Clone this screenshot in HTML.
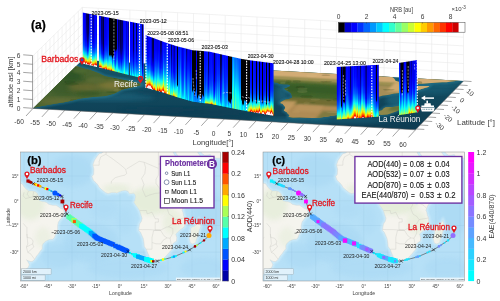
<!DOCTYPE html><html><head><meta charset="utf-8"><title>Figure</title><style>html,body{margin:0;padding:0;background:#fff}svg{display:block}</style></head><body><svg width="500" height="301" viewBox="0 0 500 301" font-family="'Liberation Sans', sans-serif"><defs><clipPath id="cpA"><polygon points="33,108.4 415.5,129.8 463.5,81 82.3,60"/></clipPath><filter id="bl1" x="-20%" y="-20%" width="140%" height="140%"><feGaussianBlur stdDeviation="1.2"/></filter><filter id="bl2" x="-20%" y="-20%" width="140%" height="140%"><feGaussianBlur stdDeviation="2.5"/></filter><filter id="bl05" x="-20%" y="-20%" width="140%" height="140%"><feGaussianBlur stdDeviation="0.5"/></filter><linearGradient id="ocA" x1="0" y1="0" x2="0" y2="1"><stop offset="0" stop-color="#15566a"/><stop offset="1" stop-color="#0d3a50"/></linearGradient><clipPath id="landA"><polygon points="76.3,65.9 80,67.3 84,68.4 90,70 98,73 105,76.3 115,78.2 125,80.2 135,82.3 140.3,84.1 141,85 135,86.7 125,88.7 120,90.6 115,93.2 110,94.8 105,96 98,96.6 90,97.2 80,98.4 75,99.8 70,101 63,102.4 56,103.6 49,104.8 42,106 36,107.2 31,108.6 28,108 72,64"/><polygon points="250.6,60 248.3,61.6 242.8,62.1 237.8,62.1 231.6,63.2 225.3,64.5 220.1,66.3 220.3,68.4 217.3,70.8 213.1,71.7 213.8,73.5 218,75 221,76.5 222.2,77.5 225.8,79 232.3,80.9 236.6,81.6 245.1,81.5 251.5,81.8 254.4,82.3 261.5,81.9 265.6,81.8 272.9,81.9 277.5,82.7 279.5,84.1 284.4,84.2 287.6,84.3 290.2,85.1 290.1,86.2 288,87.3 286.5,88.1 284.4,88.5 285.6,89.7 288.7,91.6 290.7,92.9 291.2,93.5 291.9,95.8 292.3,97.4 289.6,98.8 284.9,99.8 281.4,101.7 280.2,102.9 282.5,103.8 285.2,106.9 284.8,109 283.8,110.6 286.7,112.2 287.7,113.8 289.4,115.2 288.5,116.7 290.1,117.2 292.9,117.7 299.9,117.5 304.7,117.7 311.7,118.1 316.3,117.9 320,117.5 327.8,116.5 331.9,115.8 336.9,115 340.6,113.4 340.1,112.9 343.7,112.3 350.2,111.8 352.4,110.3 351.8,108.5 358.4,107.6 364.2,106.9 371.5,106.3 374.9,105.2 375.9,103.6 377.1,101.9 376.1,100.6 376.4,98.9 375.6,98.1 377.9,97.1 382.8,95.5 387.7,94.9 394.1,93.6 399.7,93.1 405.2,92.5 413.2,91.3 419.9,89.6 424.6,88.1 428.1,87.1 429.4,86 425.1,86 418.4,85.9 411.7,86 406.7,86 403.7,84.9 403.7,83.9 401.6,82.6 397.6,81.6 395.2,80.6 394.6,78.9 391.8,76.6 392,75.4 389.5,73.6 387.6,71.3 385.7,70 384,68.3 384.9,67.4 392.5,67.8 391.3,69"/><polygon points="392.5,67.8 391.3,69 390.4,70.2 394.8,72.6 398,74.4 398.6,76.2 401.2,78 403.9,80.2 404.9,82 404.9,83.7 405.3,83.9 410.2,84.1 417.1,83.9 424.2,83.5 434.9,82.8 442.1,82.3 446.6,82.2 451.2,81.6 455.8,81 460.5,80 464.8,79 461.6,77.8 457.5,76.9 457,75.3 455.5,75.5 451.8,75.9 444.6,76.4 440.2,76.1 441.1,74.9 438.6,75 437.5,74.1 434.7,72.8 432.9,71.3 435.3,70.6 439.6,71.3 441.2,73 446.6,74.3 453.1,74.5 458.1,74.6 460,76 467.7,76.8 476.5,77.3 486.8,77.7 491.2,73.2"/><polygon points="404.3,104.7 404.8,107.3 405.3,107.7 401.9,108.8 399.9,109.5 396,111.4 391.8,112.9 387.4,114.6 381.4,114.9 377.1,114.2 376.9,112 378.3,111.3 382,110.2 383.7,108.2 385.7,107.2 392.6,107 397.5,106.4 401.9,105.4"/></clipPath><linearGradient id="c0" x1="0" y1="0" x2="0" y2="1"><stop offset="0" stop-color="#0008ff"/><stop offset="0.2" stop-color="#000eff"/><stop offset="0.38" stop-color="#0015ff"/><stop offset="0.52" stop-color="#0022ff"/><stop offset="0.63" stop-color="#0047ff"/><stop offset="0.72" stop-color="#0092ff"/><stop offset="0.79" stop-color="#00fbff"/><stop offset="0.845" stop-color="#78ff87"/><stop offset="0.89" stop-color="#fffa00"/><stop offset="0.925" stop-color="#ff6b00"/><stop offset="0.955" stop-color="#e50000"/><stop offset="0.98" stop-color="#fff0ec"/><stop offset="1" stop-color="#fff0ec"/></linearGradient><linearGradient id="c1" x1="0" y1="0" x2="0" y2="1"><stop offset="0" stop-color="#0001ff"/><stop offset="0.2" stop-color="#0008ff"/><stop offset="0.38" stop-color="#0011ff"/><stop offset="0.52" stop-color="#0027ff"/><stop offset="0.63" stop-color="#0052ff"/><stop offset="0.72" stop-color="#009bff"/><stop offset="0.79" stop-color="#00feff"/><stop offset="0.845" stop-color="#7dff82"/><stop offset="0.89" stop-color="#ffe400"/><stop offset="0.925" stop-color="#ff3500"/><stop offset="0.955" stop-color="#fff0ec"/><stop offset="0.98" stop-color="#fff0ec"/><stop offset="1" stop-color="#fff0ec"/></linearGradient><linearGradient id="c2" x1="0" y1="0" x2="0" y2="1"><stop offset="0" stop-color="#0000f8"/><stop offset="0.2" stop-color="#0000fe"/><stop offset="0.38" stop-color="#0006ff"/><stop offset="0.52" stop-color="#0018ff"/><stop offset="0.63" stop-color="#003fff"/><stop offset="0.72" stop-color="#0081ff"/><stop offset="0.79" stop-color="#00d6ff"/><stop offset="0.845" stop-color="#3cffc3"/><stop offset="0.89" stop-color="#b2ff4d"/><stop offset="0.925" stop-color="#ffd100"/><stop offset="0.955" stop-color="#ff4700"/><stop offset="0.98" stop-color="#fff0ec"/><stop offset="1" stop-color="#fff0ec"/></linearGradient><linearGradient id="c3" x1="0" y1="0" x2="0" y2="1"><stop offset="0" stop-color="#0000e6"/><stop offset="0.2" stop-color="#0000ea"/><stop offset="0.38" stop-color="#0000ef"/><stop offset="0.52" stop-color="#0000fb"/><stop offset="0.63" stop-color="#001fff"/><stop offset="0.72" stop-color="#0069ff"/><stop offset="0.79" stop-color="#00cfff"/><stop offset="0.845" stop-color="#43ffbc"/><stop offset="0.89" stop-color="#baff45"/><stop offset="0.925" stop-color="#ffd100"/><stop offset="0.955" stop-color="#ff5a00"/><stop offset="0.98" stop-color="#e50000"/><stop offset="1" stop-color="#fff0ec"/></linearGradient><linearGradient id="c4" x1="0" y1="0" x2="0" y2="1"><stop offset="0" stop-color="#000062"/><stop offset="0.2" stop-color="#00006e"/><stop offset="0.38" stop-color="#00009b"/><stop offset="0.52" stop-color="#0000e5"/><stop offset="0.63" stop-color="#001aff"/><stop offset="0.72" stop-color="#0060ff"/><stop offset="0.79" stop-color="#00b7ff"/><stop offset="0.845" stop-color="#21ffde"/><stop offset="0.89" stop-color="#a0ff5f"/><stop offset="0.925" stop-color="#ffd000"/><stop offset="0.955" stop-color="#ff2c00"/><stop offset="0.98" stop-color="#fff0ec"/><stop offset="1" stop-color="#fff0ec"/></linearGradient><linearGradient id="c5" x1="0" y1="0" x2="0" y2="1"><stop offset="0" stop-color="#000053"/><stop offset="0.2" stop-color="#000058"/><stop offset="0.38" stop-color="#000063"/><stop offset="0.52" stop-color="#000088"/><stop offset="0.63" stop-color="#0000de"/><stop offset="0.72" stop-color="#001dff"/><stop offset="0.79" stop-color="#0075ff"/><stop offset="0.845" stop-color="#00e2ff"/><stop offset="0.89" stop-color="#63ff9c"/><stop offset="0.925" stop-color="#ebff14"/><stop offset="0.955" stop-color="#ff7a00"/><stop offset="0.98" stop-color="#e50000"/><stop offset="1" stop-color="#fff0ec"/></linearGradient><linearGradient id="c6" x1="0" y1="0" x2="0" y2="1"><stop offset="0" stop-color="#000047"/><stop offset="0.2" stop-color="#00004d"/><stop offset="0.38" stop-color="#000067"/><stop offset="0.52" stop-color="#0000bb"/><stop offset="0.63" stop-color="#0006ff"/><stop offset="0.72" stop-color="#0057ff"/><stop offset="0.79" stop-color="#00b9ff"/><stop offset="0.845" stop-color="#28ffd7"/><stop offset="0.89" stop-color="#a2ff5d"/><stop offset="0.925" stop-color="#ffde00"/><stop offset="0.955" stop-color="#ff5600"/><stop offset="0.98" stop-color="#e50000"/><stop offset="1" stop-color="#fff0ec"/></linearGradient><linearGradient id="c7" x1="0" y1="0" x2="0" y2="1"><stop offset="0" stop-color="#0000fd"/><stop offset="0.2" stop-color="#0006ff"/><stop offset="0.38" stop-color="#001cff"/><stop offset="0.52" stop-color="#0049ff"/><stop offset="0.63" stop-color="#008bff"/><stop offset="0.72" stop-color="#00daff"/><stop offset="0.79" stop-color="#2dffd2"/><stop offset="0.845" stop-color="#80ff7f"/><stop offset="0.89" stop-color="#d8ff27"/><stop offset="0.925" stop-color="#ffce00"/><stop offset="0.955" stop-color="#ff6d00"/><stop offset="0.98" stop-color="#ff0800"/><stop offset="1" stop-color="#fff0ec"/></linearGradient><linearGradient id="c8" x1="0" y1="0" x2="0" y2="1"><stop offset="0" stop-color="#0000fc"/><stop offset="0.2" stop-color="#0003ff"/><stop offset="0.38" stop-color="#000bff"/><stop offset="0.52" stop-color="#0020ff"/><stop offset="0.63" stop-color="#0052ff"/><stop offset="0.72" stop-color="#00a8ff"/><stop offset="0.79" stop-color="#17ffe8"/><stop offset="0.845" stop-color="#91ff6e"/><stop offset="0.89" stop-color="#ffe800"/><stop offset="0.925" stop-color="#ff6100"/><stop offset="0.955" stop-color="#e50000"/><stop offset="0.98" stop-color="#fff0ec"/><stop offset="1" stop-color="#fff0ec"/></linearGradient><linearGradient id="c9" x1="0" y1="0" x2="0" y2="1"><stop offset="0" stop-color="#000fff"/><stop offset="0.2" stop-color="#0016ff"/><stop offset="0.38" stop-color="#0027ff"/><stop offset="0.52" stop-color="#0049ff"/><stop offset="0.63" stop-color="#007dff"/><stop offset="0.72" stop-color="#00c1ff"/><stop offset="0.79" stop-color="#0dfff2"/><stop offset="0.845" stop-color="#61ff9e"/><stop offset="0.89" stop-color="#c3ff3c"/><stop offset="0.925" stop-color="#ffce00"/><stop offset="0.955" stop-color="#ff4d00"/><stop offset="0.98" stop-color="#e50000"/><stop offset="1" stop-color="#fff0ec"/></linearGradient><linearGradient id="c10" x1="0" y1="0" x2="0" y2="1"><stop offset="0" stop-color="#0000d3"/><stop offset="0.2" stop-color="#0000d7"/><stop offset="0.38" stop-color="#0000e0"/><stop offset="0.52" stop-color="#0000f9"/><stop offset="0.63" stop-color="#0025ff"/><stop offset="0.72" stop-color="#0060ff"/><stop offset="0.79" stop-color="#00a4ff"/><stop offset="0.845" stop-color="#00f0ff"/><stop offset="0.89" stop-color="#4effb1"/><stop offset="0.925" stop-color="#b7ff48"/><stop offset="0.955" stop-color="#ffc800"/><stop offset="0.98" stop-color="#ff3600"/><stop offset="1" stop-color="#fff0ec"/></linearGradient><linearGradient id="c11" x1="0" y1="0" x2="0" y2="1"><stop offset="0" stop-color="#0000a3"/><stop offset="0.2" stop-color="#0000ad"/><stop offset="0.38" stop-color="#0000c2"/><stop offset="0.52" stop-color="#0000e6"/><stop offset="0.63" stop-color="#0015ff"/><stop offset="0.72" stop-color="#0059ff"/><stop offset="0.79" stop-color="#00aaff"/><stop offset="0.845" stop-color="#06fff9"/><stop offset="0.89" stop-color="#70ff8f"/><stop offset="0.925" stop-color="#e6ff19"/><stop offset="0.955" stop-color="#ff8c00"/><stop offset="0.98" stop-color="#ed0000"/><stop offset="1" stop-color="#fff0ec"/></linearGradient><linearGradient id="c12" x1="0" y1="0" x2="0" y2="1"><stop offset="0" stop-color="#0000ef"/><stop offset="0.2" stop-color="#0000f4"/><stop offset="0.38" stop-color="#0000fa"/><stop offset="0.52" stop-color="#0004ff"/><stop offset="0.63" stop-color="#0020ff"/><stop offset="0.72" stop-color="#005fff"/><stop offset="0.79" stop-color="#00bcff"/><stop offset="0.845" stop-color="#2cffd3"/><stop offset="0.89" stop-color="#aaff55"/><stop offset="0.925" stop-color="#ffd400"/><stop offset="0.955" stop-color="#ff4800"/><stop offset="0.98" stop-color="#fff0ec"/><stop offset="1" stop-color="#fff0ec"/></linearGradient><linearGradient id="c13" x1="0" y1="0" x2="0" y2="1"><stop offset="0" stop-color="#0003ff"/><stop offset="0.2" stop-color="#0008ff"/><stop offset="0.38" stop-color="#000fff"/><stop offset="0.52" stop-color="#001dff"/><stop offset="0.63" stop-color="#0043ff"/><stop offset="0.72" stop-color="#008dff"/><stop offset="0.79" stop-color="#00f2ff"/><stop offset="0.845" stop-color="#68ff97"/><stop offset="0.89" stop-color="#ebff14"/><stop offset="0.925" stop-color="#ff8d00"/><stop offset="0.955" stop-color="#f80000"/><stop offset="0.98" stop-color="#fff0ec"/><stop offset="1" stop-color="#fff0ec"/></linearGradient><linearGradient id="c14" x1="0" y1="0" x2="0" y2="1"><stop offset="0" stop-color="#0000f5"/><stop offset="0.2" stop-color="#0000fb"/><stop offset="0.38" stop-color="#0005ff"/><stop offset="0.52" stop-color="#001cff"/><stop offset="0.63" stop-color="#004aff"/><stop offset="0.72" stop-color="#0090ff"/><stop offset="0.79" stop-color="#00e7ff"/><stop offset="0.845" stop-color="#51ffae"/><stop offset="0.89" stop-color="#cfff30"/><stop offset="0.925" stop-color="#ffa200"/><stop offset="0.955" stop-color="#fc0000"/><stop offset="0.98" stop-color="#fff0ec"/><stop offset="1" stop-color="#fff0ec"/></linearGradient><linearGradient id="c15" x1="0" y1="0" x2="0" y2="1"><stop offset="0" stop-color="#0000f5"/><stop offset="0.2" stop-color="#0000fa"/><stop offset="0.38" stop-color="#0001ff"/><stop offset="0.52" stop-color="#000eff"/><stop offset="0.63" stop-color="#002dff"/><stop offset="0.72" stop-color="#0066ff"/><stop offset="0.79" stop-color="#00b0ff"/><stop offset="0.845" stop-color="#08fff7"/><stop offset="0.89" stop-color="#6eff91"/><stop offset="0.925" stop-color="#ddff22"/><stop offset="0.955" stop-color="#ff9f00"/><stop offset="0.98" stop-color="#ff0e00"/><stop offset="1" stop-color="#fff0ec"/></linearGradient><linearGradient id="c16" x1="0" y1="0" x2="0" y2="1"><stop offset="0" stop-color="#0009ff"/><stop offset="0.2" stop-color="#0010ff"/><stop offset="0.38" stop-color="#0016ff"/><stop offset="0.52" stop-color="#0023ff"/><stop offset="0.63" stop-color="#0040ff"/><stop offset="0.72" stop-color="#0075ff"/><stop offset="0.79" stop-color="#00bdff"/><stop offset="0.845" stop-color="#15ffea"/><stop offset="0.89" stop-color="#7cff83"/><stop offset="0.925" stop-color="#ebff14"/><stop offset="0.955" stop-color="#ff9300"/><stop offset="0.98" stop-color="#ff0700"/><stop offset="1" stop-color="#fff0ec"/></linearGradient><linearGradient id="c17" x1="0" y1="0" x2="0" y2="1"><stop offset="0" stop-color="#000065"/><stop offset="0.2" stop-color="#00006a"/><stop offset="0.38" stop-color="#000077"/><stop offset="0.52" stop-color="#0000a6"/><stop offset="0.63" stop-color="#0000ec"/><stop offset="0.72" stop-color="#002aff"/><stop offset="0.79" stop-color="#0077ff"/><stop offset="0.845" stop-color="#00d2ff"/><stop offset="0.89" stop-color="#3cffc3"/><stop offset="0.925" stop-color="#aeff51"/><stop offset="0.955" stop-color="#ffcd00"/><stop offset="0.98" stop-color="#ff3d00"/><stop offset="1" stop-color="#fff0ec"/></linearGradient><linearGradient id="c18" x1="0" y1="0" x2="0" y2="1"><stop offset="0" stop-color="#000071"/><stop offset="0.2" stop-color="#000077"/><stop offset="0.38" stop-color="#00007e"/><stop offset="0.52" stop-color="#000092"/><stop offset="0.63" stop-color="#0000d8"/><stop offset="0.72" stop-color="#000dff"/><stop offset="0.79" stop-color="#0059ff"/><stop offset="0.845" stop-color="#00b0ff"/><stop offset="0.89" stop-color="#0dfff2"/><stop offset="0.925" stop-color="#67ff98"/><stop offset="0.955" stop-color="#c7ff38"/><stop offset="0.98" stop-color="#ffd400"/><stop offset="1" stop-color="#ff7300"/></linearGradient><linearGradient id="c19" x1="0" y1="0" x2="0" y2="1"><stop offset="0" stop-color="#00003b"/><stop offset="0.2" stop-color="#00003e"/><stop offset="0.38" stop-color="#000041"/><stop offset="0.52" stop-color="#00004d"/><stop offset="0.63" stop-color="#00007f"/><stop offset="0.72" stop-color="#0000e6"/><stop offset="0.79" stop-color="#0029ff"/><stop offset="0.845" stop-color="#007eff"/><stop offset="0.89" stop-color="#00e2ff"/><stop offset="0.925" stop-color="#4fffb0"/><stop offset="0.955" stop-color="#ccff33"/><stop offset="0.98" stop-color="#ffa700"/><stop offset="1" stop-color="#ff1800"/></linearGradient><linearGradient id="c20" x1="0" y1="0" x2="0" y2="1"><stop offset="0" stop-color="#0000e5"/><stop offset="0.2" stop-color="#0000e9"/><stop offset="0.38" stop-color="#0000ee"/><stop offset="0.52" stop-color="#0000f5"/><stop offset="0.63" stop-color="#000aff"/><stop offset="0.72" stop-color="#0038ff"/><stop offset="0.79" stop-color="#007dff"/><stop offset="0.845" stop-color="#00d1ff"/><stop offset="0.89" stop-color="#34ffcb"/><stop offset="0.925" stop-color="#99ff66"/><stop offset="0.955" stop-color="#fff300"/><stop offset="0.98" stop-color="#ff7800"/><stop offset="1" stop-color="#fc0000"/></linearGradient><linearGradient id="c21" x1="0" y1="0" x2="0" y2="1"><stop offset="0" stop-color="#0000dd"/><stop offset="0.2" stop-color="#0000e2"/><stop offset="0.38" stop-color="#0000ef"/><stop offset="0.52" stop-color="#0007ff"/><stop offset="0.63" stop-color="#002cff"/><stop offset="0.72" stop-color="#005cff"/><stop offset="0.79" stop-color="#0099ff"/><stop offset="0.845" stop-color="#00e5ff"/><stop offset="0.89" stop-color="#46ffb9"/><stop offset="0.925" stop-color="#b2ff4d"/><stop offset="0.955" stop-color="#ffcb00"/><stop offset="0.98" stop-color="#ff3c00"/><stop offset="1" stop-color="#fff0ec"/></linearGradient><linearGradient id="c22" x1="0" y1="0" x2="0" y2="1"><stop offset="0" stop-color="#0000ee"/><stop offset="0.2" stop-color="#0000f3"/><stop offset="0.38" stop-color="#0000f9"/><stop offset="0.52" stop-color="#0008ff"/><stop offset="0.63" stop-color="#0029ff"/><stop offset="0.72" stop-color="#0064ff"/><stop offset="0.79" stop-color="#00b1ff"/><stop offset="0.845" stop-color="#0afff5"/><stop offset="0.89" stop-color="#6cff93"/><stop offset="0.925" stop-color="#cfff30"/><stop offset="0.955" stop-color="#ffc100"/><stop offset="0.98" stop-color="#ff4e00"/><stop offset="1" stop-color="#e50000"/></linearGradient><linearGradient id="c23" x1="0" y1="0" x2="0" y2="1"><stop offset="0" stop-color="#0000fe"/><stop offset="0.2" stop-color="#0004ff"/><stop offset="0.38" stop-color="#000bff"/><stop offset="0.52" stop-color="#0015ff"/><stop offset="0.63" stop-color="#002eff"/><stop offset="0.72" stop-color="#005bff"/><stop offset="0.79" stop-color="#0096ff"/><stop offset="0.845" stop-color="#00daff"/><stop offset="0.89" stop-color="#28ffd7"/><stop offset="0.925" stop-color="#76ff89"/><stop offset="0.955" stop-color="#ccff33"/><stop offset="0.98" stop-color="#ffd600"/><stop offset="1" stop-color="#ff7d00"/></linearGradient><linearGradient id="c24" x1="0" y1="0" x2="0" y2="1"><stop offset="0" stop-color="#0000ff"/><stop offset="0.2" stop-color="#0008ff"/><stop offset="0.38" stop-color="#0016ff"/><stop offset="0.52" stop-color="#002fff"/><stop offset="0.63" stop-color="#0051ff"/><stop offset="0.72" stop-color="#007cff"/><stop offset="0.79" stop-color="#00aeff"/><stop offset="0.845" stop-color="#00e9ff"/><stop offset="0.89" stop-color="#33ffcc"/><stop offset="0.925" stop-color="#86ff79"/><stop offset="0.955" stop-color="#e9ff16"/><stop offset="0.98" stop-color="#ffa700"/><stop offset="1" stop-color="#ff3700"/></linearGradient><linearGradient id="c25" x1="0" y1="0" x2="0" y2="1"><stop offset="0" stop-color="#000004"/><stop offset="0.697" stop-color="#000004"/><stop offset="0.747" stop-color="#00afff"/><stop offset="0.79" stop-color="#00d4ff"/><stop offset="0.845" stop-color="#11ffee"/><stop offset="0.89" stop-color="#56ffa9"/><stop offset="0.925" stop-color="#9fff60"/><stop offset="0.955" stop-color="#f3ff0c"/><stop offset="0.98" stop-color="#ffad00"/><stop offset="1" stop-color="#ff4f00"/></linearGradient><linearGradient id="c26" x1="0" y1="0" x2="0" y2="1"><stop offset="0" stop-color="#000004"/><stop offset="0.693" stop-color="#000004"/><stop offset="0.743" stop-color="#009aff"/><stop offset="0.79" stop-color="#00caff"/><stop offset="0.845" stop-color="#11ffee"/><stop offset="0.89" stop-color="#58ffa7"/><stop offset="0.925" stop-color="#9eff61"/><stop offset="0.955" stop-color="#ebff14"/><stop offset="0.98" stop-color="#ffc300"/><stop offset="1" stop-color="#ff7400"/></linearGradient><linearGradient id="c27" x1="0" y1="0" x2="0" y2="1"><stop offset="0" stop-color="#000004"/><stop offset="0.694" stop-color="#000004"/><stop offset="0.744" stop-color="#0089ff"/><stop offset="0.79" stop-color="#00b8ff"/><stop offset="0.845" stop-color="#00ffff"/><stop offset="0.89" stop-color="#4fffb0"/><stop offset="0.925" stop-color="#a5ff5a"/><stop offset="0.955" stop-color="#ffef00"/><stop offset="0.98" stop-color="#ff7100"/><stop offset="1" stop-color="#e70000"/></linearGradient><linearGradient id="c28" x1="0" y1="0" x2="0" y2="1"><stop offset="0" stop-color="#000004"/><stop offset="0.732" stop-color="#000004"/><stop offset="0.782" stop-color="#004dff"/><stop offset="0.79" stop-color="#0053ff"/><stop offset="0.845" stop-color="#008bff"/><stop offset="0.89" stop-color="#00cfff"/><stop offset="0.925" stop-color="#1cffe3"/><stop offset="0.955" stop-color="#77ff88"/><stop offset="0.98" stop-color="#deff21"/><stop offset="1" stop-color="#ffb200"/></linearGradient><linearGradient id="c29" x1="0" y1="0" x2="0" y2="1"><stop offset="0" stop-color="#000004"/><stop offset="0.693" stop-color="#000004"/><stop offset="0.743" stop-color="#0081ff"/><stop offset="0.79" stop-color="#00abff"/><stop offset="0.845" stop-color="#00e5ff"/><stop offset="0.89" stop-color="#20ffdf"/><stop offset="0.925" stop-color="#5bffa4"/><stop offset="0.955" stop-color="#a0ff5f"/><stop offset="0.98" stop-color="#efff10"/><stop offset="1" stop-color="#ffbd00"/></linearGradient><linearGradient id="c30" x1="0" y1="0" x2="0" y2="1"><stop offset="0" stop-color="#000004"/><stop offset="0.566" stop-color="#000004"/><stop offset="0.616" stop-color="#0000f3"/><stop offset="0.63" stop-color="#0000f8"/><stop offset="0.72" stop-color="#0021ff"/><stop offset="0.79" stop-color="#004fff"/><stop offset="0.845" stop-color="#0081ff"/><stop offset="0.89" stop-color="#00b9ff"/><stop offset="0.925" stop-color="#00f7ff"/><stop offset="0.955" stop-color="#40ffbf"/><stop offset="0.98" stop-color="#92ff6d"/><stop offset="1" stop-color="#e7ff18"/></linearGradient><linearGradient id="c31" x1="0" y1="0" x2="0" y2="1"><stop offset="0" stop-color="#000004"/><stop offset="0.584" stop-color="#000004"/><stop offset="0.634" stop-color="#0000e4"/><stop offset="0.72" stop-color="#0003ff"/><stop offset="0.79" stop-color="#0028ff"/><stop offset="0.845" stop-color="#004fff"/><stop offset="0.89" stop-color="#007cff"/><stop offset="0.925" stop-color="#00aeff"/><stop offset="0.955" stop-color="#00ebff"/><stop offset="0.98" stop-color="#35ffca"/><stop offset="1" stop-color="#85ff7a"/></linearGradient><linearGradient id="c32" x1="0" y1="0" x2="0" y2="1"><stop offset="0" stop-color="#000004"/><stop offset="0.56" stop-color="#000004"/><stop offset="0.61" stop-color="#0008ff"/><stop offset="0.63" stop-color="#000eff"/><stop offset="0.72" stop-color="#003cff"/><stop offset="0.79" stop-color="#0076ff"/><stop offset="0.845" stop-color="#00aeff"/><stop offset="0.89" stop-color="#00dfff"/><stop offset="0.925" stop-color="#08fff7"/><stop offset="0.955" stop-color="#2cffd3"/><stop offset="0.98" stop-color="#4dffb2"/><stop offset="1" stop-color="#6bff94"/></linearGradient><linearGradient id="c33" x1="0" y1="0" x2="0" y2="1"><stop offset="0" stop-color="#0000f8"/><stop offset="0.2" stop-color="#0000fd"/><stop offset="0.38" stop-color="#0004ff"/><stop offset="0.52" stop-color="#000dff"/><stop offset="0.63" stop-color="#0025ff"/><stop offset="0.72" stop-color="#0051ff"/><stop offset="0.79" stop-color="#0085ff"/><stop offset="0.845" stop-color="#00b5ff"/><stop offset="0.89" stop-color="#00dbff"/><stop offset="0.925" stop-color="#00f4ff"/><stop offset="0.955" stop-color="#06fff9"/><stop offset="0.98" stop-color="#10ffef"/><stop offset="1" stop-color="#16ffe9"/></linearGradient><linearGradient id="c34" x1="0" y1="0" x2="0" y2="1"><stop offset="0" stop-color="#00004e"/><stop offset="0.2" stop-color="#000053"/><stop offset="0.38" stop-color="#000061"/><stop offset="0.52" stop-color="#00008b"/><stop offset="0.63" stop-color="#0000d9"/><stop offset="0.72" stop-color="#0000fb"/><stop offset="0.79" stop-color="#0023ff"/><stop offset="0.845" stop-color="#004eff"/><stop offset="0.89" stop-color="#0080ff"/><stop offset="0.925" stop-color="#00baff"/><stop offset="0.955" stop-color="#04fffb"/><stop offset="0.98" stop-color="#5affa5"/><stop offset="1" stop-color="#b6ff49"/></linearGradient><linearGradient id="c35" x1="0" y1="0" x2="0" y2="1"><stop offset="0" stop-color="#000075"/><stop offset="0.2" stop-color="#00007d"/><stop offset="0.38" stop-color="#00008f"/><stop offset="0.52" stop-color="#0000ba"/><stop offset="0.63" stop-color="#0000e6"/><stop offset="0.72" stop-color="#0004ff"/><stop offset="0.79" stop-color="#0024ff"/><stop offset="0.845" stop-color="#0048ff"/><stop offset="0.89" stop-color="#0073ff"/><stop offset="0.925" stop-color="#00a6ff"/><stop offset="0.955" stop-color="#00e7ff"/><stop offset="0.98" stop-color="#35ffca"/><stop offset="1" stop-color="#89ff76"/></linearGradient><linearGradient id="c36" x1="0" y1="0" x2="0" y2="1"><stop offset="0" stop-color="#000046"/><stop offset="0.2" stop-color="#00004a"/><stop offset="0.38" stop-color="#00004f"/><stop offset="0.52" stop-color="#000061"/><stop offset="0.63" stop-color="#0000a3"/><stop offset="0.72" stop-color="#0000f3"/><stop offset="0.79" stop-color="#002cff"/><stop offset="0.845" stop-color="#0062ff"/><stop offset="0.89" stop-color="#0092ff"/><stop offset="0.925" stop-color="#00b7ff"/><stop offset="0.955" stop-color="#00d8ff"/><stop offset="0.98" stop-color="#00f5ff"/><stop offset="1" stop-color="#10ffef"/></linearGradient><linearGradient id="c37" x1="0" y1="0" x2="0" y2="1"><stop offset="0" stop-color="#000062"/><stop offset="0.2" stop-color="#000067"/><stop offset="0.38" stop-color="#00006c"/><stop offset="0.52" stop-color="#000075"/><stop offset="0.63" stop-color="#000097"/><stop offset="0.72" stop-color="#0000e0"/><stop offset="0.79" stop-color="#000cff"/><stop offset="0.845" stop-color="#003cff"/><stop offset="0.89" stop-color="#006cff"/><stop offset="0.925" stop-color="#0098ff"/><stop offset="0.955" stop-color="#00c5ff"/><stop offset="0.98" stop-color="#00f2ff"/><stop offset="1" stop-color="#20ffdf"/></linearGradient><linearGradient id="c38" x1="0" y1="0" x2="0" y2="1"><stop offset="0" stop-color="#00005a"/><stop offset="0.2" stop-color="#00005f"/><stop offset="0.38" stop-color="#000067"/><stop offset="0.52" stop-color="#000087"/><stop offset="0.63" stop-color="#0000db"/><stop offset="0.72" stop-color="#000dff"/><stop offset="0.79" stop-color="#0044ff"/><stop offset="0.845" stop-color="#0075ff"/><stop offset="0.89" stop-color="#009dff"/><stop offset="0.925" stop-color="#00bbff"/><stop offset="0.955" stop-color="#00d4ff"/><stop offset="0.98" stop-color="#00e9ff"/><stop offset="1" stop-color="#00fcff"/></linearGradient><linearGradient id="c39" x1="0" y1="0" x2="0" y2="1"><stop offset="0" stop-color="#0000fa"/><stop offset="0.2" stop-color="#0000ff"/><stop offset="0.38" stop-color="#0005ff"/><stop offset="0.52" stop-color="#000bff"/><stop offset="0.63" stop-color="#0019ff"/><stop offset="0.72" stop-color="#0037ff"/><stop offset="0.79" stop-color="#0061ff"/><stop offset="0.845" stop-color="#008dff"/><stop offset="0.89" stop-color="#00b6ff"/><stop offset="0.925" stop-color="#00d8ff"/><stop offset="0.955" stop-color="#00f8ff"/><stop offset="0.98" stop-color="#17ffe8"/><stop offset="1" stop-color="#34ffcb"/></linearGradient><linearGradient id="c40" x1="0" y1="0" x2="0" y2="1"><stop offset="0" stop-color="#0009ff"/><stop offset="0.2" stop-color="#000fff"/><stop offset="0.38" stop-color="#0018ff"/><stop offset="0.52" stop-color="#002aff"/><stop offset="0.63" stop-color="#004dff"/><stop offset="0.72" stop-color="#007dff"/><stop offset="0.79" stop-color="#00afff"/><stop offset="0.845" stop-color="#00daff"/><stop offset="0.89" stop-color="#02fffd"/><stop offset="0.925" stop-color="#22ffdd"/><stop offset="0.955" stop-color="#42ffbd"/><stop offset="0.98" stop-color="#62ff9d"/><stop offset="1" stop-color="#81ff7e"/></linearGradient><linearGradient id="c41" x1="0" y1="0" x2="0" y2="1"><stop offset="0" stop-color="#0007ff"/><stop offset="0.2" stop-color="#000dff"/><stop offset="0.38" stop-color="#0013ff"/><stop offset="0.52" stop-color="#001dff"/><stop offset="0.63" stop-color="#002fff"/><stop offset="0.72" stop-color="#004bff"/><stop offset="0.79" stop-color="#006aff"/><stop offset="0.845" stop-color="#0087ff"/><stop offset="0.89" stop-color="#00a2ff"/><stop offset="0.925" stop-color="#00bcff"/><stop offset="0.955" stop-color="#00d7ff"/><stop offset="0.98" stop-color="#00f5ff"/><stop offset="1" stop-color="#15ffea"/></linearGradient><linearGradient id="c42" x1="0" y1="0" x2="0" y2="1"><stop offset="0" stop-color="#0000be"/><stop offset="0.2" stop-color="#0000d3"/><stop offset="0.38" stop-color="#0000d7"/><stop offset="0.52" stop-color="#0000e1"/><stop offset="0.63" stop-color="#0000f9"/><stop offset="0.72" stop-color="#0021ff"/><stop offset="0.79" stop-color="#004cff"/><stop offset="0.845" stop-color="#0074ff"/><stop offset="0.89" stop-color="#009bff"/><stop offset="0.925" stop-color="#00bfff"/><stop offset="0.955" stop-color="#00eaff"/><stop offset="0.98" stop-color="#1cffe3"/><stop offset="1" stop-color="#53ffac"/></linearGradient><linearGradient id="c43" x1="0" y1="0" x2="0" y2="1"><stop offset="0" stop-color="#0000fc"/><stop offset="0.2" stop-color="#0002ff"/><stop offset="0.38" stop-color="#0008ff"/><stop offset="0.52" stop-color="#0010ff"/><stop offset="0.63" stop-color="#0023ff"/><stop offset="0.72" stop-color="#0046ff"/><stop offset="0.79" stop-color="#006fff"/><stop offset="0.845" stop-color="#0095ff"/><stop offset="0.89" stop-color="#00b7ff"/><stop offset="0.925" stop-color="#00d2ff"/><stop offset="0.955" stop-color="#00eeff"/><stop offset="0.98" stop-color="#0cfff3"/><stop offset="1" stop-color="#2bffd4"/></linearGradient><linearGradient id="c44" x1="0" y1="0" x2="0" y2="1"><stop offset="0" stop-color="#0000aa"/><stop offset="0.2" stop-color="#0000b3"/><stop offset="0.38" stop-color="#0000c2"/><stop offset="0.52" stop-color="#0000de"/><stop offset="0.63" stop-color="#0000fb"/><stop offset="0.72" stop-color="#0026ff"/><stop offset="0.79" stop-color="#0051ff"/><stop offset="0.845" stop-color="#0073ff"/><stop offset="0.89" stop-color="#008dff"/><stop offset="0.925" stop-color="#009eff"/><stop offset="0.955" stop-color="#00aaff"/><stop offset="0.98" stop-color="#00b3ff"/><stop offset="1" stop-color="#00baff"/></linearGradient><linearGradient id="c45" x1="0" y1="0" x2="0" y2="1"><stop offset="0" stop-color="#0000f8"/><stop offset="0.2" stop-color="#0000fd"/><stop offset="0.38" stop-color="#0002ff"/><stop offset="0.52" stop-color="#0006ff"/><stop offset="0.63" stop-color="#000dff"/><stop offset="0.72" stop-color="#0020ff"/><stop offset="0.79" stop-color="#0047ff"/><stop offset="0.845" stop-color="#007aff"/><stop offset="0.89" stop-color="#00abff"/><stop offset="0.925" stop-color="#00cfff"/><stop offset="0.955" stop-color="#00e9ff"/><stop offset="0.98" stop-color="#00f9ff"/><stop offset="1" stop-color="#03fffc"/></linearGradient><linearGradient id="c46" x1="0" y1="0" x2="0" y2="1"><stop offset="0" stop-color="#0000f4"/><stop offset="0.2" stop-color="#0000f9"/><stop offset="0.38" stop-color="#0000fe"/><stop offset="0.52" stop-color="#0006ff"/><stop offset="0.63" stop-color="#0014ff"/><stop offset="0.72" stop-color="#002bff"/><stop offset="0.79" stop-color="#0045ff"/><stop offset="0.845" stop-color="#005dff"/><stop offset="0.89" stop-color="#0072ff"/><stop offset="0.925" stop-color="#0084ff"/><stop offset="0.955" stop-color="#0096ff"/><stop offset="0.98" stop-color="#00aaff"/><stop offset="1" stop-color="#00bfff"/></linearGradient><linearGradient id="c47" x1="0" y1="0" x2="0" y2="1"><stop offset="0" stop-color="#0000f5"/><stop offset="0.2" stop-color="#0000fa"/><stop offset="0.38" stop-color="#0000fe"/><stop offset="0.52" stop-color="#0004ff"/><stop offset="0.63" stop-color="#000fff"/><stop offset="0.72" stop-color="#002bff"/><stop offset="0.79" stop-color="#0054ff"/><stop offset="0.845" stop-color="#0081ff"/><stop offset="0.89" stop-color="#00a9ff"/><stop offset="0.925" stop-color="#00c8ff"/><stop offset="0.955" stop-color="#00e2ff"/><stop offset="0.98" stop-color="#00f8ff"/><stop offset="1" stop-color="#0cfff3"/></linearGradient><linearGradient id="c48" x1="0" y1="0" x2="0" y2="1"><stop offset="0" stop-color="#000041"/><stop offset="0.2" stop-color="#000045"/><stop offset="0.38" stop-color="#00004e"/><stop offset="0.52" stop-color="#000070"/><stop offset="0.63" stop-color="#0000ba"/><stop offset="0.72" stop-color="#0000f1"/><stop offset="0.79" stop-color="#0018ff"/><stop offset="0.845" stop-color="#003eff"/><stop offset="0.89" stop-color="#0065ff"/><stop offset="0.925" stop-color="#008dff"/><stop offset="0.955" stop-color="#00baff"/><stop offset="0.98" stop-color="#00ebff"/><stop offset="1" stop-color="#1fffe0"/></linearGradient><linearGradient id="c49" x1="0" y1="0" x2="0" y2="1"><stop offset="0" stop-color="#0000f5"/><stop offset="0.2" stop-color="#0000fa"/><stop offset="0.38" stop-color="#0000ff"/><stop offset="0.52" stop-color="#0006ff"/><stop offset="0.63" stop-color="#0015ff"/><stop offset="0.72" stop-color="#0030ff"/><stop offset="0.79" stop-color="#0052ff"/><stop offset="0.845" stop-color="#0072ff"/><stop offset="0.89" stop-color="#008fff"/><stop offset="0.925" stop-color="#00a5ff"/><stop offset="0.955" stop-color="#00b9ff"/><stop offset="0.98" stop-color="#00caff"/><stop offset="1" stop-color="#00daff"/></linearGradient><linearGradient id="c50" x1="0" y1="0" x2="0" y2="1"><stop offset="0" stop-color="#000aff"/><stop offset="0.2" stop-color="#0011ff"/><stop offset="0.38" stop-color="#0016ff"/><stop offset="0.52" stop-color="#001bff"/><stop offset="0.63" stop-color="#0024ff"/><stop offset="0.72" stop-color="#003bff"/><stop offset="0.79" stop-color="#005eff"/><stop offset="0.845" stop-color="#0086ff"/><stop offset="0.89" stop-color="#00aeff"/><stop offset="0.925" stop-color="#00cfff"/><stop offset="0.955" stop-color="#00eeff"/><stop offset="0.98" stop-color="#0dfff2"/><stop offset="1" stop-color="#29ffd6"/></linearGradient><linearGradient id="c51" x1="0" y1="0" x2="0" y2="1"><stop offset="0" stop-color="#000048"/><stop offset="0.2" stop-color="#00004c"/><stop offset="0.38" stop-color="#00005b"/><stop offset="0.52" stop-color="#00008e"/><stop offset="0.63" stop-color="#0000e2"/><stop offset="0.72" stop-color="#0011ff"/><stop offset="0.79" stop-color="#003fff"/><stop offset="0.845" stop-color="#0066ff"/><stop offset="0.89" stop-color="#0088ff"/><stop offset="0.925" stop-color="#00a5ff"/><stop offset="0.955" stop-color="#00c2ff"/><stop offset="0.98" stop-color="#00e1ff"/><stop offset="1" stop-color="#02fffd"/></linearGradient><linearGradient id="c52" x1="0" y1="0" x2="0" y2="1"><stop offset="0" stop-color="#0000fb"/><stop offset="0.2" stop-color="#0001ff"/><stop offset="0.38" stop-color="#0006ff"/><stop offset="0.52" stop-color="#000bff"/><stop offset="0.63" stop-color="#0013ff"/><stop offset="0.72" stop-color="#0027ff"/><stop offset="0.79" stop-color="#0047ff"/><stop offset="0.845" stop-color="#006dff"/><stop offset="0.89" stop-color="#0095ff"/><stop offset="0.925" stop-color="#00bdff"/><stop offset="0.955" stop-color="#00e9ff"/><stop offset="0.98" stop-color="#1bffe4"/><stop offset="1" stop-color="#4fffb0"/></linearGradient><linearGradient id="c53" x1="0" y1="0" x2="0" y2="1"><stop offset="0" stop-color="#000eff"/><stop offset="0.2" stop-color="#0015ff"/><stop offset="0.38" stop-color="#001cff"/><stop offset="0.52" stop-color="#0027ff"/><stop offset="0.63" stop-color="#003aff"/><stop offset="0.72" stop-color="#0054ff"/><stop offset="0.79" stop-color="#006eff"/><stop offset="0.845" stop-color="#0087ff"/><stop offset="0.89" stop-color="#00a1ff"/><stop offset="0.925" stop-color="#00bbff"/><stop offset="0.955" stop-color="#00ddff"/><stop offset="0.98" stop-color="#07fff8"/><stop offset="1" stop-color="#36ffc9"/></linearGradient><linearGradient id="c54" x1="0" y1="0" x2="0" y2="1"><stop offset="0" stop-color="#001aff"/><stop offset="0.2" stop-color="#0021ff"/><stop offset="0.38" stop-color="#0028ff"/><stop offset="0.52" stop-color="#002fff"/><stop offset="0.63" stop-color="#003eff"/><stop offset="0.72" stop-color="#005cff"/><stop offset="0.79" stop-color="#0084ff"/><stop offset="0.845" stop-color="#00acff"/><stop offset="0.89" stop-color="#00ceff"/><stop offset="0.925" stop-color="#00e8ff"/><stop offset="0.955" stop-color="#00feff"/><stop offset="0.98" stop-color="#13ffec"/><stop offset="1" stop-color="#26ffd9"/></linearGradient><linearGradient id="c55" x1="0" y1="0" x2="0" y2="1"><stop offset="0" stop-color="#001cff"/><stop offset="0.2" stop-color="#0023ff"/><stop offset="0.38" stop-color="#0029ff"/><stop offset="0.52" stop-color="#0031ff"/><stop offset="0.63" stop-color="#003eff"/><stop offset="0.72" stop-color="#0053ff"/><stop offset="0.79" stop-color="#006bff"/><stop offset="0.845" stop-color="#0081ff"/><stop offset="0.89" stop-color="#0093ff"/><stop offset="0.925" stop-color="#00a3ff"/><stop offset="0.955" stop-color="#00b2ff"/><stop offset="0.98" stop-color="#00c2ff"/><stop offset="1" stop-color="#00d4ff"/></linearGradient><linearGradient id="c56" x1="0" y1="0" x2="0" y2="1"><stop offset="0" stop-color="#0008ff"/><stop offset="0.2" stop-color="#000fff"/><stop offset="0.38" stop-color="#0015ff"/><stop offset="0.52" stop-color="#001fff"/><stop offset="0.63" stop-color="#0034ff"/><stop offset="0.72" stop-color="#0054ff"/><stop offset="0.79" stop-color="#0077ff"/><stop offset="0.845" stop-color="#0093ff"/><stop offset="0.89" stop-color="#00aaff"/><stop offset="0.925" stop-color="#00b9ff"/><stop offset="0.955" stop-color="#00c4ff"/><stop offset="0.98" stop-color="#00cdff"/><stop offset="1" stop-color="#00d4ff"/></linearGradient><linearGradient id="c57" x1="0" y1="0" x2="0" y2="1"><stop offset="0" stop-color="#00004b"/><stop offset="0.2" stop-color="#00004f"/><stop offset="0.38" stop-color="#000053"/><stop offset="0.52" stop-color="#000056"/><stop offset="0.63" stop-color="#00005c"/><stop offset="0.72" stop-color="#000077"/><stop offset="0.79" stop-color="#0000b3"/><stop offset="0.845" stop-color="#0000e7"/><stop offset="0.89" stop-color="#0007ff"/><stop offset="0.925" stop-color="#0027ff"/><stop offset="0.955" stop-color="#004cff"/><stop offset="0.98" stop-color="#0079ff"/><stop offset="1" stop-color="#00acff"/></linearGradient><linearGradient id="c58" x1="0" y1="0" x2="0" y2="1"><stop offset="0" stop-color="#0000ec"/><stop offset="0.2" stop-color="#0000f1"/><stop offset="0.38" stop-color="#0000f5"/><stop offset="0.52" stop-color="#0000fb"/><stop offset="0.63" stop-color="#0009ff"/><stop offset="0.72" stop-color="#0020ff"/><stop offset="0.79" stop-color="#003bff"/><stop offset="0.845" stop-color="#0055ff"/><stop offset="0.89" stop-color="#006cff"/><stop offset="0.925" stop-color="#007eff"/><stop offset="0.955" stop-color="#008eff"/><stop offset="0.98" stop-color="#009eff"/><stop offset="1" stop-color="#00adff"/></linearGradient><linearGradient id="c59" x1="0" y1="0" x2="0" y2="1"><stop offset="0" stop-color="#0005ff"/><stop offset="0.2" stop-color="#0013ff"/><stop offset="0.38" stop-color="#0030ff"/><stop offset="0.52" stop-color="#0060ff"/><stop offset="0.63" stop-color="#00a3ff"/><stop offset="0.72" stop-color="#00feff"/><stop offset="0.79" stop-color="#6eff91"/><stop offset="0.845" stop-color="#eeff11"/><stop offset="0.89" stop-color="#ff7e00"/><stop offset="0.925" stop-color="#e70000"/><stop offset="0.955" stop-color="#fff0ec"/><stop offset="0.98" stop-color="#fff0ec"/><stop offset="1" stop-color="#fff0ec"/></linearGradient><linearGradient id="c60" x1="0" y1="0" x2="0" y2="1"><stop offset="0" stop-color="#000eff"/><stop offset="0.2" stop-color="#001fff"/><stop offset="0.38" stop-color="#003fff"/><stop offset="0.52" stop-color="#006cff"/><stop offset="0.63" stop-color="#00a3ff"/><stop offset="0.72" stop-color="#00e5ff"/><stop offset="0.79" stop-color="#2effd1"/><stop offset="0.845" stop-color="#7cff83"/><stop offset="0.89" stop-color="#d2ff2d"/><stop offset="0.925" stop-color="#ffd600"/><stop offset="0.955" stop-color="#ff7b00"/><stop offset="0.98" stop-color="#ff2000"/><stop offset="1" stop-color="#e50000"/></linearGradient><linearGradient id="c61" x1="0" y1="0" x2="0" y2="1"><stop offset="0" stop-color="#0000c0"/><stop offset="0.2" stop-color="#0000db"/><stop offset="0.38" stop-color="#0000f9"/><stop offset="0.52" stop-color="#002eff"/><stop offset="0.63" stop-color="#0074ff"/><stop offset="0.72" stop-color="#00caff"/><stop offset="0.79" stop-color="#2cffd3"/><stop offset="0.845" stop-color="#96ff69"/><stop offset="0.89" stop-color="#fff200"/><stop offset="0.925" stop-color="#ff7a00"/><stop offset="0.955" stop-color="#f70000"/><stop offset="0.98" stop-color="#fff0ec"/><stop offset="1" stop-color="#fff0ec"/></linearGradient><linearGradient id="c62" x1="0" y1="0" x2="0" y2="1"><stop offset="0" stop-color="#0000ef"/><stop offset="0.2" stop-color="#0000f5"/><stop offset="0.38" stop-color="#0005ff"/><stop offset="0.52" stop-color="#0029ff"/><stop offset="0.63" stop-color="#0069ff"/><stop offset="0.72" stop-color="#00c4ff"/><stop offset="0.79" stop-color="#31ffce"/><stop offset="0.845" stop-color="#aaff55"/><stop offset="0.89" stop-color="#ffcc00"/><stop offset="0.925" stop-color="#ff3e00"/><stop offset="0.955" stop-color="#fff0ec"/><stop offset="0.98" stop-color="#fff0ec"/><stop offset="1" stop-color="#fff0ec"/></linearGradient><linearGradient id="c63" x1="0" y1="0" x2="0" y2="1"><stop offset="0" stop-color="#0000f9"/><stop offset="0.2" stop-color="#0001ff"/><stop offset="0.38" stop-color="#0011ff"/><stop offset="0.52" stop-color="#0038ff"/><stop offset="0.63" stop-color="#007fff"/><stop offset="0.72" stop-color="#00e4ff"/><stop offset="0.79" stop-color="#5affa5"/><stop offset="0.845" stop-color="#d7ff28"/><stop offset="0.89" stop-color="#ff9e00"/><stop offset="0.925" stop-color="#ff1600"/><stop offset="0.955" stop-color="#fff0ec"/><stop offset="0.98" stop-color="#fff0ec"/><stop offset="1" stop-color="#fff0ec"/></linearGradient><linearGradient id="c64" x1="0" y1="0" x2="0" y2="1"><stop offset="0" stop-color="#0003ff"/><stop offset="0.2" stop-color="#0009ff"/><stop offset="0.38" stop-color="#0013ff"/><stop offset="0.52" stop-color="#002dff"/><stop offset="0.63" stop-color="#0064ff"/><stop offset="0.72" stop-color="#00bdff"/><stop offset="0.79" stop-color="#2dffd2"/><stop offset="0.845" stop-color="#afff50"/><stop offset="0.89" stop-color="#ffba00"/><stop offset="0.925" stop-color="#ff1b00"/><stop offset="0.955" stop-color="#fff0ec"/><stop offset="0.98" stop-color="#fff0ec"/><stop offset="1" stop-color="#fff0ec"/></linearGradient><linearGradient id="c65" x1="0" y1="0" x2="0" y2="1"><stop offset="0" stop-color="#0000d8"/><stop offset="0.2" stop-color="#0000dd"/><stop offset="0.38" stop-color="#0000e7"/><stop offset="0.52" stop-color="#0004ff"/><stop offset="0.63" stop-color="#003bff"/><stop offset="0.72" stop-color="#008fff"/><stop offset="0.79" stop-color="#00f6ff"/><stop offset="0.845" stop-color="#6bff94"/><stop offset="0.89" stop-color="#f0ff0f"/><stop offset="0.925" stop-color="#ff8400"/><stop offset="0.955" stop-color="#eb0000"/><stop offset="0.98" stop-color="#fff0ec"/><stop offset="1" stop-color="#fff0ec"/></linearGradient><linearGradient id="c66" x1="0" y1="0" x2="0" y2="1"><stop offset="0" stop-color="#000050"/><stop offset="0.2" stop-color="#000059"/><stop offset="0.38" stop-color="#000081"/><stop offset="0.52" stop-color="#0000e3"/><stop offset="0.63" stop-color="#0029ff"/><stop offset="0.72" stop-color="#0088ff"/><stop offset="0.79" stop-color="#00f2ff"/><stop offset="0.845" stop-color="#61ff9e"/><stop offset="0.89" stop-color="#d4ff2b"/><stop offset="0.925" stop-color="#ffb800"/><stop offset="0.955" stop-color="#ff3e00"/><stop offset="0.98" stop-color="#e50000"/><stop offset="1" stop-color="#fff0ec"/></linearGradient><linearGradient id="c67" x1="0" y1="0" x2="0" y2="1"><stop offset="0" stop-color="#00003d"/><stop offset="0.2" stop-color="#00004a"/><stop offset="0.38" stop-color="#00007b"/><stop offset="0.52" stop-color="#0000dc"/><stop offset="0.63" stop-color="#0010ff"/><stop offset="0.72" stop-color="#0053ff"/><stop offset="0.79" stop-color="#00a1ff"/><stop offset="0.845" stop-color="#00f7ff"/><stop offset="0.89" stop-color="#5affa5"/><stop offset="0.925" stop-color="#beff41"/><stop offset="0.955" stop-color="#ffd300"/><stop offset="0.98" stop-color="#ff6200"/><stop offset="1" stop-color="#f50000"/></linearGradient><linearGradient id="c68" x1="0" y1="0" x2="0" y2="1"><stop offset="0" stop-color="#0000f1"/><stop offset="0.2" stop-color="#0000f8"/><stop offset="0.38" stop-color="#0007ff"/><stop offset="0.52" stop-color="#0024ff"/><stop offset="0.63" stop-color="#0053ff"/><stop offset="0.72" stop-color="#0093ff"/><stop offset="0.79" stop-color="#00dfff"/><stop offset="0.845" stop-color="#34ffcb"/><stop offset="0.89" stop-color="#92ff6d"/><stop offset="0.925" stop-color="#f2ff0d"/><stop offset="0.955" stop-color="#ffa500"/><stop offset="0.98" stop-color="#ff3b00"/><stop offset="1" stop-color="#e50000"/></linearGradient><linearGradient id="c69" x1="0" y1="0" x2="0" y2="1"><stop offset="0" stop-color="#0000e8"/><stop offset="0.2" stop-color="#0000f5"/><stop offset="0.38" stop-color="#0016ff"/><stop offset="0.52" stop-color="#0049ff"/><stop offset="0.63" stop-color="#0086ff"/><stop offset="0.72" stop-color="#00c6ff"/><stop offset="0.79" stop-color="#04fffb"/><stop offset="0.845" stop-color="#3fffc0"/><stop offset="0.89" stop-color="#7aff85"/><stop offset="0.925" stop-color="#b4ff4b"/><stop offset="0.955" stop-color="#efff10"/><stop offset="0.98" stop-color="#ffd300"/><stop offset="1" stop-color="#ff9a00"/></linearGradient><linearGradient id="c70" x1="0" y1="0" x2="0" y2="1"><stop offset="0" stop-color="#0000e0"/><stop offset="0.2" stop-color="#0000f3"/><stop offset="0.38" stop-color="#0016ff"/><stop offset="0.52" stop-color="#0042ff"/><stop offset="0.63" stop-color="#0072ff"/><stop offset="0.72" stop-color="#00a7ff"/><stop offset="0.79" stop-color="#00ddff"/><stop offset="0.845" stop-color="#15ffea"/><stop offset="0.89" stop-color="#4effb1"/><stop offset="0.925" stop-color="#84ff7b"/><stop offset="0.955" stop-color="#bbff44"/><stop offset="0.98" stop-color="#f2ff0d"/><stop offset="1" stop-color="#ffdb00"/></linearGradient><linearGradient id="c71" x1="0" y1="0" x2="0" y2="1"><stop offset="0" stop-color="#0000db"/><stop offset="0.2" stop-color="#0000ea"/><stop offset="0.38" stop-color="#000dff"/><stop offset="0.52" stop-color="#0043ff"/><stop offset="0.63" stop-color="#0085ff"/><stop offset="0.72" stop-color="#00cfff"/><stop offset="0.79" stop-color="#1effe1"/><stop offset="0.845" stop-color="#70ff8f"/><stop offset="0.89" stop-color="#c8ff37"/><stop offset="0.925" stop-color="#ffdd00"/><stop offset="0.955" stop-color="#ff7d00"/><stop offset="0.98" stop-color="#ff1c00"/><stop offset="1" stop-color="#e50000"/></linearGradient><linearGradient id="c72" x1="0" y1="0" x2="0" y2="1"><stop offset="0" stop-color="#0000e7"/><stop offset="0.2" stop-color="#0000f8"/><stop offset="0.38" stop-color="#0022ff"/><stop offset="0.52" stop-color="#005dff"/><stop offset="0.63" stop-color="#009fff"/><stop offset="0.72" stop-color="#00e4ff"/><stop offset="0.79" stop-color="#26ffd9"/><stop offset="0.845" stop-color="#66ff99"/><stop offset="0.89" stop-color="#a7ff58"/><stop offset="0.925" stop-color="#e6ff19"/><stop offset="0.955" stop-color="#ffd600"/><stop offset="0.98" stop-color="#ff9400"/><stop offset="1" stop-color="#ff5500"/></linearGradient><linearGradient id="c73" x1="0" y1="0" x2="0" y2="1"><stop offset="0" stop-color="#0000f7"/><stop offset="0.2" stop-color="#0000fd"/><stop offset="0.38" stop-color="#000bff"/><stop offset="0.52" stop-color="#002aff"/><stop offset="0.63" stop-color="#0064ff"/><stop offset="0.72" stop-color="#00b5ff"/><stop offset="0.79" stop-color="#11ffee"/><stop offset="0.845" stop-color="#71ff8e"/><stop offset="0.89" stop-color="#d6ff29"/><stop offset="0.925" stop-color="#ffc300"/><stop offset="0.955" stop-color="#ff5700"/><stop offset="0.98" stop-color="#e70000"/><stop offset="1" stop-color="#fff0ec"/></linearGradient><linearGradient id="c74" x1="0" y1="0" x2="0" y2="1"><stop offset="0" stop-color="#000067"/><stop offset="0.2" stop-color="#000082"/><stop offset="0.38" stop-color="#0000d9"/><stop offset="0.52" stop-color="#000eff"/><stop offset="0.63" stop-color="#0054ff"/><stop offset="0.72" stop-color="#00a6ff"/><stop offset="0.79" stop-color="#00fbff"/><stop offset="0.845" stop-color="#53ffac"/><stop offset="0.89" stop-color="#afff50"/><stop offset="0.925" stop-color="#fff300"/><stop offset="0.955" stop-color="#ff9100"/><stop offset="0.98" stop-color="#ff2d00"/><stop offset="1" stop-color="#e50000"/></linearGradient><linearGradient id="c75" x1="0" y1="0" x2="0" y2="1"><stop offset="0" stop-color="#00006b"/><stop offset="0.2" stop-color="#000097"/><stop offset="0.38" stop-color="#0000e8"/><stop offset="0.52" stop-color="#0021ff"/><stop offset="0.63" stop-color="#0066ff"/><stop offset="0.72" stop-color="#00b1ff"/><stop offset="0.79" stop-color="#00ffff"/><stop offset="0.845" stop-color="#50ffaf"/><stop offset="0.89" stop-color="#a7ff58"/><stop offset="0.925" stop-color="#ffff00"/><stop offset="0.955" stop-color="#ffa100"/><stop offset="0.98" stop-color="#ff4100"/><stop offset="1" stop-color="#e50000"/></linearGradient><linearGradient id="c76" x1="0" y1="0" x2="0" y2="1"><stop offset="0" stop-color="#0000f9"/><stop offset="0.2" stop-color="#0001ff"/><stop offset="0.38" stop-color="#000fff"/><stop offset="0.52" stop-color="#002fff"/><stop offset="0.63" stop-color="#0068ff"/><stop offset="0.72" stop-color="#00b9ff"/><stop offset="0.79" stop-color="#1affe5"/><stop offset="0.845" stop-color="#82ff7d"/><stop offset="0.89" stop-color="#f3ff0c"/><stop offset="0.925" stop-color="#ff9b00"/><stop offset="0.955" stop-color="#ff2400"/><stop offset="0.98" stop-color="#fff0ec"/><stop offset="1" stop-color="#fff0ec"/></linearGradient><linearGradient id="c77" x1="0" y1="0" x2="0" y2="1"><stop offset="0" stop-color="#000cff"/><stop offset="0.2" stop-color="#0023ff"/><stop offset="0.38" stop-color="#0054ff"/><stop offset="0.52" stop-color="#009dff"/><stop offset="0.63" stop-color="#00f1ff"/><stop offset="0.72" stop-color="#4cffb3"/><stop offset="0.79" stop-color="#a5ff5a"/><stop offset="0.845" stop-color="#fcff03"/><stop offset="0.89" stop-color="#ffaa00"/><stop offset="0.925" stop-color="#ff5800"/><stop offset="0.955" stop-color="#ff0400"/><stop offset="0.98" stop-color="#fff0ec"/><stop offset="1" stop-color="#fff0ec"/></linearGradient><linearGradient id="c78" x1="0" y1="0" x2="0" y2="1"><stop offset="0" stop-color="#0005ff"/><stop offset="0.2" stop-color="#0013ff"/><stop offset="0.38" stop-color="#0033ff"/><stop offset="0.52" stop-color="#0066ff"/><stop offset="0.63" stop-color="#00a4ff"/><stop offset="0.72" stop-color="#00e8ff"/><stop offset="0.79" stop-color="#2dffd2"/><stop offset="0.845" stop-color="#74ff8b"/><stop offset="0.89" stop-color="#beff41"/><stop offset="0.925" stop-color="#fff700"/><stop offset="0.955" stop-color="#ffa800"/><stop offset="0.98" stop-color="#ff5800"/><stop offset="1" stop-color="#ff0c00"/></linearGradient><linearGradient id="c79" x1="0" y1="0" x2="0" y2="1"><stop offset="0" stop-color="#0002ff"/><stop offset="0.2" stop-color="#0013ff"/><stop offset="0.38" stop-color="#0034ff"/><stop offset="0.52" stop-color="#0064ff"/><stop offset="0.63" stop-color="#009cff"/><stop offset="0.72" stop-color="#00dbff"/><stop offset="0.79" stop-color="#1fffe0"/><stop offset="0.845" stop-color="#64ff9b"/><stop offset="0.89" stop-color="#aeff51"/><stop offset="0.925" stop-color="#f5ff0a"/><stop offset="0.955" stop-color="#ffbe00"/><stop offset="0.98" stop-color="#ff7400"/><stop offset="1" stop-color="#ff2f00"/></linearGradient><linearGradient id="c80" x1="0" y1="0" x2="0" y2="1"><stop offset="0" stop-color="#0014ff"/><stop offset="0.2" stop-color="#0031ff"/><stop offset="0.38" stop-color="#0063ff"/><stop offset="0.52" stop-color="#009fff"/><stop offset="0.63" stop-color="#00ddff"/><stop offset="0.72" stop-color="#1cffe3"/><stop offset="0.79" stop-color="#57ffa8"/><stop offset="0.845" stop-color="#8fff70"/><stop offset="0.89" stop-color="#c7ff38"/><stop offset="0.925" stop-color="#fcff03"/><stop offset="0.955" stop-color="#ffcd00"/><stop offset="0.98" stop-color="#ff9a00"/><stop offset="1" stop-color="#ff6c00"/></linearGradient><linearGradient id="c81" x1="0" y1="0" x2="0" y2="1"><stop offset="0" stop-color="#0023ff"/><stop offset="0.2" stop-color="#003aff"/><stop offset="0.38" stop-color="#005dff"/><stop offset="0.52" stop-color="#0084ff"/><stop offset="0.63" stop-color="#00acff"/><stop offset="0.72" stop-color="#00d5ff"/><stop offset="0.79" stop-color="#00ffff"/><stop offset="0.845" stop-color="#2affd5"/><stop offset="0.89" stop-color="#56ffa9"/><stop offset="0.925" stop-color="#81ff7e"/><stop offset="0.955" stop-color="#aeff51"/><stop offset="0.98" stop-color="#d9ff26"/><stop offset="1" stop-color="#fffc00"/></linearGradient><linearGradient id="c82" x1="0" y1="0" x2="0" y2="1"><stop offset="0" stop-color="#0000dd"/><stop offset="0.2" stop-color="#0000f2"/><stop offset="0.38" stop-color="#001aff"/><stop offset="0.52" stop-color="#004aff"/><stop offset="0.63" stop-color="#007cff"/><stop offset="0.72" stop-color="#00b0ff"/><stop offset="0.79" stop-color="#00e4ff"/><stop offset="0.845" stop-color="#1affe5"/><stop offset="0.89" stop-color="#51ffae"/><stop offset="0.925" stop-color="#88ff77"/><stop offset="0.955" stop-color="#c1ff3e"/><stop offset="0.98" stop-color="#faff05"/><stop offset="1" stop-color="#ffce00"/></linearGradient><linearGradient id="c83" x1="0" y1="0" x2="0" y2="1"><stop offset="0" stop-color="#0000f4"/><stop offset="0.2" stop-color="#0000fe"/><stop offset="0.38" stop-color="#001bff"/><stop offset="0.52" stop-color="#004eff"/><stop offset="0.63" stop-color="#0090ff"/><stop offset="0.72" stop-color="#00d8ff"/><stop offset="0.79" stop-color="#1bffe4"/><stop offset="0.845" stop-color="#55ffaa"/><stop offset="0.89" stop-color="#89ff76"/><stop offset="0.925" stop-color="#b7ff48"/><stop offset="0.955" stop-color="#e4ff1b"/><stop offset="0.98" stop-color="#fff000"/><stop offset="1" stop-color="#ffcb00"/></linearGradient><linearGradient id="c84" x1="0" y1="0" x2="0" y2="1"><stop offset="0" stop-color="#0015ff"/><stop offset="0.2" stop-color="#0026ff"/><stop offset="0.38" stop-color="#0043ff"/><stop offset="0.52" stop-color="#0065ff"/><stop offset="0.63" stop-color="#0087ff"/><stop offset="0.72" stop-color="#00a7ff"/><stop offset="0.79" stop-color="#00c3ff"/><stop offset="0.845" stop-color="#00dcff"/><stop offset="0.89" stop-color="#00f5ff"/><stop offset="0.925" stop-color="#0efff1"/><stop offset="0.955" stop-color="#26ffd9"/><stop offset="0.98" stop-color="#3effc1"/><stop offset="1" stop-color="#54ffab"/></linearGradient><linearGradient id="c85" x1="0" y1="0" x2="0" y2="1"><stop offset="0" stop-color="#00005a"/><stop offset="0.2" stop-color="#000072"/><stop offset="0.38" stop-color="#0000c2"/><stop offset="0.52" stop-color="#0000ff"/><stop offset="0.63" stop-color="#003aff"/><stop offset="0.72" stop-color="#0076ff"/><stop offset="0.79" stop-color="#00acff"/><stop offset="0.845" stop-color="#00dbff"/><stop offset="0.89" stop-color="#09fff6"/><stop offset="0.925" stop-color="#31ffce"/><stop offset="0.955" stop-color="#59ffa6"/><stop offset="0.98" stop-color="#81ff7e"/><stop offset="1" stop-color="#a7ff58"/></linearGradient><linearGradient id="c86" x1="0" y1="0" x2="0" y2="1"><stop offset="0" stop-color="#0000fb"/><stop offset="0.2" stop-color="#0003ff"/><stop offset="0.38" stop-color="#0013ff"/><stop offset="0.52" stop-color="#002eff"/><stop offset="0.63" stop-color="#0052ff"/><stop offset="0.72" stop-color="#007bff"/><stop offset="0.79" stop-color="#00a4ff"/><stop offset="0.845" stop-color="#00ccff"/><stop offset="0.89" stop-color="#00f5ff"/><stop offset="0.925" stop-color="#1dffe2"/><stop offset="0.955" stop-color="#47ffb8"/><stop offset="0.98" stop-color="#71ff8e"/><stop offset="1" stop-color="#99ff66"/></linearGradient><linearGradient id="c87" x1="0" y1="0" x2="0" y2="1"><stop offset="0" stop-color="#0000c3"/><stop offset="0.2" stop-color="#0000d6"/><stop offset="0.38" stop-color="#0000e3"/><stop offset="0.52" stop-color="#0004ff"/><stop offset="0.63" stop-color="#003bff"/><stop offset="0.72" stop-color="#0082ff"/><stop offset="0.79" stop-color="#00cbff"/><stop offset="0.845" stop-color="#13ffec"/><stop offset="0.89" stop-color="#5bffa4"/><stop offset="0.925" stop-color="#9eff61"/><stop offset="0.955" stop-color="#e3ff1c"/><stop offset="0.98" stop-color="#ffd500"/><stop offset="1" stop-color="#ff9300"/></linearGradient><linearGradient id="c88" x1="0" y1="0" x2="0" y2="1"><stop offset="0" stop-color="#000095"/><stop offset="0.2" stop-color="#0000a6"/><stop offset="0.38" stop-color="#0000d7"/><stop offset="0.52" stop-color="#0000f6"/><stop offset="0.63" stop-color="#0023ff"/><stop offset="0.72" stop-color="#005aff"/><stop offset="0.79" stop-color="#0097ff"/><stop offset="0.845" stop-color="#00d9ff"/><stop offset="0.89" stop-color="#24ffdb"/><stop offset="0.925" stop-color="#72ff8d"/><stop offset="0.955" stop-color="#c9ff36"/><stop offset="0.98" stop-color="#ffda00"/><stop offset="1" stop-color="#ff8000"/></linearGradient><linearGradient id="c89" x1="0" y1="0" x2="0" y2="1"><stop offset="0" stop-color="#0001ff"/><stop offset="0.2" stop-color="#0008ff"/><stop offset="0.38" stop-color="#0013ff"/><stop offset="0.52" stop-color="#002aff"/><stop offset="0.63" stop-color="#0050ff"/><stop offset="0.72" stop-color="#0083ff"/><stop offset="0.79" stop-color="#00b9ff"/><stop offset="0.845" stop-color="#00f0ff"/><stop offset="0.89" stop-color="#2affd5"/><stop offset="0.925" stop-color="#62ff9d"/><stop offset="0.955" stop-color="#9cff63"/><stop offset="0.98" stop-color="#d6ff29"/><stop offset="1" stop-color="#fff000"/></linearGradient><linearGradient id="c90" x1="0" y1="0" x2="0" y2="1"><stop offset="0" stop-color="#0003ff"/><stop offset="0.2" stop-color="#000fff"/><stop offset="0.38" stop-color="#0027ff"/><stop offset="0.52" stop-color="#004bff"/><stop offset="0.63" stop-color="#0075ff"/><stop offset="0.72" stop-color="#00a4ff"/><stop offset="0.79" stop-color="#00d2ff"/><stop offset="0.845" stop-color="#00ffff"/><stop offset="0.89" stop-color="#2dffd2"/><stop offset="0.925" stop-color="#59ffa6"/><stop offset="0.955" stop-color="#86ff79"/><stop offset="0.98" stop-color="#b2ff4d"/><stop offset="1" stop-color="#dbff24"/></linearGradient><linearGradient id="c91" x1="0" y1="0" x2="0" y2="1"><stop offset="0" stop-color="#000004"/><stop offset="0.753" stop-color="#000004"/><stop offset="0.803" stop-color="#02fffd"/><stop offset="0.845" stop-color="#12ffed"/><stop offset="0.89" stop-color="#23ffdc"/><stop offset="0.925" stop-color="#31ffce"/><stop offset="0.955" stop-color="#3effc1"/><stop offset="0.98" stop-color="#4affb5"/><stop offset="1" stop-color="#54ffab"/></linearGradient><linearGradient id="c92" x1="0" y1="0" x2="0" y2="1"><stop offset="0" stop-color="#0013ff"/><stop offset="0.2" stop-color="#0024ff"/><stop offset="0.38" stop-color="#003eff"/><stop offset="0.52" stop-color="#005aff"/><stop offset="0.63" stop-color="#0075ff"/><stop offset="0.72" stop-color="#008eff"/><stop offset="0.79" stop-color="#00a5ff"/><stop offset="0.845" stop-color="#00b9ff"/><stop offset="0.89" stop-color="#00ceff"/><stop offset="0.925" stop-color="#00e1ff"/><stop offset="0.955" stop-color="#00f5ff"/><stop offset="0.98" stop-color="#0afff5"/><stop offset="1" stop-color="#1cffe3"/></linearGradient><linearGradient id="c93" x1="0" y1="0" x2="0" y2="1"><stop offset="0" stop-color="#0013ff"/><stop offset="0.2" stop-color="#0023ff"/><stop offset="0.38" stop-color="#003dff"/><stop offset="0.52" stop-color="#0058ff"/><stop offset="0.63" stop-color="#0073ff"/><stop offset="0.72" stop-color="#008cff"/><stop offset="0.79" stop-color="#00a5ff"/><stop offset="0.845" stop-color="#00bdff"/><stop offset="0.89" stop-color="#00d8ff"/><stop offset="0.925" stop-color="#00f3ff"/><stop offset="0.955" stop-color="#11ffee"/><stop offset="0.98" stop-color="#30ffcf"/><stop offset="1" stop-color="#4dffb2"/></linearGradient><linearGradient id="c94" x1="0" y1="0" x2="0" y2="1"><stop offset="0" stop-color="#001fff"/><stop offset="0.2" stop-color="#003bff"/><stop offset="0.38" stop-color="#0066ff"/><stop offset="0.52" stop-color="#0092ff"/><stop offset="0.63" stop-color="#00b8ff"/><stop offset="0.72" stop-color="#00d8ff"/><stop offset="0.79" stop-color="#00efff"/><stop offset="0.845" stop-color="#02fffd"/><stop offset="0.89" stop-color="#11ffee"/><stop offset="0.925" stop-color="#1dffe2"/><stop offset="0.955" stop-color="#28ffd7"/><stop offset="0.98" stop-color="#33ffcc"/><stop offset="1" stop-color="#3cffc3"/></linearGradient><linearGradient id="c95" x1="0" y1="0" x2="0" y2="1"><stop offset="0" stop-color="#0008ff"/><stop offset="0.2" stop-color="#0012ff"/><stop offset="0.38" stop-color="#0024ff"/><stop offset="0.52" stop-color="#0041ff"/><stop offset="0.63" stop-color="#0064ff"/><stop offset="0.72" stop-color="#0086ff"/><stop offset="0.79" stop-color="#00a2ff"/><stop offset="0.845" stop-color="#00b7ff"/><stop offset="0.89" stop-color="#00c8ff"/><stop offset="0.925" stop-color="#00d4ff"/><stop offset="0.955" stop-color="#00dfff"/><stop offset="0.98" stop-color="#00e8ff"/><stop offset="1" stop-color="#00f0ff"/></linearGradient><linearGradient id="c96" x1="0" y1="0" x2="0" y2="1"><stop offset="0" stop-color="#0000d6"/><stop offset="0.2" stop-color="#0000e5"/><stop offset="0.38" stop-color="#0000fe"/><stop offset="0.52" stop-color="#001bff"/><stop offset="0.63" stop-color="#0036ff"/><stop offset="0.72" stop-color="#004fff"/><stop offset="0.79" stop-color="#0066ff"/><stop offset="0.845" stop-color="#007eff"/><stop offset="0.89" stop-color="#0097ff"/><stop offset="0.925" stop-color="#00b1ff"/><stop offset="0.955" stop-color="#00cdff"/><stop offset="0.98" stop-color="#00eaff"/><stop offset="1" stop-color="#07fff8"/></linearGradient><linearGradient id="c97" x1="0" y1="0" x2="0" y2="1"><stop offset="0" stop-color="#0000f5"/><stop offset="0.2" stop-color="#0000fd"/><stop offset="0.38" stop-color="#000eff"/><stop offset="0.52" stop-color="#0025ff"/><stop offset="0.63" stop-color="#003fff"/><stop offset="0.72" stop-color="#005bff"/><stop offset="0.79" stop-color="#0075ff"/><stop offset="0.845" stop-color="#008eff"/><stop offset="0.89" stop-color="#00a7ff"/><stop offset="0.925" stop-color="#00bfff"/><stop offset="0.955" stop-color="#00d9ff"/><stop offset="0.98" stop-color="#00f3ff"/><stop offset="1" stop-color="#0dfff2"/></linearGradient><linearGradient id="c98" x1="0" y1="0" x2="0" y2="1"><stop offset="0" stop-color="#000fff"/><stop offset="0.2" stop-color="#0029ff"/><stop offset="0.38" stop-color="#0052ff"/><stop offset="0.52" stop-color="#007dff"/><stop offset="0.63" stop-color="#00a3ff"/><stop offset="0.72" stop-color="#00c1ff"/><stop offset="0.79" stop-color="#00d6ff"/><stop offset="0.845" stop-color="#00e5ff"/><stop offset="0.89" stop-color="#00f0ff"/><stop offset="0.925" stop-color="#00f7ff"/><stop offset="0.955" stop-color="#00fdff"/><stop offset="0.98" stop-color="#03fffc"/><stop offset="1" stop-color="#07fff8"/></linearGradient><linearGradient id="c99" x1="0" y1="0" x2="0" y2="1"><stop offset="0" stop-color="#0018ff"/><stop offset="0.2" stop-color="#0020ff"/><stop offset="0.38" stop-color="#002eff"/><stop offset="0.52" stop-color="#0044ff"/><stop offset="0.63" stop-color="#0061ff"/><stop offset="0.72" stop-color="#0080ff"/><stop offset="0.79" stop-color="#0099ff"/><stop offset="0.845" stop-color="#00acff"/><stop offset="0.89" stop-color="#00baff"/><stop offset="0.925" stop-color="#00c4ff"/><stop offset="0.955" stop-color="#00cbff"/><stop offset="0.98" stop-color="#00d1ff"/><stop offset="1" stop-color="#00d5ff"/></linearGradient><linearGradient id="c100" x1="0" y1="0" x2="0" y2="1"><stop offset="0" stop-color="#00006a"/><stop offset="0.2" stop-color="#0000a8"/><stop offset="0.38" stop-color="#0000e9"/><stop offset="0.52" stop-color="#000bff"/><stop offset="0.63" stop-color="#002aff"/><stop offset="0.72" stop-color="#0045ff"/><stop offset="0.79" stop-color="#005dff"/><stop offset="0.845" stop-color="#0074ff"/><stop offset="0.89" stop-color="#008cff"/><stop offset="0.925" stop-color="#00a3ff"/><stop offset="0.955" stop-color="#00bbff"/><stop offset="0.98" stop-color="#00d4ff"/><stop offset="1" stop-color="#00ecff"/></linearGradient><linearGradient id="c101" x1="0" y1="0" x2="0" y2="1"><stop offset="0" stop-color="#0000d6"/><stop offset="0.2" stop-color="#0000f0"/><stop offset="0.38" stop-color="#0018ff"/><stop offset="0.52" stop-color="#0040ff"/><stop offset="0.63" stop-color="#0062ff"/><stop offset="0.72" stop-color="#007dff"/><stop offset="0.79" stop-color="#008fff"/><stop offset="0.845" stop-color="#009cff"/><stop offset="0.89" stop-color="#00a5ff"/><stop offset="0.925" stop-color="#00acff"/><stop offset="0.955" stop-color="#00b1ff"/><stop offset="0.98" stop-color="#00b5ff"/><stop offset="1" stop-color="#00b9ff"/></linearGradient><linearGradient id="c102" x1="0" y1="0" x2="0" y2="1"><stop offset="0" stop-color="#0000ef"/><stop offset="0.2" stop-color="#0000ff"/><stop offset="0.38" stop-color="#0020ff"/><stop offset="0.52" stop-color="#0048ff"/><stop offset="0.63" stop-color="#006fff"/><stop offset="0.72" stop-color="#0092ff"/><stop offset="0.79" stop-color="#00acff"/><stop offset="0.845" stop-color="#00c1ff"/><stop offset="0.89" stop-color="#00d1ff"/><stop offset="0.925" stop-color="#00deff"/><stop offset="0.955" stop-color="#00eaff"/><stop offset="0.98" stop-color="#00f5ff"/><stop offset="1" stop-color="#00ffff"/></linearGradient><linearGradient id="c103" x1="0" y1="0" x2="0" y2="1"><stop offset="0" stop-color="#0000d6"/><stop offset="0.2" stop-color="#0000ef"/><stop offset="0.38" stop-color="#0015ff"/><stop offset="0.52" stop-color="#0038ff"/><stop offset="0.63" stop-color="#0055ff"/><stop offset="0.72" stop-color="#006cff"/><stop offset="0.79" stop-color="#007bff"/><stop offset="0.845" stop-color="#0086ff"/><stop offset="0.89" stop-color="#008eff"/><stop offset="0.925" stop-color="#0094ff"/><stop offset="0.955" stop-color="#0098ff"/><stop offset="0.98" stop-color="#009cff"/><stop offset="1" stop-color="#00a0ff"/></linearGradient><linearGradient id="c104" x1="0" y1="0" x2="0" y2="1"><stop offset="0" stop-color="#0000a9"/><stop offset="0.2" stop-color="#0000db"/><stop offset="0.38" stop-color="#0000f6"/><stop offset="0.52" stop-color="#0016ff"/><stop offset="0.63" stop-color="#0031ff"/><stop offset="0.72" stop-color="#0048ff"/><stop offset="0.79" stop-color="#005cff"/><stop offset="0.845" stop-color="#006dff"/><stop offset="0.89" stop-color="#007dff"/><stop offset="0.925" stop-color="#008bff"/><stop offset="0.955" stop-color="#009bff"/><stop offset="0.98" stop-color="#00aaff"/><stop offset="1" stop-color="#00b8ff"/></linearGradient><linearGradient id="c105" x1="0" y1="0" x2="0" y2="1"><stop offset="0" stop-color="#0001ff"/><stop offset="0.2" stop-color="#000dff"/><stop offset="0.38" stop-color="#0024ff"/><stop offset="0.52" stop-color="#0041ff"/><stop offset="0.63" stop-color="#005eff"/><stop offset="0.72" stop-color="#0077ff"/><stop offset="0.79" stop-color="#008aff"/><stop offset="0.845" stop-color="#0098ff"/><stop offset="0.89" stop-color="#00a2ff"/><stop offset="0.925" stop-color="#00a9ff"/><stop offset="0.955" stop-color="#00afff"/><stop offset="0.98" stop-color="#00b4ff"/><stop offset="1" stop-color="#00b9ff"/></linearGradient><linearGradient id="c106" x1="0" y1="0" x2="0" y2="1"><stop offset="0" stop-color="#000004"/><stop offset="0.778" stop-color="#000004"/><stop offset="0.828" stop-color="#00abff"/><stop offset="0.845" stop-color="#00b0ff"/><stop offset="0.89" stop-color="#00bbff"/><stop offset="0.925" stop-color="#00c3ff"/><stop offset="0.955" stop-color="#00c9ff"/><stop offset="0.98" stop-color="#00ceff"/><stop offset="1" stop-color="#00d1ff"/></linearGradient><linearGradient id="c107" x1="0" y1="0" x2="0" y2="1"><stop offset="0" stop-color="#000004"/><stop offset="0.742" stop-color="#000004"/><stop offset="0.792" stop-color="#0072ff"/><stop offset="0.845" stop-color="#007dff"/><stop offset="0.89" stop-color="#0086ff"/><stop offset="0.925" stop-color="#008eff"/><stop offset="0.955" stop-color="#0096ff"/><stop offset="0.98" stop-color="#009dff"/><stop offset="1" stop-color="#00a4ff"/></linearGradient><linearGradient id="c108" x1="0" y1="0" x2="0" y2="1"><stop offset="0" stop-color="#000004"/><stop offset="0.852" stop-color="#000004"/><stop offset="0.902" stop-color="#006eff"/><stop offset="0.925" stop-color="#0078ff"/><stop offset="0.955" stop-color="#0087ff"/><stop offset="0.98" stop-color="#0096ff"/><stop offset="1" stop-color="#00a4ff"/></linearGradient><linearGradient id="c109" x1="0" y1="0" x2="0" y2="1"><stop offset="0" stop-color="#000004"/><stop offset="0.771" stop-color="#000004"/><stop offset="0.821" stop-color="#0056ff"/><stop offset="0.845" stop-color="#005bff"/><stop offset="0.89" stop-color="#0065ff"/><stop offset="0.925" stop-color="#006fff"/><stop offset="0.955" stop-color="#0079ff"/><stop offset="0.98" stop-color="#0083ff"/><stop offset="1" stop-color="#008dff"/></linearGradient><linearGradient id="c110" x1="0" y1="0" x2="0" y2="1"><stop offset="0" stop-color="#0000ec"/><stop offset="0.2" stop-color="#0000f3"/><stop offset="0.38" stop-color="#0001ff"/><stop offset="0.52" stop-color="#0017ff"/><stop offset="0.63" stop-color="#0031ff"/><stop offset="0.72" stop-color="#004cff"/><stop offset="0.79" stop-color="#0061ff"/><stop offset="0.845" stop-color="#0071ff"/><stop offset="0.89" stop-color="#007dff"/><stop offset="0.925" stop-color="#0085ff"/><stop offset="0.955" stop-color="#008bff"/><stop offset="0.98" stop-color="#0091ff"/><stop offset="1" stop-color="#0095ff"/></linearGradient><linearGradient id="c111" x1="0" y1="0" x2="0" y2="1"><stop offset="0" stop-color="#000004"/><stop offset="0.895" stop-color="#000004"/><stop offset="0.945" stop-color="#0075ff"/><stop offset="0.955" stop-color="#0077ff"/><stop offset="0.98" stop-color="#007eff"/><stop offset="1" stop-color="#0084ff"/></linearGradient><linearGradient id="c112" x1="0" y1="0" x2="0" y2="1"><stop offset="0" stop-color="#000004"/><stop offset="0.839" stop-color="#000004"/><stop offset="0.889" stop-color="#0089ff"/><stop offset="0.89" stop-color="#0089ff"/><stop offset="0.925" stop-color="#008fff"/><stop offset="0.955" stop-color="#0095ff"/><stop offset="0.98" stop-color="#009aff"/><stop offset="1" stop-color="#009fff"/></linearGradient><linearGradient id="c113" x1="0" y1="0" x2="0" y2="1"><stop offset="0" stop-color="#000004"/><stop offset="0.838" stop-color="#000004"/><stop offset="0.888" stop-color="#008fff"/><stop offset="0.89" stop-color="#008fff"/><stop offset="0.925" stop-color="#0095ff"/><stop offset="0.955" stop-color="#009bff"/><stop offset="0.98" stop-color="#00a1ff"/><stop offset="1" stop-color="#00a7ff"/></linearGradient><linearGradient id="c114" x1="0" y1="0" x2="0" y2="1"><stop offset="0" stop-color="#000004"/><stop offset="0.912" stop-color="#000004"/><stop offset="0.962" stop-color="#00d9ff"/><stop offset="0.98" stop-color="#00ddff"/><stop offset="1" stop-color="#00e1ff"/></linearGradient><linearGradient id="c115" x1="0" y1="0" x2="0" y2="1"><stop offset="0" stop-color="#000004"/><stop offset="0.889" stop-color="#000004"/><stop offset="0.939" stop-color="#0079ff"/><stop offset="0.955" stop-color="#007fff"/><stop offset="0.98" stop-color="#0089ff"/><stop offset="1" stop-color="#0093ff"/></linearGradient><linearGradient id="c116" x1="0" y1="0" x2="0" y2="1"><stop offset="0" stop-color="#000004"/><stop offset="0.819" stop-color="#000004"/><stop offset="0.869" stop-color="#0064ff"/><stop offset="0.89" stop-color="#0071ff"/><stop offset="0.925" stop-color="#008dff"/><stop offset="0.955" stop-color="#00acff"/><stop offset="0.98" stop-color="#00ceff"/><stop offset="1" stop-color="#00efff"/></linearGradient><linearGradient id="c117" x1="0" y1="0" x2="0" y2="1"><stop offset="0" stop-color="#000004"/><stop offset="0.844" stop-color="#000004"/><stop offset="0.894" stop-color="#007bff"/><stop offset="0.925" stop-color="#0089ff"/><stop offset="0.955" stop-color="#0099ff"/><stop offset="0.98" stop-color="#00a9ff"/><stop offset="1" stop-color="#00b9ff"/></linearGradient><linearGradient id="c118" x1="0" y1="0" x2="0" y2="1"><stop offset="0" stop-color="#0006ff"/><stop offset="0.2" stop-color="#0014ff"/><stop offset="0.38" stop-color="#0028ff"/><stop offset="0.52" stop-color="#003dff"/><stop offset="0.63" stop-color="#0050ff"/><stop offset="0.72" stop-color="#0062ff"/><stop offset="0.79" stop-color="#0074ff"/><stop offset="0.845" stop-color="#0088ff"/><stop offset="0.89" stop-color="#009fff"/><stop offset="0.925" stop-color="#00b7ff"/><stop offset="0.955" stop-color="#00d4ff"/><stop offset="0.98" stop-color="#00f2ff"/><stop offset="1" stop-color="#11ffee"/></linearGradient><linearGradient id="c119" x1="0" y1="0" x2="0" y2="1"><stop offset="0" stop-color="#0007ff"/><stop offset="0.2" stop-color="#000dff"/><stop offset="0.38" stop-color="#0014ff"/><stop offset="0.52" stop-color="#0020ff"/><stop offset="0.63" stop-color="#0037ff"/><stop offset="0.72" stop-color="#0058ff"/><stop offset="0.79" stop-color="#007fff"/><stop offset="0.845" stop-color="#00acff"/><stop offset="0.89" stop-color="#00e2ff"/><stop offset="0.925" stop-color="#20ffdf"/><stop offset="0.955" stop-color="#69ff96"/><stop offset="0.98" stop-color="#bdff42"/><stop offset="1" stop-color="#ffe800"/></linearGradient><linearGradient id="c120" x1="0" y1="0" x2="0" y2="1"><stop offset="0" stop-color="#000bff"/><stop offset="0.2" stop-color="#0016ff"/><stop offset="0.38" stop-color="#002aff"/><stop offset="0.52" stop-color="#0042ff"/><stop offset="0.63" stop-color="#005dff"/><stop offset="0.72" stop-color="#0079ff"/><stop offset="0.79" stop-color="#0097ff"/><stop offset="0.845" stop-color="#00bcff"/><stop offset="0.89" stop-color="#00eeff"/><stop offset="0.925" stop-color="#2cffd3"/><stop offset="0.955" stop-color="#79ff86"/><stop offset="0.98" stop-color="#d5ff2a"/><stop offset="1" stop-color="#ffc700"/></linearGradient><linearGradient id="c121" x1="0" y1="0" x2="0" y2="1"><stop offset="0" stop-color="#0018ff"/><stop offset="0.2" stop-color="#001fff"/><stop offset="0.38" stop-color="#0026ff"/><stop offset="0.52" stop-color="#002dff"/><stop offset="0.63" stop-color="#003aff"/><stop offset="0.72" stop-color="#004fff"/><stop offset="0.79" stop-color="#006dff"/><stop offset="0.845" stop-color="#0093ff"/><stop offset="0.89" stop-color="#00c7ff"/><stop offset="0.925" stop-color="#0afff5"/><stop offset="0.955" stop-color="#62ff9d"/><stop offset="0.98" stop-color="#d0ff2f"/><stop offset="1" stop-color="#ffb200"/></linearGradient><linearGradient id="c122" x1="0" y1="0" x2="0" y2="1"><stop offset="0" stop-color="#000060"/><stop offset="0.2" stop-color="#00006a"/><stop offset="0.38" stop-color="#00008d"/><stop offset="0.52" stop-color="#0000d9"/><stop offset="0.63" stop-color="#0000fd"/><stop offset="0.72" stop-color="#0029ff"/><stop offset="0.79" stop-color="#0057ff"/><stop offset="0.845" stop-color="#008aff"/><stop offset="0.89" stop-color="#00c6ff"/><stop offset="0.925" stop-color="#0bfff4"/><stop offset="0.955" stop-color="#5cffa3"/><stop offset="0.98" stop-color="#b9ff46"/><stop offset="1" stop-color="#ffe500"/></linearGradient><linearGradient id="c123" x1="0" y1="0" x2="0" y2="1"><stop offset="0" stop-color="#0000f9"/><stop offset="0.2" stop-color="#0001ff"/><stop offset="0.38" stop-color="#000fff"/><stop offset="0.52" stop-color="#0024ff"/><stop offset="0.63" stop-color="#0041ff"/><stop offset="0.72" stop-color="#0064ff"/><stop offset="0.79" stop-color="#008aff"/><stop offset="0.845" stop-color="#00b6ff"/><stop offset="0.89" stop-color="#00eaff"/><stop offset="0.925" stop-color="#23ffdc"/><stop offset="0.955" stop-color="#65ff9a"/><stop offset="0.98" stop-color="#adff52"/><stop offset="1" stop-color="#f6ff09"/></linearGradient><linearGradient id="c124" x1="0" y1="0" x2="0" y2="1"><stop offset="0" stop-color="#0008ff"/><stop offset="0.2" stop-color="#000eff"/><stop offset="0.38" stop-color="#0016ff"/><stop offset="0.52" stop-color="#0029ff"/><stop offset="0.63" stop-color="#004aff"/><stop offset="0.72" stop-color="#0079ff"/><stop offset="0.79" stop-color="#00aeff"/><stop offset="0.845" stop-color="#00e6ff"/><stop offset="0.89" stop-color="#23ffdc"/><stop offset="0.925" stop-color="#62ff9d"/><stop offset="0.955" stop-color="#abff54"/><stop offset="0.98" stop-color="#faff05"/><stop offset="1" stop-color="#ffb300"/></linearGradient><linearGradient id="c125" x1="0" y1="0" x2="0" y2="1"><stop offset="0" stop-color="#000cff"/><stop offset="0.2" stop-color="#0013ff"/><stop offset="0.38" stop-color="#001cff"/><stop offset="0.52" stop-color="#002eff"/><stop offset="0.63" stop-color="#0049ff"/><stop offset="0.72" stop-color="#006eff"/><stop offset="0.79" stop-color="#009aff"/><stop offset="0.845" stop-color="#00d0ff"/><stop offset="0.89" stop-color="#17ffe8"/><stop offset="0.925" stop-color="#6aff95"/><stop offset="0.955" stop-color="#d2ff2d"/><stop offset="0.98" stop-color="#ffb100"/><stop offset="1" stop-color="#ff2e00"/></linearGradient><linearGradient id="c126" x1="0" y1="0" x2="0" y2="1"><stop offset="0" stop-color="#0000f8"/><stop offset="0.2" stop-color="#0003ff"/><stop offset="0.38" stop-color="#0017ff"/><stop offset="0.52" stop-color="#0038ff"/><stop offset="0.63" stop-color="#005dff"/><stop offset="0.72" stop-color="#0085ff"/><stop offset="0.79" stop-color="#00adff"/><stop offset="0.845" stop-color="#00dbff"/><stop offset="0.89" stop-color="#15ffea"/><stop offset="0.925" stop-color="#5affa5"/><stop offset="0.955" stop-color="#b0ff4f"/><stop offset="0.98" stop-color="#ffe700"/><stop offset="1" stop-color="#ff7900"/></linearGradient><linearGradient id="c127" x1="0" y1="0" x2="0" y2="1"><stop offset="0" stop-color="#0000e0"/><stop offset="0.2" stop-color="#0000e5"/><stop offset="0.38" stop-color="#0000ec"/><stop offset="0.52" stop-color="#0000fb"/><stop offset="0.63" stop-color="#0015ff"/><stop offset="0.72" stop-color="#0034ff"/><stop offset="0.79" stop-color="#0056ff"/><stop offset="0.845" stop-color="#007dff"/><stop offset="0.89" stop-color="#00afff"/><stop offset="0.925" stop-color="#00ebff"/><stop offset="0.955" stop-color="#38ffc7"/><stop offset="0.98" stop-color="#94ff6b"/><stop offset="1" stop-color="#f8ff07"/></linearGradient><linearGradient id="c128" x1="0" y1="0" x2="0" y2="1"><stop offset="0" stop-color="#00004c"/><stop offset="0.2" stop-color="#000051"/><stop offset="0.38" stop-color="#00005d"/><stop offset="0.52" stop-color="#000082"/><stop offset="0.63" stop-color="#0000d4"/><stop offset="0.72" stop-color="#0000f6"/><stop offset="0.79" stop-color="#0023ff"/><stop offset="0.845" stop-color="#0057ff"/><stop offset="0.89" stop-color="#0098ff"/><stop offset="0.925" stop-color="#00e2ff"/><stop offset="0.955" stop-color="#3bffc4"/><stop offset="0.98" stop-color="#9fff60"/><stop offset="1" stop-color="#fff800"/></linearGradient><linearGradient id="c129" x1="0" y1="0" x2="0" y2="1"><stop offset="0" stop-color="#0000e5"/><stop offset="0.2" stop-color="#0000eb"/><stop offset="0.38" stop-color="#0000f7"/><stop offset="0.52" stop-color="#0011ff"/><stop offset="0.63" stop-color="#0039ff"/><stop offset="0.72" stop-color="#006bff"/><stop offset="0.79" stop-color="#009eff"/><stop offset="0.845" stop-color="#00d3ff"/><stop offset="0.89" stop-color="#10ffef"/><stop offset="0.925" stop-color="#51ffae"/><stop offset="0.955" stop-color="#9dff62"/><stop offset="0.98" stop-color="#f3ff0c"/><stop offset="1" stop-color="#ffb100"/></linearGradient><linearGradient id="c130" x1="0" y1="0" x2="0" y2="1"><stop offset="0" stop-color="#0006ff"/><stop offset="0.2" stop-color="#000cff"/><stop offset="0.38" stop-color="#0016ff"/><stop offset="0.52" stop-color="#0028ff"/><stop offset="0.63" stop-color="#0044ff"/><stop offset="0.72" stop-color="#0065ff"/><stop offset="0.79" stop-color="#0085ff"/><stop offset="0.845" stop-color="#00a2ff"/><stop offset="0.89" stop-color="#00c0ff"/><stop offset="0.925" stop-color="#00ddff"/><stop offset="0.955" stop-color="#00fdff"/><stop offset="0.98" stop-color="#21ffde"/><stop offset="1" stop-color="#45ffba"/></linearGradient><linearGradient id="c131" x1="0" y1="0" x2="0" y2="1"><stop offset="0" stop-color="#0015ff"/><stop offset="0.2" stop-color="#001eff"/><stop offset="0.38" stop-color="#002fff"/><stop offset="0.52" stop-color="#004cff"/><stop offset="0.63" stop-color="#0071ff"/><stop offset="0.72" stop-color="#0097ff"/><stop offset="0.79" stop-color="#00b6ff"/><stop offset="0.845" stop-color="#00cdff"/><stop offset="0.89" stop-color="#00ddff"/><stop offset="0.925" stop-color="#00e9ff"/><stop offset="0.955" stop-color="#00f1ff"/><stop offset="0.98" stop-color="#00f8ff"/><stop offset="1" stop-color="#00feff"/></linearGradient><linearGradient id="c132" x1="0" y1="0" x2="0" y2="1"><stop offset="0" stop-color="#000aff"/><stop offset="0.2" stop-color="#0015ff"/><stop offset="0.38" stop-color="#0028ff"/><stop offset="0.52" stop-color="#0042ff"/><stop offset="0.63" stop-color="#005eff"/><stop offset="0.72" stop-color="#0078ff"/><stop offset="0.79" stop-color="#008dff"/><stop offset="0.845" stop-color="#009fff"/><stop offset="0.89" stop-color="#00afff"/><stop offset="0.925" stop-color="#00bfff"/><stop offset="0.955" stop-color="#00d1ff"/><stop offset="0.98" stop-color="#00e3ff"/><stop offset="1" stop-color="#00f6ff"/></linearGradient><linearGradient id="c133" x1="0" y1="0" x2="0" y2="1"><stop offset="0" stop-color="#000bff"/><stop offset="0.2" stop-color="#0016ff"/><stop offset="0.38" stop-color="#002cff"/><stop offset="0.52" stop-color="#004eff"/><stop offset="0.63" stop-color="#0074ff"/><stop offset="0.72" stop-color="#0099ff"/><stop offset="0.79" stop-color="#00b6ff"/><stop offset="0.845" stop-color="#00cbff"/><stop offset="0.89" stop-color="#00dcff"/><stop offset="0.925" stop-color="#00e8ff"/><stop offset="0.955" stop-color="#00f4ff"/><stop offset="0.98" stop-color="#00feff"/><stop offset="1" stop-color="#08fff7"/></linearGradient><linearGradient id="c134" x1="0" y1="0" x2="0" y2="1"><stop offset="0" stop-color="#000040"/><stop offset="0.2" stop-color="#000052"/><stop offset="0.38" stop-color="#00007d"/><stop offset="0.52" stop-color="#0000be"/><stop offset="0.63" stop-color="#0000e7"/><stop offset="0.72" stop-color="#0000ff"/><stop offset="0.79" stop-color="#001aff"/><stop offset="0.845" stop-color="#0038ff"/><stop offset="0.89" stop-color="#005eff"/><stop offset="0.925" stop-color="#008cff"/><stop offset="0.955" stop-color="#00c4ff"/><stop offset="0.98" stop-color="#07fff8"/><stop offset="1" stop-color="#4dffb2"/></linearGradient><linearGradient id="c135" x1="0" y1="0" x2="0" y2="1"><stop offset="0" stop-color="#000046"/><stop offset="0.2" stop-color="#000068"/><stop offset="0.38" stop-color="#0000b4"/><stop offset="0.52" stop-color="#0000ee"/><stop offset="0.63" stop-color="#0011ff"/><stop offset="0.72" stop-color="#002fff"/><stop offset="0.79" stop-color="#0048ff"/><stop offset="0.845" stop-color="#005eff"/><stop offset="0.89" stop-color="#0072ff"/><stop offset="0.925" stop-color="#0087ff"/><stop offset="0.955" stop-color="#009eff"/><stop offset="0.98" stop-color="#00b8ff"/><stop offset="1" stop-color="#00d3ff"/></linearGradient><linearGradient id="c136" x1="0" y1="0" x2="0" y2="1"><stop offset="0" stop-color="#0000ff"/><stop offset="0.2" stop-color="#0014ff"/><stop offset="0.38" stop-color="#0031ff"/><stop offset="0.52" stop-color="#0051ff"/><stop offset="0.63" stop-color="#006eff"/><stop offset="0.72" stop-color="#0088ff"/><stop offset="0.79" stop-color="#009dff"/><stop offset="0.845" stop-color="#00b2ff"/><stop offset="0.89" stop-color="#00c6ff"/><stop offset="0.925" stop-color="#00dbff"/><stop offset="0.955" stop-color="#00f1ff"/><stop offset="0.98" stop-color="#0afff5"/><stop offset="1" stop-color="#22ffdd"/></linearGradient><linearGradient id="c137" x1="0" y1="0" x2="0" y2="1"><stop offset="0" stop-color="#0011ff"/><stop offset="0.2" stop-color="#0025ff"/><stop offset="0.38" stop-color="#0046ff"/><stop offset="0.52" stop-color="#006aff"/><stop offset="0.63" stop-color="#008aff"/><stop offset="0.72" stop-color="#00a5ff"/><stop offset="0.79" stop-color="#00b9ff"/><stop offset="0.845" stop-color="#00c7ff"/><stop offset="0.89" stop-color="#00d2ff"/><stop offset="0.925" stop-color="#00dbff"/><stop offset="0.955" stop-color="#00e3ff"/><stop offset="0.98" stop-color="#00eaff"/><stop offset="1" stop-color="#00f1ff"/></linearGradient><linearGradient id="c138" x1="0" y1="0" x2="0" y2="1"><stop offset="0" stop-color="#0007ff"/><stop offset="0.2" stop-color="#000dff"/><stop offset="0.38" stop-color="#0016ff"/><stop offset="0.52" stop-color="#0025ff"/><stop offset="0.63" stop-color="#003dff"/><stop offset="0.72" stop-color="#005aff"/><stop offset="0.79" stop-color="#0075ff"/><stop offset="0.845" stop-color="#008cff"/><stop offset="0.89" stop-color="#00a0ff"/><stop offset="0.925" stop-color="#00b1ff"/><stop offset="0.955" stop-color="#00c1ff"/><stop offset="0.98" stop-color="#00d1ff"/><stop offset="1" stop-color="#00e0ff"/></linearGradient><linearGradient id="c139" x1="0" y1="0" x2="0" y2="1"><stop offset="0" stop-color="#0011ff"/><stop offset="0.2" stop-color="#0017ff"/><stop offset="0.38" stop-color="#001eff"/><stop offset="0.52" stop-color="#0027ff"/><stop offset="0.63" stop-color="#0037ff"/><stop offset="0.72" stop-color="#004eff"/><stop offset="0.79" stop-color="#0067ff"/><stop offset="0.845" stop-color="#007cff"/><stop offset="0.89" stop-color="#008dff"/><stop offset="0.925" stop-color="#009aff"/><stop offset="0.955" stop-color="#00a4ff"/><stop offset="0.98" stop-color="#00adff"/><stop offset="1" stop-color="#00b5ff"/></linearGradient><linearGradient id="c140" x1="0" y1="0" x2="0" y2="1"><stop offset="0" stop-color="#0004ff"/><stop offset="0.2" stop-color="#000eff"/><stop offset="0.38" stop-color="#001fff"/><stop offset="0.52" stop-color="#0035ff"/><stop offset="0.63" stop-color="#004dff"/><stop offset="0.72" stop-color="#0062ff"/><stop offset="0.79" stop-color="#0075ff"/><stop offset="0.845" stop-color="#0085ff"/><stop offset="0.89" stop-color="#0096ff"/><stop offset="0.925" stop-color="#00a7ff"/><stop offset="0.955" stop-color="#00bbff"/><stop offset="0.98" stop-color="#00d0ff"/><stop offset="1" stop-color="#00e7ff"/></linearGradient><linearGradient id="c141" x1="0" y1="0" x2="0" y2="1"><stop offset="0" stop-color="#0003ff"/><stop offset="0.2" stop-color="#000cff"/><stop offset="0.38" stop-color="#001fff"/><stop offset="0.52" stop-color="#003aff"/><stop offset="0.63" stop-color="#0059ff"/><stop offset="0.72" stop-color="#0077ff"/><stop offset="0.79" stop-color="#0090ff"/><stop offset="0.845" stop-color="#00a6ff"/><stop offset="0.89" stop-color="#00bbff"/><stop offset="0.925" stop-color="#00cfff"/><stop offset="0.955" stop-color="#00e6ff"/><stop offset="0.98" stop-color="#00feff"/><stop offset="1" stop-color="#17ffe8"/></linearGradient><linearGradient id="c142" x1="0" y1="0" x2="0" y2="1"><stop offset="0" stop-color="#000004"/><stop offset="0.852" stop-color="#000004"/><stop offset="0.902" stop-color="#006dff"/><stop offset="0.925" stop-color="#007fff"/><stop offset="0.955" stop-color="#00a0ff"/><stop offset="0.98" stop-color="#00c5ff"/><stop offset="1" stop-color="#00edff"/></linearGradient><linearGradient id="c143" x1="0" y1="0" x2="0" y2="1"><stop offset="0" stop-color="#000004"/><stop offset="0.868" stop-color="#000004"/><stop offset="0.918" stop-color="#00ceff"/><stop offset="0.925" stop-color="#00cfff"/><stop offset="0.955" stop-color="#00d5ff"/><stop offset="0.98" stop-color="#00daff"/><stop offset="1" stop-color="#00dfff"/></linearGradient><linearGradient id="c144" x1="0" y1="0" x2="0" y2="1"><stop offset="0" stop-color="#000004"/><stop offset="0.883" stop-color="#000004"/><stop offset="0.933" stop-color="#00d2ff"/><stop offset="0.955" stop-color="#00d7ff"/><stop offset="0.98" stop-color="#00dcff"/><stop offset="1" stop-color="#00e1ff"/></linearGradient><linearGradient id="c145" x1="0" y1="0" x2="0" y2="1"><stop offset="0" stop-color="#000004"/><stop offset="0.806" stop-color="#000004"/><stop offset="0.856" stop-color="#006cff"/><stop offset="0.89" stop-color="#0071ff"/><stop offset="0.925" stop-color="#0079ff"/><stop offset="0.955" stop-color="#0080ff"/><stop offset="0.98" stop-color="#0088ff"/><stop offset="1" stop-color="#0090ff"/></linearGradient><linearGradient id="c146" x1="0" y1="0" x2="0" y2="1"><stop offset="0" stop-color="#0069ff"/><stop offset="0.2" stop-color="#007eff"/><stop offset="0.38" stop-color="#009eff"/><stop offset="0.52" stop-color="#00c5ff"/><stop offset="0.63" stop-color="#00ebff"/><stop offset="0.72" stop-color="#0cfff3"/><stop offset="0.79" stop-color="#24ffdb"/><stop offset="0.845" stop-color="#34ffcb"/><stop offset="0.89" stop-color="#41ffbe"/><stop offset="0.925" stop-color="#4affb5"/><stop offset="0.955" stop-color="#51ffae"/><stop offset="0.98" stop-color="#58ffa7"/><stop offset="1" stop-color="#5dffa2"/></linearGradient><linearGradient id="c147" x1="0" y1="0" x2="0" y2="1"><stop offset="0" stop-color="#0094ff"/><stop offset="0.2" stop-color="#00c1ff"/><stop offset="0.38" stop-color="#00f1ff"/><stop offset="0.52" stop-color="#19ffe6"/><stop offset="0.63" stop-color="#36ffc9"/><stop offset="0.72" stop-color="#4cffb3"/><stop offset="0.79" stop-color="#5bffa4"/><stop offset="0.845" stop-color="#66ff99"/><stop offset="0.89" stop-color="#6eff91"/><stop offset="0.925" stop-color="#75ff8a"/><stop offset="0.955" stop-color="#7bff84"/><stop offset="0.98" stop-color="#80ff7f"/><stop offset="1" stop-color="#85ff7a"/></linearGradient><linearGradient id="c148" x1="0" y1="0" x2="0" y2="1"><stop offset="0" stop-color="#006eff"/><stop offset="0.2" stop-color="#0089ff"/><stop offset="0.38" stop-color="#00a6ff"/><stop offset="0.52" stop-color="#00beff"/><stop offset="0.63" stop-color="#00d0ff"/><stop offset="0.72" stop-color="#00deff"/><stop offset="0.79" stop-color="#00e9ff"/><stop offset="0.845" stop-color="#00f0ff"/><stop offset="0.89" stop-color="#00f7ff"/><stop offset="0.925" stop-color="#00fcff"/><stop offset="0.955" stop-color="#02fffd"/><stop offset="0.98" stop-color="#08fff7"/><stop offset="1" stop-color="#0dfff2"/></linearGradient><linearGradient id="c149" x1="0" y1="0" x2="0" y2="1"><stop offset="0" stop-color="#0067ff"/><stop offset="0.2" stop-color="#007fff"/><stop offset="0.38" stop-color="#00a6ff"/><stop offset="0.52" stop-color="#00d3ff"/><stop offset="0.63" stop-color="#00feff"/><stop offset="0.72" stop-color="#23ffdc"/><stop offset="0.79" stop-color="#3cffc3"/><stop offset="0.845" stop-color="#4fffb0"/><stop offset="0.89" stop-color="#5cffa3"/><stop offset="0.925" stop-color="#65ff9a"/><stop offset="0.955" stop-color="#6dff92"/><stop offset="0.98" stop-color="#73ff8c"/><stop offset="1" stop-color="#79ff86"/></linearGradient><linearGradient id="c150" x1="0" y1="0" x2="0" y2="1"><stop offset="0" stop-color="#006bff"/><stop offset="0.2" stop-color="#0089ff"/><stop offset="0.38" stop-color="#00aeff"/><stop offset="0.52" stop-color="#00d0ff"/><stop offset="0.63" stop-color="#00edff"/><stop offset="0.72" stop-color="#03fffc"/><stop offset="0.79" stop-color="#13ffec"/><stop offset="0.845" stop-color="#1effe1"/><stop offset="0.89" stop-color="#27ffd8"/><stop offset="0.925" stop-color="#2effd1"/><stop offset="0.955" stop-color="#34ffcb"/><stop offset="0.98" stop-color="#39ffc6"/><stop offset="1" stop-color="#3effc1"/></linearGradient><linearGradient id="c151" x1="0" y1="0" x2="0" y2="1"><stop offset="0" stop-color="#005bff"/><stop offset="0.2" stop-color="#007dff"/><stop offset="0.38" stop-color="#00a5ff"/><stop offset="0.52" stop-color="#00c8ff"/><stop offset="0.63" stop-color="#00e4ff"/><stop offset="0.72" stop-color="#00f9ff"/><stop offset="0.79" stop-color="#09fff6"/><stop offset="0.845" stop-color="#13ffec"/><stop offset="0.89" stop-color="#1bffe4"/><stop offset="0.925" stop-color="#21ffde"/><stop offset="0.955" stop-color="#27ffd8"/><stop offset="0.98" stop-color="#2cffd3"/><stop offset="1" stop-color="#31ffce"/></linearGradient><linearGradient id="c152" x1="0" y1="0" x2="0" y2="1"><stop offset="0" stop-color="#0056ff"/><stop offset="0.2" stop-color="#006dff"/><stop offset="0.38" stop-color="#0090ff"/><stop offset="0.52" stop-color="#00b8ff"/><stop offset="0.63" stop-color="#00ddff"/><stop offset="0.72" stop-color="#00fcff"/><stop offset="0.79" stop-color="#13ffec"/><stop offset="0.845" stop-color="#22ffdd"/><stop offset="0.89" stop-color="#2effd1"/><stop offset="0.925" stop-color="#36ffc9"/><stop offset="0.955" stop-color="#3dffc2"/><stop offset="0.98" stop-color="#43ffbc"/><stop offset="1" stop-color="#49ffb6"/></linearGradient><linearGradient id="c153" x1="0" y1="0" x2="0" y2="1"><stop offset="0" stop-color="#004aff"/><stop offset="0.2" stop-color="#0056ff"/><stop offset="0.38" stop-color="#006bff"/><stop offset="0.52" stop-color="#0089ff"/><stop offset="0.63" stop-color="#00abff"/><stop offset="0.72" stop-color="#00ccff"/><stop offset="0.79" stop-color="#00e5ff"/><stop offset="0.845" stop-color="#00f8ff"/><stop offset="0.89" stop-color="#07fff8"/><stop offset="0.925" stop-color="#10ffef"/><stop offset="0.955" stop-color="#18ffe7"/><stop offset="0.98" stop-color="#1fffe0"/><stop offset="1" stop-color="#24ffdb"/></linearGradient><linearGradient id="c154" x1="0" y1="0" x2="0" y2="1"><stop offset="0" stop-color="#0045ff"/><stop offset="0.2" stop-color="#0051ff"/><stop offset="0.38" stop-color="#0065ff"/><stop offset="0.52" stop-color="#0083ff"/><stop offset="0.63" stop-color="#00a5ff"/><stop offset="0.72" stop-color="#00c6ff"/><stop offset="0.79" stop-color="#00e0ff"/><stop offset="0.845" stop-color="#00f2ff"/><stop offset="0.89" stop-color="#01fffe"/><stop offset="0.925" stop-color="#0afff5"/><stop offset="0.955" stop-color="#12ffed"/><stop offset="0.98" stop-color="#19ffe6"/><stop offset="1" stop-color="#20ffdf"/></linearGradient><linearGradient id="c155" x1="0" y1="0" x2="0" y2="1"><stop offset="0" stop-color="#000004"/><stop offset="0.777" stop-color="#000004"/><stop offset="0.827" stop-color="#00c9ff"/><stop offset="0.845" stop-color="#00cdff"/><stop offset="0.89" stop-color="#00d7ff"/><stop offset="0.925" stop-color="#00deff"/><stop offset="0.955" stop-color="#00e4ff"/><stop offset="0.98" stop-color="#00eaff"/><stop offset="1" stop-color="#00f0ff"/></linearGradient><linearGradient id="c156" x1="0" y1="0" x2="0" y2="1"><stop offset="0" stop-color="#000004"/><stop offset="0.858" stop-color="#000004"/><stop offset="0.908" stop-color="#00c4ff"/><stop offset="0.925" stop-color="#00caff"/><stop offset="0.955" stop-color="#00d3ff"/><stop offset="0.98" stop-color="#00dbff"/><stop offset="1" stop-color="#00e1ff"/></linearGradient><linearGradient id="c157" x1="0" y1="0" x2="0" y2="1"><stop offset="0" stop-color="#000004"/><stop offset="0.861" stop-color="#000004"/><stop offset="0.911" stop-color="#00feff"/><stop offset="0.925" stop-color="#08fff7"/><stop offset="0.955" stop-color="#21ffde"/><stop offset="0.98" stop-color="#3bffc4"/><stop offset="1" stop-color="#56ffa9"/></linearGradient><linearGradient id="c158" x1="0" y1="0" x2="0" y2="1"><stop offset="0" stop-color="#000004"/><stop offset="0.775" stop-color="#000004"/><stop offset="0.825" stop-color="#00adff"/><stop offset="0.845" stop-color="#00b6ff"/><stop offset="0.89" stop-color="#00c8ff"/><stop offset="0.925" stop-color="#00d4ff"/><stop offset="0.955" stop-color="#00dcff"/><stop offset="0.98" stop-color="#00e3ff"/><stop offset="1" stop-color="#00e7ff"/></linearGradient><linearGradient id="c159" x1="0" y1="0" x2="0" y2="1"><stop offset="0" stop-color="#000004"/><stop offset="0.782" stop-color="#000004"/><stop offset="0.832" stop-color="#00a1ff"/><stop offset="0.845" stop-color="#00a5ff"/><stop offset="0.89" stop-color="#00b5ff"/><stop offset="0.925" stop-color="#00c5ff"/><stop offset="0.955" stop-color="#00d7ff"/><stop offset="0.98" stop-color="#00e8ff"/><stop offset="1" stop-color="#00f9ff"/></linearGradient><linearGradient id="c160" x1="0" y1="0" x2="0" y2="1"><stop offset="0" stop-color="#000004"/><stop offset="0.772" stop-color="#000004"/><stop offset="0.822" stop-color="#0083ff"/><stop offset="0.845" stop-color="#008bff"/><stop offset="0.89" stop-color="#0099ff"/><stop offset="0.925" stop-color="#00a4ff"/><stop offset="0.955" stop-color="#00adff"/><stop offset="0.98" stop-color="#00b5ff"/><stop offset="1" stop-color="#00bcff"/></linearGradient><linearGradient id="c161" x1="0" y1="0" x2="0" y2="1"><stop offset="0" stop-color="#000004"/><stop offset="0.842" stop-color="#000004"/><stop offset="0.892" stop-color="#00f2ff"/><stop offset="0.925" stop-color="#0efff1"/><stop offset="0.955" stop-color="#2cffd3"/><stop offset="0.98" stop-color="#4affb5"/><stop offset="1" stop-color="#66ff99"/></linearGradient><linearGradient id="c162" x1="0" y1="0" x2="0" y2="1"><stop offset="0" stop-color="#000004"/><stop offset="0.823" stop-color="#000004"/><stop offset="0.873" stop-color="#04fffb"/><stop offset="0.89" stop-color="#1effe1"/><stop offset="0.925" stop-color="#5cffa3"/><stop offset="0.955" stop-color="#9dff62"/><stop offset="0.98" stop-color="#deff21"/><stop offset="1" stop-color="#ffe200"/></linearGradient><linearGradient id="c163" x1="0" y1="0" x2="0" y2="1"><stop offset="0" stop-color="#000004"/><stop offset="0.794" stop-color="#000004"/><stop offset="0.844" stop-color="#1bffe4"/><stop offset="0.845" stop-color="#1dffe2"/><stop offset="0.89" stop-color="#61ff9e"/><stop offset="0.925" stop-color="#a2ff5d"/><stop offset="0.955" stop-color="#e7ff18"/><stop offset="0.98" stop-color="#ffd200"/><stop offset="1" stop-color="#ff9100"/></linearGradient><linearGradient id="c164" x1="0" y1="0" x2="0" y2="1"><stop offset="0" stop-color="#0005ff"/><stop offset="0.2" stop-color="#000bff"/><stop offset="0.38" stop-color="#0014ff"/><stop offset="0.52" stop-color="#0026ff"/><stop offset="0.63" stop-color="#0049ff"/><stop offset="0.72" stop-color="#0081ff"/><stop offset="0.79" stop-color="#00c8ff"/><stop offset="0.845" stop-color="#1dffe2"/><stop offset="0.89" stop-color="#7dff82"/><stop offset="0.925" stop-color="#e1ff1e"/><stop offset="0.955" stop-color="#ffae00"/><stop offset="0.98" stop-color="#ff3900"/><stop offset="1" stop-color="#e50000"/></linearGradient><linearGradient id="c165" x1="0" y1="0" x2="0" y2="1"><stop offset="0" stop-color="#0000fa"/><stop offset="0.2" stop-color="#0000ff"/><stop offset="0.38" stop-color="#0007ff"/><stop offset="0.52" stop-color="#0012ff"/><stop offset="0.63" stop-color="#002cff"/><stop offset="0.72" stop-color="#0064ff"/><stop offset="0.79" stop-color="#00b8ff"/><stop offset="0.845" stop-color="#1effe1"/><stop offset="0.89" stop-color="#90ff6f"/><stop offset="0.925" stop-color="#fffe00"/><stop offset="0.955" stop-color="#ff8700"/><stop offset="0.98" stop-color="#ff0e00"/><stop offset="1" stop-color="#fff0ec"/></linearGradient><linearGradient id="c166" x1="0" y1="0" x2="0" y2="1"><stop offset="0" stop-color="#000004"/><stop offset="0.776" stop-color="#000004"/><stop offset="0.826" stop-color="#00b7ff"/><stop offset="0.845" stop-color="#00d9ff"/><stop offset="0.89" stop-color="#41ffbe"/><stop offset="0.925" stop-color="#abff54"/><stop offset="0.955" stop-color="#ffe200"/><stop offset="0.98" stop-color="#ff6e00"/><stop offset="1" stop-color="#ff0000"/></linearGradient><linearGradient id="c167" x1="0" y1="0" x2="0" y2="1"><stop offset="0" stop-color="#000eff"/><stop offset="0.2" stop-color="#0015ff"/><stop offset="0.38" stop-color="#001cff"/><stop offset="0.52" stop-color="#0027ff"/><stop offset="0.63" stop-color="#003dff"/><stop offset="0.72" stop-color="#006dff"/><stop offset="0.79" stop-color="#00b8ff"/><stop offset="0.845" stop-color="#14ffeb"/><stop offset="0.89" stop-color="#75ff8a"/><stop offset="0.925" stop-color="#d0ff2f"/><stop offset="0.955" stop-color="#ffd400"/><stop offset="0.98" stop-color="#ff7e00"/><stop offset="1" stop-color="#ff3100"/></linearGradient><linearGradient id="c168" x1="0" y1="0" x2="0" y2="1"><stop offset="0" stop-color="#0007ff"/><stop offset="0.2" stop-color="#000eff"/><stop offset="0.38" stop-color="#0016ff"/><stop offset="0.52" stop-color="#0024ff"/><stop offset="0.63" stop-color="#003eff"/><stop offset="0.72" stop-color="#0072ff"/><stop offset="0.79" stop-color="#00c1ff"/><stop offset="0.845" stop-color="#24ffdb"/><stop offset="0.89" stop-color="#92ff6d"/><stop offset="0.925" stop-color="#ffff00"/><stop offset="0.955" stop-color="#ff8e00"/><stop offset="0.98" stop-color="#ff1f00"/><stop offset="1" stop-color="#fff0ec"/></linearGradient><linearGradient id="c169" x1="0" y1="0" x2="0" y2="1"><stop offset="0" stop-color="#0002ff"/><stop offset="0.2" stop-color="#0009ff"/><stop offset="0.38" stop-color="#0011ff"/><stop offset="0.52" stop-color="#001fff"/><stop offset="0.63" stop-color="#003cff"/><stop offset="0.72" stop-color="#006fff"/><stop offset="0.79" stop-color="#00b6ff"/><stop offset="0.845" stop-color="#08fff7"/><stop offset="0.89" stop-color="#63ff9c"/><stop offset="0.925" stop-color="#beff41"/><stop offset="0.955" stop-color="#ffde00"/><stop offset="0.98" stop-color="#ff7c00"/><stop offset="1" stop-color="#ff1f00"/></linearGradient><linearGradient id="c170" x1="0" y1="0" x2="0" y2="1"><stop offset="0" stop-color="#000004"/><stop offset="0.791" stop-color="#000004"/><stop offset="0.841" stop-color="#1bffe4"/><stop offset="0.845" stop-color="#24ffdb"/><stop offset="0.89" stop-color="#a3ff5c"/><stop offset="0.925" stop-color="#ffda00"/><stop offset="0.955" stop-color="#ff5100"/><stop offset="0.98" stop-color="#e50000"/><stop offset="1" stop-color="#fff0ec"/></linearGradient><linearGradient id="c171" x1="0" y1="0" x2="0" y2="1"><stop offset="0" stop-color="#0004ff"/><stop offset="0.2" stop-color="#000bff"/><stop offset="0.38" stop-color="#0015ff"/><stop offset="0.52" stop-color="#0028ff"/><stop offset="0.63" stop-color="#004eff"/><stop offset="0.72" stop-color="#008cff"/><stop offset="0.79" stop-color="#00dfff"/><stop offset="0.845" stop-color="#41ffbe"/><stop offset="0.89" stop-color="#aeff51"/><stop offset="0.925" stop-color="#ffe300"/><stop offset="0.955" stop-color="#ff6e00"/><stop offset="0.98" stop-color="#f80000"/><stop offset="1" stop-color="#fff0ec"/></linearGradient><linearGradient id="c172" x1="0" y1="0" x2="0" y2="1"><stop offset="0" stop-color="#0016ff"/><stop offset="0.2" stop-color="#001dff"/><stop offset="0.38" stop-color="#0026ff"/><stop offset="0.52" stop-color="#0038ff"/><stop offset="0.63" stop-color="#005eff"/><stop offset="0.72" stop-color="#00a2ff"/><stop offset="0.79" stop-color="#00fbff"/><stop offset="0.845" stop-color="#5dffa2"/><stop offset="0.89" stop-color="#c4ff3b"/><stop offset="0.925" stop-color="#ffd700"/><stop offset="0.955" stop-color="#ff7100"/><stop offset="0.98" stop-color="#ff0c00"/><stop offset="1" stop-color="#fff0ec"/></linearGradient><linearGradient id="c173" x1="0" y1="0" x2="0" y2="1"><stop offset="0" stop-color="#000004"/><stop offset="0.723" stop-color="#000004"/><stop offset="0.773" stop-color="#00f2ff"/><stop offset="0.79" stop-color="#12ffed"/><stop offset="0.845" stop-color="#90ff6f"/><stop offset="0.89" stop-color="#ffe000"/><stop offset="0.925" stop-color="#ff5300"/><stop offset="0.955" stop-color="#e50000"/><stop offset="0.98" stop-color="#fff0ec"/><stop offset="1" stop-color="#fff0ec"/></linearGradient><linearGradient id="c174" x1="0" y1="0" x2="0" y2="1"><stop offset="0" stop-color="#0000f4"/><stop offset="0.2" stop-color="#0000fa"/><stop offset="0.38" stop-color="#0002ff"/><stop offset="0.52" stop-color="#000dff"/><stop offset="0.63" stop-color="#0021ff"/><stop offset="0.72" stop-color="#004cff"/><stop offset="0.79" stop-color="#008fff"/><stop offset="0.845" stop-color="#00e5ff"/><stop offset="0.89" stop-color="#4affb5"/><stop offset="0.925" stop-color="#aeff51"/><stop offset="0.955" stop-color="#ffe600"/><stop offset="0.98" stop-color="#ff7d00"/><stop offset="1" stop-color="#ff1a00"/></linearGradient><linearGradient id="c175" x1="0" y1="0" x2="0" y2="1"><stop offset="0" stop-color="#0000fa"/><stop offset="0.2" stop-color="#0000ff"/><stop offset="0.38" stop-color="#0006ff"/><stop offset="0.52" stop-color="#000eff"/><stop offset="0.63" stop-color="#001cff"/><stop offset="0.72" stop-color="#003dff"/><stop offset="0.79" stop-color="#0076ff"/><stop offset="0.845" stop-color="#00c4ff"/><stop offset="0.89" stop-color="#23ffdc"/><stop offset="0.925" stop-color="#84ff7b"/><stop offset="0.955" stop-color="#eeff11"/><stop offset="0.98" stop-color="#ffa400"/><stop offset="1" stop-color="#ff3b00"/></linearGradient><linearGradient id="c176" x1="0" y1="0" x2="0" y2="1"><stop offset="0" stop-color="#000004"/><stop offset="0.763" stop-color="#000004"/><stop offset="0.813" stop-color="#00a1ff"/><stop offset="0.845" stop-color="#00eaff"/><stop offset="0.89" stop-color="#80ff7f"/><stop offset="0.925" stop-color="#ffdc00"/><stop offset="0.955" stop-color="#ff2b00"/><stop offset="0.98" stop-color="#fff0ec"/><stop offset="1" stop-color="#fff0ec"/></linearGradient><linearGradient id="c177" x1="0" y1="0" x2="0" y2="1"><stop offset="0" stop-color="#0000f9"/><stop offset="0.2" stop-color="#0000fe"/><stop offset="0.38" stop-color="#0005ff"/><stop offset="0.52" stop-color="#000cff"/><stop offset="0.63" stop-color="#001aff"/><stop offset="0.72" stop-color="#0039ff"/><stop offset="0.79" stop-color="#0077ff"/><stop offset="0.845" stop-color="#00dbff"/><stop offset="0.89" stop-color="#64ff9b"/><stop offset="0.925" stop-color="#fcff03"/><stop offset="0.955" stop-color="#ff5400"/><stop offset="0.98" stop-color="#fff0ec"/><stop offset="1" stop-color="#fff0ec"/></linearGradient><linearGradient id="c178" x1="0" y1="0" x2="0" y2="1"><stop offset="0" stop-color="#0000e5"/><stop offset="0.2" stop-color="#0000eb"/><stop offset="0.38" stop-color="#0000f3"/><stop offset="0.52" stop-color="#0007ff"/><stop offset="0.63" stop-color="#0032ff"/><stop offset="0.72" stop-color="#007bff"/><stop offset="0.79" stop-color="#00daff"/><stop offset="0.845" stop-color="#46ffb9"/><stop offset="0.89" stop-color="#baff45"/><stop offset="0.925" stop-color="#ffd100"/><stop offset="0.955" stop-color="#ff5900"/><stop offset="0.98" stop-color="#e50000"/><stop offset="1" stop-color="#fff0ec"/></linearGradient><linearGradient id="c179" x1="0" y1="0" x2="0" y2="1"><stop offset="0" stop-color="#0006ff"/><stop offset="0.2" stop-color="#000dff"/><stop offset="0.38" stop-color="#0015ff"/><stop offset="0.52" stop-color="#0022ff"/><stop offset="0.63" stop-color="#0040ff"/><stop offset="0.72" stop-color="#007cff"/><stop offset="0.79" stop-color="#00d1ff"/><stop offset="0.845" stop-color="#35ffca"/><stop offset="0.89" stop-color="#9eff61"/><stop offset="0.925" stop-color="#fffc00"/><stop offset="0.955" stop-color="#ff9600"/><stop offset="0.98" stop-color="#ff3200"/><stop offset="1" stop-color="#e50000"/></linearGradient><linearGradient id="c180" x1="0" y1="0" x2="0" y2="1"><stop offset="0" stop-color="#000004"/><stop offset="0.787" stop-color="#000004"/><stop offset="0.837" stop-color="#33ffcc"/><stop offset="0.845" stop-color="#47ffb8"/><stop offset="0.89" stop-color="#d6ff29"/><stop offset="0.925" stop-color="#ff9c00"/><stop offset="0.955" stop-color="#ff0f00"/><stop offset="0.98" stop-color="#fff0ec"/><stop offset="1" stop-color="#fff0ec"/></linearGradient><linearGradient id="c181" x1="0" y1="0" x2="0" y2="1"><stop offset="0" stop-color="#0005ff"/><stop offset="0.2" stop-color="#000bff"/><stop offset="0.38" stop-color="#0015ff"/><stop offset="0.52" stop-color="#0029ff"/><stop offset="0.63" stop-color="#0054ff"/><stop offset="0.72" stop-color="#00a3ff"/><stop offset="0.79" stop-color="#11ffee"/><stop offset="0.845" stop-color="#95ff6a"/><stop offset="0.89" stop-color="#ffcf00"/><stop offset="0.925" stop-color="#ff3000"/><stop offset="0.955" stop-color="#fff0ec"/><stop offset="0.98" stop-color="#fff0ec"/><stop offset="1" stop-color="#fff0ec"/></linearGradient><linearGradient id="c182" x1="0" y1="0" x2="0" y2="1"><stop offset="0" stop-color="#0000be"/><stop offset="0.2" stop-color="#0000d4"/><stop offset="0.38" stop-color="#0000da"/><stop offset="0.52" stop-color="#0000e8"/><stop offset="0.63" stop-color="#000dff"/><stop offset="0.72" stop-color="#005aff"/><stop offset="0.79" stop-color="#00d0ff"/><stop offset="0.845" stop-color="#64ff9b"/><stop offset="0.89" stop-color="#ffee00"/><stop offset="0.925" stop-color="#ff3c00"/><stop offset="0.955" stop-color="#fff0ec"/><stop offset="0.98" stop-color="#fff0ec"/><stop offset="1" stop-color="#fff0ec"/></linearGradient><linearGradient id="c183" x1="0" y1="0" x2="0" y2="1"><stop offset="0" stop-color="#000004"/><stop offset="0.73" stop-color="#000004"/><stop offset="0.78" stop-color="#008eff"/><stop offset="0.79" stop-color="#00a1ff"/><stop offset="0.845" stop-color="#2cffd3"/><stop offset="0.89" stop-color="#d3ff2c"/><stop offset="0.925" stop-color="#ff7a00"/><stop offset="0.955" stop-color="#fff0ec"/><stop offset="0.98" stop-color="#fff0ec"/><stop offset="1" stop-color="#fff0ec"/></linearGradient><linearGradient id="c184" x1="0" y1="0" x2="0" y2="1"><stop offset="0" stop-color="#0000f4"/><stop offset="0.2" stop-color="#0000fa"/><stop offset="0.38" stop-color="#0006ff"/><stop offset="0.52" stop-color="#001cff"/><stop offset="0.63" stop-color="#004aff"/><stop offset="0.72" stop-color="#0097ff"/><stop offset="0.79" stop-color="#00feff"/><stop offset="0.845" stop-color="#79ff86"/><stop offset="0.89" stop-color="#fffa00"/><stop offset="0.925" stop-color="#ff6c00"/><stop offset="0.955" stop-color="#e50000"/><stop offset="0.98" stop-color="#fff0ec"/><stop offset="1" stop-color="#fff0ec"/></linearGradient><linearGradient id="c185" x1="0" y1="0" x2="0" y2="1"><stop offset="0" stop-color="#0000fa"/><stop offset="0.2" stop-color="#0004ff"/><stop offset="0.38" stop-color="#0014ff"/><stop offset="0.52" stop-color="#0031ff"/><stop offset="0.63" stop-color="#0066ff"/><stop offset="0.72" stop-color="#00c0ff"/><stop offset="0.79" stop-color="#3effc1"/><stop offset="0.845" stop-color="#d1ff2e"/><stop offset="0.89" stop-color="#ff8c00"/><stop offset="0.925" stop-color="#f10000"/><stop offset="0.955" stop-color="#fff0ec"/><stop offset="0.98" stop-color="#fff0ec"/><stop offset="1" stop-color="#fff0ec"/></linearGradient><linearGradient id="c186" x1="0" y1="0" x2="0" y2="1"><stop offset="0" stop-color="#000bff"/><stop offset="0.2" stop-color="#0012ff"/><stop offset="0.38" stop-color="#001cff"/><stop offset="0.52" stop-color="#002eff"/><stop offset="0.63" stop-color="#0057ff"/><stop offset="0.72" stop-color="#00a0ff"/><stop offset="0.79" stop-color="#04fffb"/><stop offset="0.845" stop-color="#74ff8b"/><stop offset="0.89" stop-color="#ecff13"/><stop offset="0.925" stop-color="#ff9c00"/><stop offset="0.955" stop-color="#ff2200"/><stop offset="0.98" stop-color="#fff0ec"/><stop offset="1" stop-color="#fff0ec"/></linearGradient><linearGradient id="c187" x1="0" y1="0" x2="0" y2="1"><stop offset="0" stop-color="#0018ff"/><stop offset="0.2" stop-color="#0020ff"/><stop offset="0.38" stop-color="#002dff"/><stop offset="0.52" stop-color="#0048ff"/><stop offset="0.63" stop-color="#007bff"/><stop offset="0.72" stop-color="#00c5ff"/><stop offset="0.79" stop-color="#1affe5"/><stop offset="0.845" stop-color="#6eff91"/><stop offset="0.89" stop-color="#c0ff3f"/><stop offset="0.925" stop-color="#fff300"/><stop offset="0.955" stop-color="#ffa900"/><stop offset="0.98" stop-color="#ff6300"/><stop offset="1" stop-color="#ff2400"/></linearGradient><linearGradient id="c188" x1="0" y1="0" x2="0" y2="1"><stop offset="0" stop-color="#0000fe"/><stop offset="0.2" stop-color="#0004ff"/><stop offset="0.38" stop-color="#000aff"/><stop offset="0.52" stop-color="#0011ff"/><stop offset="0.63" stop-color="#001fff"/><stop offset="0.72" stop-color="#003eff"/><stop offset="0.79" stop-color="#006aff"/><stop offset="0.845" stop-color="#00a1ff"/><stop offset="0.89" stop-color="#00e0ff"/><stop offset="0.925" stop-color="#24ffdb"/><stop offset="0.955" stop-color="#70ff8f"/><stop offset="0.98" stop-color="#c1ff3e"/><stop offset="1" stop-color="#ffec00"/></linearGradient><linearGradient id="c189" x1="0" y1="0" x2="0" y2="1"><stop offset="0" stop-color="#0000e7"/><stop offset="0.2" stop-color="#0000ec"/><stop offset="0.38" stop-color="#0000f2"/><stop offset="0.52" stop-color="#0002ff"/><stop offset="0.63" stop-color="#001fff"/><stop offset="0.72" stop-color="#004bff"/><stop offset="0.79" stop-color="#007eff"/><stop offset="0.845" stop-color="#00b3ff"/><stop offset="0.89" stop-color="#00eeff"/><stop offset="0.925" stop-color="#2effd1"/><stop offset="0.955" stop-color="#78ff87"/><stop offset="0.98" stop-color="#c9ff36"/><stop offset="1" stop-color="#ffe000"/></linearGradient><linearGradient id="c190" x1="0" y1="0" x2="0" y2="1"><stop offset="0" stop-color="#0001ff"/><stop offset="0.2" stop-color="#0007ff"/><stop offset="0.38" stop-color="#000cff"/><stop offset="0.52" stop-color="#0014ff"/><stop offset="0.63" stop-color="#0027ff"/><stop offset="0.72" stop-color="#004fff"/><stop offset="0.79" stop-color="#0088ff"/><stop offset="0.845" stop-color="#00c7ff"/><stop offset="0.89" stop-color="#09fff6"/><stop offset="0.925" stop-color="#45ffba"/><stop offset="0.955" stop-color="#82ff7d"/><stop offset="0.98" stop-color="#bfff40"/><stop offset="1" stop-color="#faff05"/></linearGradient><linearGradient id="c191" x1="0" y1="0" x2="0" y2="1"><stop offset="0" stop-color="#0006ff"/><stop offset="0.2" stop-color="#000cff"/><stop offset="0.38" stop-color="#0015ff"/><stop offset="0.52" stop-color="#0026ff"/><stop offset="0.63" stop-color="#0043ff"/><stop offset="0.72" stop-color="#006dff"/><stop offset="0.79" stop-color="#009cff"/><stop offset="0.845" stop-color="#00ceff"/><stop offset="0.89" stop-color="#06fff9"/><stop offset="0.925" stop-color="#3fffc0"/><stop offset="0.955" stop-color="#7eff81"/><stop offset="0.98" stop-color="#c1ff3e"/><stop offset="1" stop-color="#fffb00"/></linearGradient><linearGradient id="c192" x1="0" y1="0" x2="0" y2="1"><stop offset="0" stop-color="#0009ff"/><stop offset="0.2" stop-color="#0010ff"/><stop offset="0.38" stop-color="#0019ff"/><stop offset="0.52" stop-color="#002eff"/><stop offset="0.63" stop-color="#0055ff"/><stop offset="0.72" stop-color="#008cff"/><stop offset="0.79" stop-color="#00c9ff"/><stop offset="0.845" stop-color="#05fffa"/><stop offset="0.89" stop-color="#40ffbf"/><stop offset="0.925" stop-color="#78ff87"/><stop offset="0.955" stop-color="#b2ff4d"/><stop offset="0.98" stop-color="#edff12"/><stop offset="1" stop-color="#ffd800"/></linearGradient><linearGradient id="c193" x1="0" y1="0" x2="0" y2="1"><stop offset="0" stop-color="#000004"/><stop offset="0.746" stop-color="#000004"/><stop offset="0.796" stop-color="#00a3ff"/><stop offset="0.845" stop-color="#00c6ff"/><stop offset="0.89" stop-color="#00ecff"/><stop offset="0.925" stop-color="#11ffee"/><stop offset="0.955" stop-color="#36ffc9"/><stop offset="0.98" stop-color="#5affa5"/><stop offset="1" stop-color="#7cff83"/></linearGradient><linearGradient id="c194" x1="0" y1="0" x2="0" y2="1"><stop offset="0" stop-color="#000078"/><stop offset="0.2" stop-color="#000080"/><stop offset="0.38" stop-color="#00008d"/><stop offset="0.52" stop-color="#0000ab"/><stop offset="0.63" stop-color="#0000e1"/><stop offset="0.72" stop-color="#000fff"/><stop offset="0.79" stop-color="#004cff"/><stop offset="0.845" stop-color="#0092ff"/><stop offset="0.89" stop-color="#00dcff"/><stop offset="0.925" stop-color="#25ffda"/><stop offset="0.955" stop-color="#6fff90"/><stop offset="0.98" stop-color="#b9ff46"/><stop offset="1" stop-color="#fdff02"/></linearGradient><linearGradient id="c195" x1="0" y1="0" x2="0" y2="1"><stop offset="0" stop-color="#000004"/><stop offset="0.655" stop-color="#000004"/><stop offset="0.705" stop-color="#0083ff"/><stop offset="0.72" stop-color="#008eff"/><stop offset="0.79" stop-color="#00c7ff"/><stop offset="0.845" stop-color="#01fffe"/><stop offset="0.89" stop-color="#3dffc2"/><stop offset="0.925" stop-color="#77ff88"/><stop offset="0.955" stop-color="#b4ff4b"/><stop offset="0.98" stop-color="#f1ff0e"/><stop offset="1" stop-color="#ffd300"/></linearGradient><linearGradient id="c196" x1="0" y1="0" x2="0" y2="1"><stop offset="0" stop-color="#000004"/><stop offset="0.666" stop-color="#000004"/><stop offset="0.716" stop-color="#0083ff"/><stop offset="0.72" stop-color="#0086ff"/><stop offset="0.79" stop-color="#00cbff"/><stop offset="0.845" stop-color="#0efff1"/><stop offset="0.89" stop-color="#4cffb3"/><stop offset="0.925" stop-color="#82ff7d"/><stop offset="0.955" stop-color="#b5ff4a"/><stop offset="0.98" stop-color="#e5ff1a"/><stop offset="1" stop-color="#ffef00"/></linearGradient><linearGradient id="c197" x1="0" y1="0" x2="0" y2="1"><stop offset="0" stop-color="#000061"/><stop offset="0.2" stop-color="#00006c"/><stop offset="0.38" stop-color="#00008d"/><stop offset="0.52" stop-color="#0000d8"/><stop offset="0.63" stop-color="#0000fe"/><stop offset="0.72" stop-color="#0032ff"/><stop offset="0.79" stop-color="#006eff"/><stop offset="0.845" stop-color="#00b0ff"/><stop offset="0.89" stop-color="#00faff"/><stop offset="0.925" stop-color="#45ffba"/><stop offset="0.955" stop-color="#96ff69"/><stop offset="0.98" stop-color="#e8ff17"/><stop offset="1" stop-color="#ffc800"/></linearGradient><linearGradient id="c198" x1="0" y1="0" x2="0" y2="1"><stop offset="0" stop-color="#0000fd"/><stop offset="0.2" stop-color="#0007ff"/><stop offset="0.38" stop-color="#001cff"/><stop offset="0.52" stop-color="#003eff"/><stop offset="0.63" stop-color="#006cff"/><stop offset="0.72" stop-color="#00a1ff"/><stop offset="0.79" stop-color="#00d7ff"/><stop offset="0.845" stop-color="#0dfff2"/><stop offset="0.89" stop-color="#44ffbb"/><stop offset="0.925" stop-color="#78ff87"/><stop offset="0.955" stop-color="#aeff51"/><stop offset="0.98" stop-color="#e4ff1b"/><stop offset="1" stop-color="#ffe900"/></linearGradient><linearGradient id="c199" x1="0" y1="0" x2="0" y2="1"><stop offset="0" stop-color="#0007ff"/><stop offset="0.2" stop-color="#0010ff"/><stop offset="0.38" stop-color="#0023ff"/><stop offset="0.52" stop-color="#0045ff"/><stop offset="0.63" stop-color="#0073ff"/><stop offset="0.72" stop-color="#00adff"/><stop offset="0.79" stop-color="#00ebff"/><stop offset="0.845" stop-color="#2effd1"/><stop offset="0.89" stop-color="#75ff8a"/><stop offset="0.925" stop-color="#baff45"/><stop offset="0.955" stop-color="#fffa00"/><stop offset="0.98" stop-color="#ffb000"/><stop offset="1" stop-color="#ff6b00"/></linearGradient><linearGradient id="c200" x1="0" y1="0" x2="0" y2="1"><stop offset="0" stop-color="#0000f5"/><stop offset="0.2" stop-color="#0000fb"/><stop offset="0.38" stop-color="#0006ff"/><stop offset="0.52" stop-color="#001fff"/><stop offset="0.63" stop-color="#004bff"/><stop offset="0.72" stop-color="#008bff"/><stop offset="0.79" stop-color="#00d4ff"/><stop offset="0.845" stop-color="#23ffdc"/><stop offset="0.89" stop-color="#74ff8b"/><stop offset="0.925" stop-color="#c2ff3d"/><stop offset="0.955" stop-color="#ffea00"/><stop offset="0.98" stop-color="#ff9700"/><stop offset="1" stop-color="#ff4a00"/></linearGradient><linearGradient id="c201" x1="0" y1="0" x2="0" y2="1"><stop offset="0" stop-color="#0000ee"/><stop offset="0.2" stop-color="#0000f3"/><stop offset="0.38" stop-color="#0000f8"/><stop offset="0.52" stop-color="#0004ff"/><stop offset="0.63" stop-color="#001dff"/><stop offset="0.72" stop-color="#004dff"/><stop offset="0.79" stop-color="#0090ff"/><stop offset="0.845" stop-color="#00dcff"/><stop offset="0.89" stop-color="#2dffd2"/><stop offset="0.925" stop-color="#7bff84"/><stop offset="0.955" stop-color="#cbff34"/><stop offset="0.98" stop-color="#ffe400"/><stop offset="1" stop-color="#ff9900"/></linearGradient><linearGradient id="c202" x1="0" y1="0" x2="0" y2="1"><stop offset="0" stop-color="#000055"/><stop offset="0.2" stop-color="#00005c"/><stop offset="0.38" stop-color="#000074"/><stop offset="0.52" stop-color="#0000b9"/><stop offset="0.63" stop-color="#0000f8"/><stop offset="0.72" stop-color="#0036ff"/><stop offset="0.79" stop-color="#007cff"/><stop offset="0.845" stop-color="#00c8ff"/><stop offset="0.89" stop-color="#1bffe4"/><stop offset="0.925" stop-color="#6dff92"/><stop offset="0.955" stop-color="#c4ff3b"/><stop offset="0.98" stop-color="#ffe000"/><stop offset="1" stop-color="#ff8b00"/></linearGradient><linearGradient id="c203" x1="0" y1="0" x2="0" y2="1"><stop offset="0" stop-color="#0000dd"/><stop offset="0.2" stop-color="#0000e2"/><stop offset="0.38" stop-color="#0000e8"/><stop offset="0.52" stop-color="#0000f6"/><stop offset="0.63" stop-color="#0015ff"/><stop offset="0.72" stop-color="#004eff"/><stop offset="0.79" stop-color="#0099ff"/><stop offset="0.845" stop-color="#00efff"/><stop offset="0.89" stop-color="#4effb1"/><stop offset="0.925" stop-color="#a8ff57"/><stop offset="0.955" stop-color="#fff600"/><stop offset="0.98" stop-color="#ff9800"/><stop offset="1" stop-color="#ff3f00"/></linearGradient><linearGradient id="c204" x1="0" y1="0" x2="0" y2="1"><stop offset="0" stop-color="#0000f6"/><stop offset="0.2" stop-color="#0000fd"/><stop offset="0.38" stop-color="#000aff"/><stop offset="0.52" stop-color="#0021ff"/><stop offset="0.63" stop-color="#004eff"/><stop offset="0.72" stop-color="#0095ff"/><stop offset="0.79" stop-color="#00ebff"/><stop offset="0.845" stop-color="#48ffb7"/><stop offset="0.89" stop-color="#a7ff58"/><stop offset="0.925" stop-color="#ffff00"/><stop offset="0.955" stop-color="#ffa600"/><stop offset="0.98" stop-color="#ff5100"/><stop offset="1" stop-color="#ff0300"/></linearGradient><linearGradient id="c205" x1="0" y1="0" x2="0" y2="1"><stop offset="0" stop-color="#0015ff"/><stop offset="0.2" stop-color="#0020ff"/><stop offset="0.38" stop-color="#0038ff"/><stop offset="0.52" stop-color="#006aff"/><stop offset="0.63" stop-color="#00b5ff"/><stop offset="0.72" stop-color="#12ffed"/><stop offset="0.79" stop-color="#6eff91"/><stop offset="0.845" stop-color="#c3ff3c"/><stop offset="0.89" stop-color="#ffec00"/><stop offset="0.925" stop-color="#ffa700"/><stop offset="0.955" stop-color="#ff6600"/><stop offset="0.98" stop-color="#ff2a00"/><stop offset="1" stop-color="#f50000"/></linearGradient><linearGradient id="c206" x1="0" y1="0" x2="0" y2="1"><stop offset="0" stop-color="#0000f4"/><stop offset="0.2" stop-color="#0002ff"/><stop offset="0.38" stop-color="#0024ff"/><stop offset="0.52" stop-color="#0063ff"/><stop offset="0.63" stop-color="#00bdff"/><stop offset="0.72" stop-color="#2affd5"/><stop offset="0.79" stop-color="#96ff69"/><stop offset="0.845" stop-color="#fbff04"/><stop offset="0.89" stop-color="#ffa300"/><stop offset="0.925" stop-color="#ff4f00"/><stop offset="0.955" stop-color="#fc0000"/><stop offset="0.98" stop-color="#fff0ec"/><stop offset="1" stop-color="#fff0ec"/></linearGradient><linearGradient id="c207" x1="0" y1="0" x2="0" y2="1"><stop offset="0" stop-color="#0000fe"/><stop offset="0.2" stop-color="#000eff"/><stop offset="0.38" stop-color="#002aff"/><stop offset="0.52" stop-color="#005aff"/><stop offset="0.63" stop-color="#00a4ff"/><stop offset="0.72" stop-color="#07fff8"/><stop offset="0.79" stop-color="#73ff8c"/><stop offset="0.845" stop-color="#deff21"/><stop offset="0.89" stop-color="#ffb700"/><stop offset="0.925" stop-color="#ff5a00"/><stop offset="0.955" stop-color="#fe0000"/><stop offset="0.98" stop-color="#fff0ec"/><stop offset="1" stop-color="#fff0ec"/></linearGradient><linearGradient id="c208" x1="0" y1="0" x2="0" y2="1"><stop offset="0" stop-color="#0000ee"/><stop offset="0.2" stop-color="#0000fb"/><stop offset="0.38" stop-color="#0019ff"/><stop offset="0.52" stop-color="#004fff"/><stop offset="0.63" stop-color="#009bff"/><stop offset="0.72" stop-color="#00f4ff"/><stop offset="0.79" stop-color="#4dffb2"/><stop offset="0.845" stop-color="#9cff63"/><stop offset="0.89" stop-color="#e4ff1b"/><stop offset="0.925" stop-color="#ffdd00"/><stop offset="0.955" stop-color="#ffa400"/><stop offset="0.98" stop-color="#ff7100"/><stop offset="1" stop-color="#ff4600"/></linearGradient><linearGradient id="c209" x1="0" y1="0" x2="0" y2="1"><stop offset="0" stop-color="#0000bc"/><stop offset="0.2" stop-color="#0000e1"/><stop offset="0.38" stop-color="#000bff"/><stop offset="0.52" stop-color="#004fff"/><stop offset="0.63" stop-color="#00a6ff"/><stop offset="0.72" stop-color="#0cfff3"/><stop offset="0.79" stop-color="#71ff8e"/><stop offset="0.845" stop-color="#d1ff2e"/><stop offset="0.89" stop-color="#ffd100"/><stop offset="0.925" stop-color="#ff7f00"/><stop offset="0.955" stop-color="#ff3100"/><stop offset="0.98" stop-color="#e70000"/><stop offset="1" stop-color="#fff0ec"/></linearGradient><linearGradient id="c210" x1="0" y1="0" x2="0" y2="1"><stop offset="0" stop-color="#0000e8"/><stop offset="0.2" stop-color="#0000f1"/><stop offset="0.38" stop-color="#0002ff"/><stop offset="0.52" stop-color="#0022ff"/><stop offset="0.63" stop-color="#0059ff"/><stop offset="0.72" stop-color="#00a8ff"/><stop offset="0.79" stop-color="#00feff"/><stop offset="0.845" stop-color="#52ffad"/><stop offset="0.89" stop-color="#a0ff5f"/><stop offset="0.925" stop-color="#e3ff1c"/><stop offset="0.955" stop-color="#ffdd00"/><stop offset="0.98" stop-color="#ffa500"/><stop offset="1" stop-color="#ff7500"/></linearGradient><linearGradient id="c211" x1="0" y1="0" x2="0" y2="1"><stop offset="0" stop-color="#0000e5"/><stop offset="0.2" stop-color="#0000ec"/><stop offset="0.38" stop-color="#0000fb"/><stop offset="0.52" stop-color="#0022ff"/><stop offset="0.63" stop-color="#0063ff"/><stop offset="0.72" stop-color="#00bcff"/><stop offset="0.79" stop-color="#1dffe2"/><stop offset="0.845" stop-color="#79ff86"/><stop offset="0.89" stop-color="#d1ff2e"/><stop offset="0.925" stop-color="#ffdf00"/><stop offset="0.955" stop-color="#ff9400"/><stop offset="0.98" stop-color="#ff4e00"/><stop offset="1" stop-color="#ff1000"/></linearGradient><linearGradient id="c212" x1="0" y1="0" x2="0" y2="1"><stop offset="0" stop-color="#000069"/><stop offset="0.2" stop-color="#000081"/><stop offset="0.38" stop-color="#0000b9"/><stop offset="0.52" stop-color="#0000f3"/><stop offset="0.63" stop-color="#002fff"/><stop offset="0.72" stop-color="#0081ff"/><stop offset="0.79" stop-color="#00dcff"/><stop offset="0.845" stop-color="#38ffc7"/><stop offset="0.89" stop-color="#93ff6c"/><stop offset="0.925" stop-color="#e6ff19"/><stop offset="0.955" stop-color="#ffc700"/><stop offset="0.98" stop-color="#ff7b00"/><stop offset="1" stop-color="#ff3800"/></linearGradient><linearGradient id="c213" x1="0" y1="0" x2="0" y2="1"><stop offset="0" stop-color="#0000fa"/><stop offset="0.2" stop-color="#0008ff"/><stop offset="0.38" stop-color="#0025ff"/><stop offset="0.52" stop-color="#0058ff"/><stop offset="0.63" stop-color="#00a1ff"/><stop offset="0.72" stop-color="#00f9ff"/><stop offset="0.79" stop-color="#53ffac"/><stop offset="0.845" stop-color="#a7ff58"/><stop offset="0.89" stop-color="#f6ff09"/><stop offset="0.925" stop-color="#ffc200"/><stop offset="0.955" stop-color="#ff7f00"/><stop offset="0.98" stop-color="#ff4100"/><stop offset="1" stop-color="#ff0b00"/></linearGradient><linearGradient id="c214" x1="0" y1="0" x2="0" y2="1"><stop offset="0" stop-color="#000aff"/><stop offset="0.2" stop-color="#0018ff"/><stop offset="0.38" stop-color="#0036ff"/><stop offset="0.52" stop-color="#006eff"/><stop offset="0.63" stop-color="#00beff"/><stop offset="0.72" stop-color="#1effe1"/><stop offset="0.79" stop-color="#7fff80"/><stop offset="0.845" stop-color="#dbff24"/><stop offset="0.89" stop-color="#ffcb00"/><stop offset="0.925" stop-color="#ff7c00"/><stop offset="0.955" stop-color="#ff3000"/><stop offset="0.98" stop-color="#e90000"/><stop offset="1" stop-color="#fff0ec"/></linearGradient><linearGradient id="c215" x1="0" y1="0" x2="0" y2="1"><stop offset="0" stop-color="#0000fc"/><stop offset="0.2" stop-color="#0007ff"/><stop offset="0.38" stop-color="#001aff"/><stop offset="0.52" stop-color="#003cff"/><stop offset="0.63" stop-color="#0079ff"/><stop offset="0.72" stop-color="#00d5ff"/><stop offset="0.79" stop-color="#42ffbd"/><stop offset="0.845" stop-color="#afff50"/><stop offset="0.89" stop-color="#ffe600"/><stop offset="0.925" stop-color="#ff8900"/><stop offset="0.955" stop-color="#ff3100"/><stop offset="0.98" stop-color="#e50000"/><stop offset="1" stop-color="#fff0ec"/></linearGradient><linearGradient id="c216" x1="0" y1="0" x2="0" y2="1"><stop offset="0" stop-color="#0000ed"/><stop offset="0.2" stop-color="#0000f6"/><stop offset="0.38" stop-color="#000bff"/><stop offset="0.52" stop-color="#0034ff"/><stop offset="0.63" stop-color="#0078ff"/><stop offset="0.72" stop-color="#00d2ff"/><stop offset="0.79" stop-color="#34ffcb"/><stop offset="0.845" stop-color="#92ff6d"/><stop offset="0.89" stop-color="#ecff13"/><stop offset="0.925" stop-color="#ffc200"/><stop offset="0.955" stop-color="#ff7500"/><stop offset="0.98" stop-color="#ff2d00"/><stop offset="1" stop-color="#ed0000"/></linearGradient><linearGradient id="c217" x1="0" y1="0" x2="0" y2="1"><stop offset="0" stop-color="#00009a"/><stop offset="0.2" stop-color="#0000a7"/><stop offset="0.38" stop-color="#0000c2"/><stop offset="0.52" stop-color="#0000e5"/><stop offset="0.63" stop-color="#0012ff"/><stop offset="0.72" stop-color="#005aff"/><stop offset="0.79" stop-color="#00b1ff"/><stop offset="0.845" stop-color="#0bfff4"/><stop offset="0.89" stop-color="#63ff9c"/><stop offset="0.925" stop-color="#b2ff4d"/><stop offset="0.955" stop-color="#ffff00"/><stop offset="0.98" stop-color="#ffb700"/><stop offset="1" stop-color="#ff7700"/></linearGradient><linearGradient id="c218" x1="0" y1="0" x2="0" y2="1"><stop offset="0" stop-color="#00007b"/><stop offset="0.2" stop-color="#000086"/><stop offset="0.38" stop-color="#000099"/><stop offset="0.52" stop-color="#0000c0"/><stop offset="0.63" stop-color="#0000ee"/><stop offset="0.72" stop-color="#002eff"/><stop offset="0.79" stop-color="#0088ff"/><stop offset="0.845" stop-color="#00efff"/><stop offset="0.89" stop-color="#58ffa7"/><stop offset="0.925" stop-color="#b4ff4b"/><stop offset="0.955" stop-color="#fff300"/><stop offset="0.98" stop-color="#ffa400"/><stop offset="1" stop-color="#ff6000"/></linearGradient><linearGradient id="c219" x1="0" y1="0" x2="0" y2="1"><stop offset="0" stop-color="#0000f3"/><stop offset="0.2" stop-color="#0000fb"/><stop offset="0.38" stop-color="#0008ff"/><stop offset="0.52" stop-color="#001dff"/><stop offset="0.63" stop-color="#0044ff"/><stop offset="0.72" stop-color="#008aff"/><stop offset="0.79" stop-color="#00eaff"/><stop offset="0.845" stop-color="#58ffa7"/><stop offset="0.89" stop-color="#c7ff38"/><stop offset="0.925" stop-color="#ffd100"/><stop offset="0.955" stop-color="#ff6f00"/><stop offset="0.98" stop-color="#ff1400"/><stop offset="1" stop-color="#e50000"/></linearGradient><linearGradient id="c220" x1="0" y1="0" x2="0" y2="1"><stop offset="0" stop-color="#0000f4"/><stop offset="0.2" stop-color="#0000fb"/><stop offset="0.38" stop-color="#0006ff"/><stop offset="0.52" stop-color="#0019ff"/><stop offset="0.63" stop-color="#003eff"/><stop offset="0.72" stop-color="#0080ff"/><stop offset="0.79" stop-color="#00d9ff"/><stop offset="0.845" stop-color="#3cffc3"/><stop offset="0.89" stop-color="#a3ff5c"/><stop offset="0.925" stop-color="#fffc00"/><stop offset="0.955" stop-color="#ff9d00"/><stop offset="0.98" stop-color="#ff4200"/><stop offset="1" stop-color="#ef0000"/></linearGradient><linearGradient id="c221" x1="0" y1="0" x2="0" y2="1"><stop offset="0" stop-color="#0000fc"/><stop offset="0.2" stop-color="#0004ff"/><stop offset="0.38" stop-color="#000fff"/><stop offset="0.52" stop-color="#0025ff"/><stop offset="0.63" stop-color="#0054ff"/><stop offset="0.72" stop-color="#00a1ff"/><stop offset="0.79" stop-color="#00fdff"/><stop offset="0.845" stop-color="#5bffa4"/><stop offset="0.89" stop-color="#b3ff4c"/><stop offset="0.925" stop-color="#fffe00"/><stop offset="0.955" stop-color="#ffb500"/><stop offset="0.98" stop-color="#ff7300"/><stop offset="1" stop-color="#ff3900"/></linearGradient><linearGradient id="c222" x1="0" y1="0" x2="0" y2="1"><stop offset="0" stop-color="#0002ff"/><stop offset="0.2" stop-color="#0008ff"/><stop offset="0.38" stop-color="#0010ff"/><stop offset="0.52" stop-color="#0020ff"/><stop offset="0.63" stop-color="#0044ff"/><stop offset="0.72" stop-color="#0087ff"/><stop offset="0.79" stop-color="#00e1ff"/><stop offset="0.845" stop-color="#44ffbb"/><stop offset="0.89" stop-color="#aaff55"/><stop offset="0.925" stop-color="#fff500"/><stop offset="0.955" stop-color="#ff9600"/><stop offset="0.98" stop-color="#ff3b00"/><stop offset="1" stop-color="#e60000"/></linearGradient><linearGradient id="c223" x1="0" y1="0" x2="0" y2="1"><stop offset="0" stop-color="#0000ed"/><stop offset="0.2" stop-color="#0000f3"/><stop offset="0.38" stop-color="#0000ff"/><stop offset="0.52" stop-color="#001eff"/><stop offset="0.63" stop-color="#0058ff"/><stop offset="0.72" stop-color="#00afff"/><stop offset="0.79" stop-color="#16ffe9"/><stop offset="0.845" stop-color="#80ff7f"/><stop offset="0.89" stop-color="#efff10"/><stop offset="0.925" stop-color="#ffa600"/><stop offset="0.955" stop-color="#ff3a00"/><stop offset="0.98" stop-color="#e50000"/><stop offset="1" stop-color="#fff0ec"/></linearGradient><linearGradient id="c224" x1="0" y1="0" x2="0" y2="1"><stop offset="0" stop-color="#000fff"/><stop offset="0.2" stop-color="#0018ff"/><stop offset="0.38" stop-color="#002aff"/><stop offset="0.52" stop-color="#004cff"/><stop offset="0.63" stop-color="#007fff"/><stop offset="0.72" stop-color="#00c3ff"/><stop offset="0.79" stop-color="#0dfff2"/><stop offset="0.845" stop-color="#59ffa6"/><stop offset="0.89" stop-color="#a6ff59"/><stop offset="0.925" stop-color="#efff10"/><stop offset="0.955" stop-color="#ffc500"/><stop offset="0.98" stop-color="#ff7e00"/><stop offset="1" stop-color="#ff3d00"/></linearGradient><linearGradient id="c225" x1="0" y1="0" x2="0" y2="1"><stop offset="0" stop-color="#0001ff"/><stop offset="0.2" stop-color="#0008ff"/><stop offset="0.38" stop-color="#0013ff"/><stop offset="0.52" stop-color="#0028ff"/><stop offset="0.63" stop-color="#004eff"/><stop offset="0.72" stop-color="#0081ff"/><stop offset="0.79" stop-color="#00b9ff"/><stop offset="0.845" stop-color="#00eeff"/><stop offset="0.89" stop-color="#22ffdd"/><stop offset="0.925" stop-color="#4fffb0"/><stop offset="0.955" stop-color="#7aff85"/><stop offset="0.98" stop-color="#a3ff5c"/><stop offset="1" stop-color="#c8ff37"/></linearGradient><linearGradient id="c226" x1="0" y1="0" x2="0" y2="1"><stop offset="0" stop-color="#0008ff"/><stop offset="0.2" stop-color="#000fff"/><stop offset="0.38" stop-color="#0015ff"/><stop offset="0.52" stop-color="#0020ff"/><stop offset="0.63" stop-color="#0036ff"/><stop offset="0.72" stop-color="#005aff"/><stop offset="0.79" stop-color="#0084ff"/><stop offset="0.845" stop-color="#00acff"/><stop offset="0.89" stop-color="#00d1ff"/><stop offset="0.925" stop-color="#00f1ff"/><stop offset="0.955" stop-color="#10ffef"/><stop offset="0.98" stop-color="#2cffd3"/><stop offset="1" stop-color="#45ffba"/></linearGradient><linearGradient id="c227" x1="0" y1="0" x2="0" y2="1"><stop offset="0" stop-color="#0000e5"/><stop offset="0.2" stop-color="#0000ea"/><stop offset="0.38" stop-color="#0000f3"/><stop offset="0.52" stop-color="#0007ff"/><stop offset="0.63" stop-color="#0025ff"/><stop offset="0.72" stop-color="#0049ff"/><stop offset="0.79" stop-color="#006bff"/><stop offset="0.845" stop-color="#0088ff"/><stop offset="0.89" stop-color="#00a3ff"/><stop offset="0.925" stop-color="#00bbff"/><stop offset="0.955" stop-color="#00d3ff"/><stop offset="0.98" stop-color="#00ecff"/><stop offset="1" stop-color="#05fffa"/></linearGradient><linearGradient id="c228" x1="0" y1="0" x2="0" y2="1"><stop offset="0" stop-color="#000004"/><stop offset="0.676" stop-color="#000004"/><stop offset="0.726" stop-color="#0019ff"/><stop offset="0.79" stop-color="#0042ff"/><stop offset="0.845" stop-color="#0077ff"/><stop offset="0.89" stop-color="#00acff"/><stop offset="0.925" stop-color="#00d9ff"/><stop offset="0.955" stop-color="#03fffc"/><stop offset="0.98" stop-color="#29ffd6"/><stop offset="1" stop-color="#4cffb3"/></linearGradient><linearGradient id="c229" x1="0" y1="0" x2="0" y2="1"><stop offset="0" stop-color="#0000f9"/><stop offset="0.2" stop-color="#0000fe"/><stop offset="0.38" stop-color="#0004ff"/><stop offset="0.52" stop-color="#000aff"/><stop offset="0.63" stop-color="#001aff"/><stop offset="0.72" stop-color="#003cff"/><stop offset="0.79" stop-color="#006cff"/><stop offset="0.845" stop-color="#00a1ff"/><stop offset="0.89" stop-color="#00d7ff"/><stop offset="0.925" stop-color="#0bfff4"/><stop offset="0.955" stop-color="#42ffbd"/><stop offset="0.98" stop-color="#7bff84"/><stop offset="1" stop-color="#b6ff49"/></linearGradient><linearGradient id="c230" x1="0" y1="0" x2="0" y2="1"><stop offset="0" stop-color="#0000c5"/><stop offset="0.2" stop-color="#0000d6"/><stop offset="0.38" stop-color="#0000d9"/><stop offset="0.52" stop-color="#0000e0"/><stop offset="0.63" stop-color="#0000f2"/><stop offset="0.72" stop-color="#0015ff"/><stop offset="0.79" stop-color="#0040ff"/><stop offset="0.845" stop-color="#006eff"/><stop offset="0.89" stop-color="#009fff"/><stop offset="0.925" stop-color="#00cfff"/><stop offset="0.955" stop-color="#03fffc"/><stop offset="0.98" stop-color="#39ffc6"/><stop offset="1" stop-color="#6eff91"/></linearGradient><linearGradient id="c231" x1="0" y1="0" x2="0" y2="1"><stop offset="0" stop-color="#0006ff"/><stop offset="0.2" stop-color="#0023ff"/><stop offset="0.38" stop-color="#0050ff"/><stop offset="0.52" stop-color="#0080ff"/><stop offset="0.63" stop-color="#00aeff"/><stop offset="0.72" stop-color="#00d7ff"/><stop offset="0.79" stop-color="#00fcff"/><stop offset="0.845" stop-color="#1dffe2"/><stop offset="0.89" stop-color="#3bffc4"/><stop offset="0.925" stop-color="#56ffa9"/><stop offset="0.955" stop-color="#70ff8f"/><stop offset="0.98" stop-color="#88ff77"/><stop offset="1" stop-color="#9dff62"/></linearGradient><linearGradient id="c232" x1="0" y1="0" x2="0" y2="1"><stop offset="0" stop-color="#00005b"/><stop offset="0.2" stop-color="#00007a"/><stop offset="0.38" stop-color="#0000c3"/><stop offset="0.52" stop-color="#0000f3"/><stop offset="0.63" stop-color="#001cff"/><stop offset="0.72" stop-color="#0049ff"/><stop offset="0.79" stop-color="#0078ff"/><stop offset="0.845" stop-color="#00a8ff"/><stop offset="0.89" stop-color="#00dbff"/><stop offset="0.925" stop-color="#0ffff0"/><stop offset="0.955" stop-color="#44ffbb"/><stop offset="0.98" stop-color="#79ff86"/><stop offset="1" stop-color="#abff54"/></linearGradient><linearGradient id="c233" x1="0" y1="0" x2="0" y2="1"><stop offset="0" stop-color="#000004"/><stop offset="0.557" stop-color="#000004"/><stop offset="0.607" stop-color="#003cff"/><stop offset="0.63" stop-color="#0047ff"/><stop offset="0.72" stop-color="#0078ff"/><stop offset="0.79" stop-color="#00acff"/><stop offset="0.845" stop-color="#00e0ff"/><stop offset="0.89" stop-color="#15ffea"/><stop offset="0.925" stop-color="#46ffb9"/><stop offset="0.955" stop-color="#78ff87"/><stop offset="0.98" stop-color="#aaff55"/><stop offset="1" stop-color="#d8ff27"/></linearGradient><linearGradient id="c234" x1="0" y1="0" x2="0" y2="1"><stop offset="0" stop-color="#000004"/><stop offset="0.553" stop-color="#000004"/><stop offset="0.603" stop-color="#007fff"/><stop offset="0.63" stop-color="#008bff"/><stop offset="0.72" stop-color="#00baff"/><stop offset="0.79" stop-color="#00e3ff"/><stop offset="0.845" stop-color="#08fff7"/><stop offset="0.89" stop-color="#2affd5"/><stop offset="0.925" stop-color="#47ffb8"/><stop offset="0.955" stop-color="#63ff9c"/><stop offset="0.98" stop-color="#7eff81"/><stop offset="1" stop-color="#96ff69"/></linearGradient><linearGradient id="c235" x1="0" y1="0" x2="0" y2="1"><stop offset="0" stop-color="#000057"/><stop offset="0.2" stop-color="#000072"/><stop offset="0.38" stop-color="#0000bf"/><stop offset="0.52" stop-color="#0000f8"/><stop offset="0.63" stop-color="#0029ff"/><stop offset="0.72" stop-color="#005eff"/><stop offset="0.79" stop-color="#0091ff"/><stop offset="0.845" stop-color="#00c4ff"/><stop offset="0.89" stop-color="#00f8ff"/><stop offset="0.925" stop-color="#2bffd4"/><stop offset="0.955" stop-color="#5fffa0"/><stop offset="0.98" stop-color="#93ff6c"/><stop offset="1" stop-color="#c4ff3b"/></linearGradient><linearGradient id="c236" x1="0" y1="0" x2="0" y2="1"><stop offset="0" stop-color="#0000f5"/><stop offset="0.2" stop-color="#0004ff"/><stop offset="0.38" stop-color="#0021ff"/><stop offset="0.52" stop-color="#004eff"/><stop offset="0.63" stop-color="#0080ff"/><stop offset="0.72" stop-color="#00b5ff"/><stop offset="0.79" stop-color="#00e5ff"/><stop offset="0.845" stop-color="#12ffed"/><stop offset="0.89" stop-color="#3dffc2"/><stop offset="0.925" stop-color="#64ff9b"/><stop offset="0.955" stop-color="#8cff73"/><stop offset="0.98" stop-color="#b2ff4d"/><stop offset="1" stop-color="#d5ff2a"/></linearGradient><linearGradient id="c237" x1="0" y1="0" x2="0" y2="1"><stop offset="0" stop-color="#0008ff"/><stop offset="0.2" stop-color="#0014ff"/><stop offset="0.38" stop-color="#002cff"/><stop offset="0.52" stop-color="#004eff"/><stop offset="0.63" stop-color="#0074ff"/><stop offset="0.72" stop-color="#009aff"/><stop offset="0.79" stop-color="#00bdff"/><stop offset="0.845" stop-color="#00ddff"/><stop offset="0.89" stop-color="#00feff"/><stop offset="0.925" stop-color="#1fffe0"/><stop offset="0.955" stop-color="#41ffbe"/><stop offset="0.98" stop-color="#64ff9b"/><stop offset="1" stop-color="#85ff7a"/></linearGradient><linearGradient id="c238" x1="0" y1="0" x2="0" y2="1"><stop offset="0" stop-color="#000051"/><stop offset="0.2" stop-color="#000064"/><stop offset="0.38" stop-color="#0000a5"/><stop offset="0.52" stop-color="#0000ef"/><stop offset="0.63" stop-color="#0023ff"/><stop offset="0.72" stop-color="#005bff"/><stop offset="0.79" stop-color="#0091ff"/><stop offset="0.845" stop-color="#00c4ff"/><stop offset="0.89" stop-color="#00f7ff"/><stop offset="0.925" stop-color="#29ffd6"/><stop offset="0.955" stop-color="#5bffa4"/><stop offset="0.98" stop-color="#8eff71"/><stop offset="1" stop-color="#bdff42"/></linearGradient><linearGradient id="c239" x1="0" y1="0" x2="0" y2="1"><stop offset="0" stop-color="#000004"/><stop offset="0.571" stop-color="#000004"/><stop offset="0.621" stop-color="#004fff"/><stop offset="0.63" stop-color="#0054ff"/><stop offset="0.72" stop-color="#008dff"/><stop offset="0.79" stop-color="#00c3ff"/><stop offset="0.845" stop-color="#00f0ff"/><stop offset="0.89" stop-color="#18ffe7"/><stop offset="0.925" stop-color="#37ffc8"/><stop offset="0.955" stop-color="#54ffab"/><stop offset="0.98" stop-color="#6dff92"/><stop offset="1" stop-color="#83ff7c"/></linearGradient><linearGradient id="c240" x1="0" y1="0" x2="0" y2="1"><stop offset="0" stop-color="#000004"/><stop offset="0.567" stop-color="#000004"/><stop offset="0.617" stop-color="#0074ff"/><stop offset="0.63" stop-color="#007cff"/><stop offset="0.72" stop-color="#00baff"/><stop offset="0.79" stop-color="#00f3ff"/><stop offset="0.845" stop-color="#28ffd7"/><stop offset="0.89" stop-color="#57ffa8"/><stop offset="0.925" stop-color="#80ff7f"/><stop offset="0.955" stop-color="#a8ff57"/><stop offset="0.98" stop-color="#ceff31"/><stop offset="1" stop-color="#f1ff0e"/></linearGradient><linearGradient id="c241" x1="0" y1="0" x2="0" y2="1"><stop offset="0" stop-color="#00005f"/><stop offset="0.2" stop-color="#00006e"/><stop offset="0.38" stop-color="#0000a6"/><stop offset="0.52" stop-color="#0000f0"/><stop offset="0.63" stop-color="#002fff"/><stop offset="0.72" stop-color="#007bff"/><stop offset="0.79" stop-color="#00cbff"/><stop offset="0.845" stop-color="#1bffe4"/><stop offset="0.89" stop-color="#6cff93"/><stop offset="0.925" stop-color="#baff45"/><stop offset="0.955" stop-color="#fff500"/><stop offset="0.98" stop-color="#ffa600"/><stop offset="1" stop-color="#ff5d00"/></linearGradient><linearGradient id="c242" x1="0" y1="0" x2="0" y2="1"><stop offset="0" stop-color="#0000d7"/><stop offset="0.2" stop-color="#0000de"/><stop offset="0.38" stop-color="#0000ee"/><stop offset="0.52" stop-color="#000bff"/><stop offset="0.63" stop-color="#002fff"/><stop offset="0.72" stop-color="#005cff"/><stop offset="0.79" stop-color="#008fff"/><stop offset="0.845" stop-color="#00c8ff"/><stop offset="0.89" stop-color="#09fff6"/><stop offset="0.925" stop-color="#4bffb4"/><stop offset="0.955" stop-color="#94ff6b"/><stop offset="0.98" stop-color="#dfff20"/><stop offset="1" stop-color="#ffd700"/></linearGradient><linearGradient id="c243" x1="0" y1="0" x2="0" y2="1"><stop offset="0" stop-color="#00009c"/><stop offset="0.2" stop-color="#0000a9"/><stop offset="0.38" stop-color="#0000d4"/><stop offset="0.52" stop-color="#0000ec"/><stop offset="0.63" stop-color="#0017ff"/><stop offset="0.72" stop-color="#0052ff"/><stop offset="0.79" stop-color="#0098ff"/><stop offset="0.845" stop-color="#00e5ff"/><stop offset="0.89" stop-color="#3affc5"/><stop offset="0.925" stop-color="#8eff71"/><stop offset="0.955" stop-color="#e6ff19"/><stop offset="0.98" stop-color="#ffbf00"/><stop offset="1" stop-color="#ff6c00"/></linearGradient><linearGradient id="c244" x1="0" y1="0" x2="0" y2="1"><stop offset="0" stop-color="#0000df"/><stop offset="0.2" stop-color="#0000e7"/><stop offset="0.38" stop-color="#0000fe"/><stop offset="0.52" stop-color="#002bff"/><stop offset="0.63" stop-color="#0065ff"/><stop offset="0.72" stop-color="#00a4ff"/><stop offset="0.79" stop-color="#00e0ff"/><stop offset="0.845" stop-color="#18ffe7"/><stop offset="0.89" stop-color="#4dffb2"/><stop offset="0.925" stop-color="#7fff80"/><stop offset="0.955" stop-color="#b0ff4f"/><stop offset="0.98" stop-color="#e2ff1d"/><stop offset="1" stop-color="#ffee00"/></linearGradient><linearGradient id="c245" x1="0" y1="0" x2="0" y2="1"><stop offset="0" stop-color="#0000e2"/><stop offset="0.2" stop-color="#0000e6"/><stop offset="0.38" stop-color="#0000ee"/><stop offset="0.52" stop-color="#0003ff"/><stop offset="0.63" stop-color="#002bff"/><stop offset="0.72" stop-color="#0066ff"/><stop offset="0.79" stop-color="#00a5ff"/><stop offset="0.845" stop-color="#00e3ff"/><stop offset="0.89" stop-color="#20ffdf"/><stop offset="0.925" stop-color="#56ffa9"/><stop offset="0.955" stop-color="#8dff72"/><stop offset="0.98" stop-color="#c2ff3d"/><stop offset="1" stop-color="#f4ff0b"/></linearGradient><linearGradient id="c246" x1="0" y1="0" x2="0" y2="1"><stop offset="0" stop-color="#0000ee"/><stop offset="0.2" stop-color="#0000f3"/><stop offset="0.38" stop-color="#0000fa"/><stop offset="0.52" stop-color="#0008ff"/><stop offset="0.63" stop-color="#0025ff"/><stop offset="0.72" stop-color="#0054ff"/><stop offset="0.79" stop-color="#008dff"/><stop offset="0.845" stop-color="#00c9ff"/><stop offset="0.89" stop-color="#08fff7"/><stop offset="0.925" stop-color="#43ffbc"/><stop offset="0.955" stop-color="#80ff7f"/><stop offset="0.98" stop-color="#bdff42"/><stop offset="1" stop-color="#f6ff09"/></linearGradient><linearGradient id="c247" x1="0" y1="0" x2="0" y2="1"><stop offset="0" stop-color="#0000ff"/><stop offset="0.2" stop-color="#000cff"/><stop offset="0.38" stop-color="#0028ff"/><stop offset="0.52" stop-color="#0055ff"/><stop offset="0.63" stop-color="#008aff"/><stop offset="0.72" stop-color="#00bfff"/><stop offset="0.79" stop-color="#00ecff"/><stop offset="0.845" stop-color="#13ffec"/><stop offset="0.89" stop-color="#35ffca"/><stop offset="0.925" stop-color="#52ffad"/><stop offset="0.955" stop-color="#6eff91"/><stop offset="0.98" stop-color="#89ff76"/><stop offset="1" stop-color="#a1ff5e"/></linearGradient><linearGradient id="c248" x1="0" y1="0" x2="0" y2="1"><stop offset="0" stop-color="#0000f7"/><stop offset="0.2" stop-color="#0002ff"/><stop offset="0.38" stop-color="#0016ff"/><stop offset="0.52" stop-color="#0038ff"/><stop offset="0.63" stop-color="#0062ff"/><stop offset="0.72" stop-color="#008fff"/><stop offset="0.79" stop-color="#00b8ff"/><stop offset="0.845" stop-color="#00ddff"/><stop offset="0.89" stop-color="#00ffff"/><stop offset="0.925" stop-color="#1effe1"/><stop offset="0.955" stop-color="#3bffc4"/><stop offset="0.98" stop-color="#57ffa8"/><stop offset="1" stop-color="#6fff90"/></linearGradient><clipPath id="cpb"><rect x="20.6" y="152" width="199.8" height="129"/></clipPath><clipPath id="landb"><polygon points="8,181 14.4,183.4 17.6,183.5 20,183.2 22.4,183.9 24,186.8 26.4,189.3 28.8,191 32,191 35.2,191.8 37.3,193.4 38.4,195.9 40,197.8 39.2,200.8 42.4,201.7 44,201.7 46.4,202.4 48.8,204.3 50.4,204.7 52.8,205.3 56,205.3 58.4,206.8 60.8,208.6 63.5,209.2 64.3,212.2 64.2,214 63.2,216.3 60.8,218.8 58.4,222.1 57.6,225.5 57.6,229.7 56.5,233.2 55.5,234.6 54.4,237.5 52.8,239.3 50.9,239.3 48.5,239.8 45.9,241.1 43.2,243.4 42.2,245.6 42.2,248.9 40.3,251.1 38.4,253.9 36.5,256.2 34.4,259.7 32.2,261.5 30.1,261.5 27.5,260.5 26.6,259.7 28.5,262.7 29.3,264.7 28,267.8 25.6,269.3 21.6,269.9 20.5,270.9 20.3,274.1 18.4,274.6 16,274.1 16,278.5 17.6,277.4 15.5,283.1 12.8,285.4 8,285.4 8,295.1 0,295.1 0,181"/><polygon points="104.3,147.6 104,151.3 101.6,153.2 99.2,153.7 96.8,156.8 94.4,160.4 92.8,164.9 93.9,169.2 93.6,174.3 92,176.5 93.3,180.2 96,182.7 98.1,185.2 99.2,187.2 101.6,189.6 105.6,192.6 108,193.6 112,192.4 115.2,192.4 116.8,192.9 120,191.4 121.9,190.8 125.4,190.3 128,191.3 129.6,193.7 132,193.4 133.6,193.2 135.2,194.6 135.7,196.7 135.2,199.1 134.9,200.8 134.1,201.9 135.2,204 137.6,207.3 139.2,209.7 139.7,210.7 141.1,215.2 142.1,218.3 141.4,221.3 139.7,223.8 138.9,228 138.9,230.6 140.5,232.3 143.2,238.4 144,242.9 144.3,246.5 146.4,249.4 147.7,253 149.1,255.9 149.4,259.5 150.4,260.5 152,261.3 155.2,259.9 157.6,259.7 161.1,259.7 163.2,258.8 164.8,257.4 168,253.9 169.6,251.9 171.7,249.6 172.6,245.6 172.2,244.5 173.6,242.9 176.5,241.1 176.8,237.5 175.7,234 178.4,231.4 180.8,229.2 184,227.2 185.1,224.6 184.8,221.3 184.6,218 183.5,215.5 182.9,212.2 182.1,210.5 182.7,208.4 184.3,204.8 186.4,203.2 188.8,199.9 191.2,198.3 193.6,196.7 196.8,193.4 199.2,189.3 200.8,186 201.9,183.5 202.1,181.4 200,181.7 196.8,182.4 193.6,183.2 191.2,183.7 189.3,181.9 188.8,179.9 187.2,177.7 184.8,176 183.2,174.3 182.1,170.9 179.7,166.6 179.2,164 177.1,160.4 175.2,155.9 173.6,153.2 172,149.6 172,147.6 175.8,147.6 175.8,150.4"/><polygon points="175.8,147.6 175.8,150.4 176,153.2 179.2,157.7 181.6,161.3 182.7,164.9 184.8,168.3 187.2,172.6 188.5,176 189.3,179.4 189.6,179.9 192,179.7 195.2,178.5 198.4,176.9 203.2,174.3 206.4,172.6 208.5,171.8 210.4,170.1 212.3,168.3 214.1,165.7 215.7,163.1 213.6,161 211.2,159.5 210.2,156.3 209.6,156.8 208,158.1 204.8,160.1 202.6,159.9 202.4,157.2 201.3,157.7 200.3,155.9 198.4,153.5 196.8,150.4 197.6,148.5 200,149.4 201.6,153.2 204.8,155.4 208,155 210.4,154.6 212,157.4 216,158.1 220.5,158.3 225.6,157.9 225.6,147.6"/><polygon points="198.9,220.5 200.3,225.5 200.8,226.3 199.7,228.9 199,230.6 198.1,234.9 196.8,238.4 195.5,242.7 192.8,243.9 190.4,242.9 189.3,238.4 189.6,236.6 190.9,234 190.7,229.7 191.2,227.5 194.4,226.3 196.5,224.6 198.1,222.1"/></clipPath><clipPath id="cpc"><rect x="263" y="152" width="201.5" height="129"/></clipPath><clipPath id="landc"><polygon points="251.5,181 257.9,183.4 261.1,183.5 263.5,183.2 265.9,183.9 267.5,186.8 269.9,189.3 272.3,191 275.5,191 278.7,191.8 280.8,193.4 281.9,195.9 283.6,197.8 282.7,200.8 286,201.7 287.6,201.7 290,202.4 292.4,204.3 294,204.7 296.4,205.3 299.6,205.3 302,206.8 304.4,208.6 307.1,209.2 307.9,212.2 307.8,214 306.8,216.3 304.4,218.8 302,222.1 301.2,225.5 301.2,229.7 300.1,233.2 299.1,234.6 298,237.5 296.4,239.3 294.5,239.3 292.1,239.8 289.5,241.1 286.8,243.4 285.8,245.6 285.8,248.9 283.9,251.1 281.9,253.9 280,256.2 277.9,259.7 275.7,261.5 273.6,261.5 271,260.5 270.1,259.7 272,262.7 272.8,264.7 271.5,267.8 269.1,269.3 265.1,269.9 264,270.9 263.8,274.1 261.9,274.6 259.5,274.1 259.5,278.5 261.1,277.4 259,283.1 256.3,285.4 251.5,285.4 251.5,295.1 243.4,295.1 243.4,181"/><polygon points="348,147.6 347.7,151.3 345.3,153.2 342.9,153.7 340.5,156.8 338.1,160.4 336.5,164.9 337.6,169.2 337.3,174.3 335.7,176.5 337,180.2 339.7,182.7 341.8,185.2 342.9,187.2 345.3,189.6 349.3,192.6 351.7,193.6 355.7,192.4 358.9,192.4 360.5,192.9 363.8,191.4 365.7,190.8 369.2,190.3 371.8,191.3 373.4,193.7 375.8,193.4 377.4,193.2 379,194.6 379.5,196.7 379,199.1 378.7,200.8 377.9,201.9 379,204 381.4,207.3 383,209.7 383.5,210.7 384.9,215.2 385.9,218.3 385.2,221.3 383.5,223.8 382.7,228 382.7,230.6 384.3,232.3 387,238.4 387.8,242.9 388.1,246.5 390.2,249.4 391.5,253 392.9,255.9 393.3,259.5 394.2,260.5 395.8,261.3 399,259.9 401.4,259.7 405,259.7 407.1,258.8 408.7,257.4 411.9,253.9 413.5,251.9 415.6,249.6 416.5,245.6 416,244.5 417.5,242.9 420.4,241.1 420.7,237.5 419.6,234 422.3,231.4 424.7,229.2 427.9,227.2 429,224.6 428.7,221.3 428.6,218 427.4,215.5 426.8,212.2 426,210.5 426.6,208.4 428.2,204.8 430.3,203.2 432.7,199.9 435.1,198.3 437.5,196.7 440.7,193.4 443.1,189.3 444.8,186 445.9,183.5 446,181.4 443.9,181.7 440.7,182.4 437.5,183.2 435.1,183.7 433.2,181.9 432.7,179.9 431.1,177.7 428.7,176 427.1,174.3 426,170.9 423.6,166.6 423.1,164 421,160.4 419.1,155.9 417.5,153.2 415.9,149.6 415.9,147.6 419.7,147.6 419.7,150.4"/><polygon points="419.7,147.6 419.7,150.4 419.9,153.2 423.1,157.7 425.5,161.3 426.6,164.9 428.7,168.3 431.1,172.6 432.4,176 433.2,179.4 433.5,179.9 435.9,179.7 439.1,178.5 442.3,176.9 447.2,174.3 450.4,172.6 452.5,171.8 454.4,170.1 456.3,168.3 458.1,165.7 459.7,163.1 457.6,161 455.2,159.5 454.2,156.3 453.6,156.8 452,158.1 448.8,160.1 446.5,159.9 446.4,157.2 445.2,157.7 444.3,155.9 442.3,153.5 440.7,150.4 441.5,148.5 443.9,149.4 445.6,153.2 448.8,155.4 452,155 454.4,154.6 456,157.4 460,158.1 464.5,158.3 469.6,157.9 469.6,147.6"/><polygon points="442.8,220.5 444.3,225.5 444.8,226.3 443.6,228.9 443,230.6 442,234.9 440.7,238.4 439.5,242.7 436.7,243.9 434.3,242.9 433.2,238.4 433.5,236.6 434.8,234 434.6,229.7 435.1,227.5 438.3,226.3 440.4,224.6 442,222.1"/></clipPath></defs><rect width="500" height="301" fill="#fff"/><path d="M33 108.4L82.3 60M82.3 60L463.5 81M33 99.6L82.3 51.2M82.3 51.2L463.5 72.2M33 90.9L82.3 42.5M82.3 42.5L463.5 63.5M33 82.1L82.3 33.7M82.3 33.7L463.5 54.7M33 73.3L82.3 24.9M82.3 24.9L463.5 45.9M33 64.6L82.3 16.2M82.3 16.2L463.5 37.2M33 55.8L82.3 7.4M82.3 7.4L463.5 28.4M33.8 107.6L33.8 55M37.8 103.6L37.8 51M41.9 99.7L41.9 47.1M45.9 95.7L45.9 43.1M50 91.7L50 39.1M54 87.8L54 35.2M58.1 83.8L58.1 31.2M62.1 79.8L62.1 27.2M66.1 75.9L66.1 23.2M70.2 71.9L70.2 19.3M74.2 67.9L74.2 15.3M78.3 64L78.3 11.3M82.3 60L82.3 7.4M82.3 60L82.3 7.4M98.2 60.9L98.2 8.3M114.1 61.8L114.1 9.1M129.9 62.6L129.9 10M145.8 63.5L145.8 10.9M161.7 64.4L161.7 11.8M177.6 65.2L177.6 12.6M193.5 66.1L193.5 13.5M209.4 67L209.4 14.4M225.2 67.9L225.2 15.3M241.1 68.8L241.1 16.1M257 69.6L257 17M272.9 70.5L272.9 17.9M288.8 71.4L288.8 18.8M304.7 72.2L304.7 19.6M320.6 73.1L320.6 20.5M336.4 74L336.4 21.4M352.3 74.9L352.3 22.3M368.2 75.8L368.2 23.1M384.1 76.6L384.1 24M400 77.5L400 24.9M415.9 78.4L415.9 25.8M431.7 79.2L431.7 26.6M447.6 80.1L447.6 27.5M463.5 81L463.5 28.4" stroke="#e9e9e9" stroke-width="0.6" fill="none"/>
<g clip-path="url(#cpA)">
<rect x="25" y="55" width="450" height="80" fill="url(#ocA)"/>
<ellipse cx="100" cy="84" rx="60" ry="5" fill="#24708a" opacity="0.7" filter="url(#bl2)"/>
<ellipse cx="110" cy="97" rx="45" ry="4" fill="#206a84" opacity="0.6" filter="url(#bl2)"/>
<ellipse cx="150" cy="92" rx="14" ry="3" fill="#0f4058" opacity="0.5" filter="url(#bl2)"/>
<ellipse cx="290" cy="121" rx="40" ry="3" fill="#206a82" opacity="0.7" filter="url(#bl2)"/>
<ellipse cx="282" cy="95" rx="6" ry="10" fill="#206a82" opacity="0.6" filter="url(#bl2)"/>
<ellipse cx="350" cy="120" rx="40" ry="3" fill="#1e6882" opacity="0.6" filter="url(#bl2)"/>
<ellipse cx="400" cy="100" rx="14" ry="8" fill="#227088" opacity="0.6" filter="url(#bl2)"/>
<ellipse cx="430" cy="90" rx="25" ry="4" fill="#1e6882" opacity="0.5" filter="url(#bl2)"/>
<ellipse cx="200" cy="112" rx="50" ry="4" fill="#0e3c54" opacity="0.6" filter="url(#bl2)"/>
<ellipse cx="240" cy="80" rx="40" ry="6" fill="#14506a" opacity="0.5" filter="url(#bl2)"/>
<ellipse cx="160" cy="110" rx="40" ry="3" fill="#0f4058" opacity="0.6" filter="url(#bl2)"/>
<ellipse cx="445" cy="84" rx="18" ry="2.5" fill="#226e86" opacity="0.6" filter="url(#bl2)"/>
<g filter="url(#bl1)" opacity="0.55"><polygon points="76.3,65.9 80,67.3 84,68.4 90,70 98,73 105,76.3 115,78.2 125,80.2 135,82.3 140.3,84.1 141,85 135,86.7 125,88.7 120,90.6 115,93.2 110,94.8 105,96 98,96.6 90,97.2 80,98.4 75,99.8 70,101 63,102.4 56,103.6 49,104.8 42,106 36,107.2 31,108.6 28,108 72,64" fill="none" stroke="#2e829a" stroke-width="3"/><polygon points="250.6,60 248.3,61.6 242.8,62.1 237.8,62.1 231.6,63.2 225.3,64.5 220.1,66.3 220.3,68.4 217.3,70.8 213.1,71.7 213.8,73.5 218,75 221,76.5 222.2,77.5 225.8,79 232.3,80.9 236.6,81.6 245.1,81.5 251.5,81.8 254.4,82.3 261.5,81.9 265.6,81.8 272.9,81.9 277.5,82.7 279.5,84.1 284.4,84.2 287.6,84.3 290.2,85.1 290.1,86.2 288,87.3 286.5,88.1 284.4,88.5 285.6,89.7 288.7,91.6 290.7,92.9 291.2,93.5 291.9,95.8 292.3,97.4 289.6,98.8 284.9,99.8 281.4,101.7 280.2,102.9 282.5,103.8 285.2,106.9 284.8,109 283.8,110.6 286.7,112.2 287.7,113.8 289.4,115.2 288.5,116.7 290.1,117.2 292.9,117.7 299.9,117.5 304.7,117.7 311.7,118.1 316.3,117.9 320,117.5 327.8,116.5 331.9,115.8 336.9,115 340.6,113.4 340.1,112.9 343.7,112.3 350.2,111.8 352.4,110.3 351.8,108.5 358.4,107.6 364.2,106.9 371.5,106.3 374.9,105.2 375.9,103.6 377.1,101.9 376.1,100.6 376.4,98.9 375.6,98.1 377.9,97.1 382.8,95.5 387.7,94.9 394.1,93.6 399.7,93.1 405.2,92.5 413.2,91.3 419.9,89.6 424.6,88.1 428.1,87.1 429.4,86 425.1,86 418.4,85.9 411.7,86 406.7,86 403.7,84.9 403.7,83.9 401.6,82.6 397.6,81.6 395.2,80.6 394.6,78.9 391.8,76.6 392,75.4 389.5,73.6 387.6,71.3 385.7,70 384,68.3 384.9,67.4 392.5,67.8 391.3,69" fill="none" stroke="#2e829a" stroke-width="3"/><polygon points="392.5,67.8 391.3,69 390.4,70.2 394.8,72.6 398,74.4 398.6,76.2 401.2,78 403.9,80.2 404.9,82 404.9,83.7 405.3,83.9 410.2,84.1 417.1,83.9 424.2,83.5 434.9,82.8 442.1,82.3 446.6,82.2 451.2,81.6 455.8,81 460.5,80 464.8,79 461.6,77.8 457.5,76.9 457,75.3 455.5,75.5 451.8,75.9 444.6,76.4 440.2,76.1 441.1,74.9 438.6,75 437.5,74.1 434.7,72.8 432.9,71.3 435.3,70.6 439.6,71.3 441.2,73 446.6,74.3 453.1,74.5 458.1,74.6 460,76 467.7,76.8 476.5,77.3 486.8,77.7 491.2,73.2" fill="none" stroke="#2e829a" stroke-width="3"/><polygon points="404.3,104.7 404.8,107.3 405.3,107.7 401.9,108.8 399.9,109.5 396,111.4 391.8,112.9 387.4,114.6 381.4,114.9 377.1,114.2 376.9,112 378.3,111.3 382,110.2 383.7,108.2 385.7,107.2 392.6,107 397.5,106.4 401.9,105.4" fill="none" stroke="#2e829a" stroke-width="3"/></g>
<g clip-path="url(#landA)">
<rect x="25" y="55" width="450" height="80" fill="#566a34"/>
<polygon points="203.4,73 464,87.4 471.4,79.7 211,65.4" fill="#d2ac74" opacity="1" filter="url(#bl1)"/>
<polygon points="200.6,75.8 461.2,90.2 464.3,87 203.8,72.6" fill="#a89656" opacity="1" filter="url(#bl1)"/>
<polygon points="198.6,77.7 459.2,92.2 461.6,89.8 201,75.4" fill="#6c7638" opacity="1" filter="url(#bl1)"/>
<polygon points="184.5,91.7 353.2,101 367.4,86.7 199,77.3" fill="#41642a" opacity="1" filter="url(#bl1)"/>
<polygon points="279.2,91 349.2,94.9 355.5,88.5 285.6,84.7" fill="#365a26" opacity="0.8" filter="url(#bl1)"/>
<polygon points="354.8,99.4 447,104.6 462,89.4 369.8,84.3" fill="#a48e58" opacity="1" filter="url(#bl1)"/>
<polygon points="386.5,91.1 456.5,95 465.1,86.2 395.2,82.3" fill="#cfaa70" opacity="1" filter="url(#bl1)"/>
<polygon points="258.5,101.7 376.3,108.2 381.8,102.6 264.1,96.1" fill="#706c32" opacity="1" filter="url(#bl1)"/>
<polygon points="244.2,116 362.1,122.6 376.3,108.2 258.5,101.7" fill="#b08c54" opacity="1" filter="url(#bl1)"/>
<polygon points="264.9,112.1 285.6,113.3 297.5,101.3 276.8,100.2" fill="#c49c62" opacity="0.9" filter="url(#bl1)"/>
<polygon points="292.7,111.1 318.2,112.6 324.6,106.2 299.1,104.8" fill="#bc965e" opacity="0.7" filter="url(#bl1)"/>
<polygon points="314.3,119.9 343,121.5 351.7,112.7 323,111.1" fill="#7c7840" opacity="0.9" filter="url(#bl1)"/>
<polygon points="346.1,108.2 374.7,109.8 383.4,101 354.8,99.4" fill="#78723a" opacity="0.9" filter="url(#bl1)"/>
<polygon points="369.2,115.4 401,117.2 413.6,104.4 381.8,102.6" fill="#8e884c" opacity="1" filter="url(#bl1)"/>
<polygon points="387.5,110.5 406.6,111.6 412.1,106 393,104.9" fill="#5c6e36" opacity="0.8" filter="url(#bl1)"/>
<rect x="25" y="55" width="115" height="60" fill="#4a6430"/>
<ellipse cx="66" cy="84" rx="20" ry="12" fill="#3d5c2c" filter="url(#bl2)"/>
<ellipse cx="116" cy="85.5" rx="20" ry="4.5" fill="#807838" filter="url(#bl2)" opacity="0.95"/>
<ellipse cx="84" cy="87" rx="16" ry="4.5" fill="#6c6a32" filter="url(#bl2)" opacity="0.85"/>
<ellipse cx="72" cy="76" rx="10" ry="6" fill="#2f5526" filter="url(#bl2)" opacity="0.95"/>
<ellipse cx="96" cy="80" rx="10" ry="3" fill="#5c6c34" filter="url(#bl1)" opacity="0.8"/>
<ellipse cx="60" cy="101.5" rx="22" ry="3.5" fill="#6a7038" filter="url(#bl2)" opacity="0.85"/>
<ellipse cx="88" cy="93.5" rx="12" ry="2.5" fill="#385828" filter="url(#bl1)" opacity="0.8"/>
<ellipse cx="80" cy="71" rx="7" ry="2.5" fill="#4e6a30" filter="url(#bl1)" opacity="0.8"/>
<g filter="url(#bl05)"><ellipse cx="227.3" cy="98.9" rx="6.6" ry="1.2" fill="#1c2c10" opacity="0.19"/><ellipse cx="113.5" cy="95.8" rx="5.1" ry="1.6" fill="#1c2c10" opacity="0.15"/><ellipse cx="73.5" cy="115.4" rx="5.5" ry="0.7" fill="#e8d090" opacity="0.13"/><ellipse cx="312.9" cy="102.6" rx="2.8" ry="0.6" fill="#1c2c10" opacity="0.11"/><ellipse cx="115.8" cy="78" rx="2.2" ry="1.2" fill="#1c2c10" opacity="0.23"/><ellipse cx="255.6" cy="104.3" rx="4.5" ry="1.4" fill="#1c2c10" opacity="0.14"/><ellipse cx="459" cy="127.7" rx="6.2" ry="1.4" fill="#1c2c10" opacity="0.14"/><ellipse cx="157.8" cy="66.6" rx="5.8" ry="1.1" fill="#e8d090" opacity="0.08"/><ellipse cx="442.2" cy="117.9" rx="2" ry="0.9" fill="#e8d090" opacity="0.09"/><ellipse cx="451.7" cy="88.2" rx="2.4" ry="1.4" fill="#e8d090" opacity="0.07"/><ellipse cx="72" cy="84" rx="6.8" ry="1.5" fill="#1c2c10" opacity="0.14"/><ellipse cx="77.9" cy="66" rx="6" ry="0.8" fill="#e8d090" opacity="0.09"/><ellipse cx="116" cy="110.3" rx="2.7" ry="1.4" fill="#1c2c10" opacity="0.17"/><ellipse cx="125.5" cy="79.8" rx="6.9" ry="1.6" fill="#1c2c10" opacity="0.24"/><ellipse cx="124.6" cy="88" rx="6.3" ry="1.4" fill="#1c2c10" opacity="0.26"/><ellipse cx="125.6" cy="79" rx="5.9" ry="1" fill="#1c2c10" opacity="0.11"/><ellipse cx="73.3" cy="100.5" rx="3.2" ry="1.3" fill="#1c2c10" opacity="0.17"/><ellipse cx="442.6" cy="93.9" rx="4.9" ry="1.6" fill="#1c2c10" opacity="0.12"/><ellipse cx="421.1" cy="116" rx="3.2" ry="0.8" fill="#e8d090" opacity="0.13"/><ellipse cx="118.6" cy="124.7" rx="6.4" ry="1.3" fill="#1c2c10" opacity="0.12"/><ellipse cx="51.4" cy="125.5" rx="3.2" ry="1.4" fill="#1c2c10" opacity="0.23"/><ellipse cx="288.5" cy="81.4" rx="2.9" ry="1.5" fill="#1c2c10" opacity="0.14"/><ellipse cx="272.7" cy="118.3" rx="5.1" ry="0.9" fill="#e8d090" opacity="0.07"/><ellipse cx="42" cy="79.8" rx="4.2" ry="0.7" fill="#1c2c10" opacity="0.16"/><ellipse cx="278.2" cy="70.7" rx="3.8" ry="1.7" fill="#e8d090" opacity="0.10"/><ellipse cx="328.8" cy="100.6" rx="2.7" ry="0.6" fill="#1c2c10" opacity="0.25"/><ellipse cx="332.9" cy="125.5" rx="2.1" ry="1.4" fill="#1c2c10" opacity="0.22"/><ellipse cx="170.5" cy="128" rx="2.4" ry="1.3" fill="#e8d090" opacity="0.12"/><ellipse cx="348.3" cy="108.4" rx="6" ry="1.7" fill="#1c2c10" opacity="0.21"/><ellipse cx="417.9" cy="119.5" rx="4.1" ry="1.5" fill="#e8d090" opacity="0.10"/><ellipse cx="300.6" cy="87.2" rx="4.9" ry="1.3" fill="#1c2c10" opacity="0.20"/><ellipse cx="457.2" cy="120.1" rx="5.6" ry="1.1" fill="#e8d090" opacity="0.10"/><ellipse cx="222.2" cy="117.3" rx="2.4" ry="1.5" fill="#1c2c10" opacity="0.20"/><ellipse cx="239.4" cy="77.2" rx="5.5" ry="1.2" fill="#e8d090" opacity="0.12"/><ellipse cx="143.7" cy="62.7" rx="3.5" ry="1.4" fill="#1c2c10" opacity="0.13"/><ellipse cx="419.9" cy="105.6" rx="4.2" ry="1.7" fill="#1c2c10" opacity="0.21"/><ellipse cx="119.4" cy="90.4" rx="6" ry="1.7" fill="#e8d090" opacity="0.08"/><ellipse cx="282.8" cy="82.9" rx="2.7" ry="1.2" fill="#e8d090" opacity="0.12"/><ellipse cx="337.3" cy="124.7" rx="3.4" ry="0.8" fill="#1c2c10" opacity="0.14"/><ellipse cx="126" cy="89.3" rx="5.1" ry="1.2" fill="#1c2c10" opacity="0.23"/><ellipse cx="452.4" cy="91.9" rx="2.4" ry="0.6" fill="#e8d090" opacity="0.05"/><ellipse cx="336.2" cy="99.7" rx="3.5" ry="1.5" fill="#1c2c10" opacity="0.12"/><ellipse cx="228.3" cy="63.6" rx="6.1" ry="0.9" fill="#1c2c10" opacity="0.11"/><ellipse cx="302.4" cy="91.5" rx="5.1" ry="1.4" fill="#e8d090" opacity="0.13"/><ellipse cx="325.9" cy="75.2" rx="4.4" ry="0.8" fill="#1c2c10" opacity="0.18"/><ellipse cx="338.5" cy="73.8" rx="3.4" ry="1" fill="#e8d090" opacity="0.09"/><ellipse cx="296.1" cy="111.9" rx="4" ry="1.6" fill="#e8d090" opacity="0.06"/><ellipse cx="431.4" cy="109.7" rx="2.6" ry="1.1" fill="#e8d090" opacity="0.12"/><ellipse cx="195.1" cy="99.5" rx="6.4" ry="1.6" fill="#e8d090" opacity="0.09"/><ellipse cx="311.8" cy="75.5" rx="5.6" ry="1.6" fill="#e8d090" opacity="0.11"/><ellipse cx="125.7" cy="121.4" rx="6.9" ry="1.8" fill="#1c2c10" opacity="0.23"/><ellipse cx="171.2" cy="122.1" rx="6.3" ry="1" fill="#1c2c10" opacity="0.17"/><ellipse cx="268.9" cy="112.7" rx="4.4" ry="0.6" fill="#e8d090" opacity="0.06"/><ellipse cx="374.9" cy="73.4" rx="3.7" ry="1.5" fill="#1c2c10" opacity="0.12"/><ellipse cx="254.5" cy="109.8" rx="6.2" ry="1.4" fill="#e8d090" opacity="0.09"/><ellipse cx="438.4" cy="67.7" rx="3.1" ry="1.2" fill="#1c2c10" opacity="0.22"/><ellipse cx="306.5" cy="96.5" rx="6.2" ry="1.3" fill="#1c2c10" opacity="0.16"/><ellipse cx="394.2" cy="121.4" rx="3" ry="1.6" fill="#e8d090" opacity="0.09"/><ellipse cx="278.5" cy="75.3" rx="4.7" ry="1.2" fill="#e8d090" opacity="0.05"/><ellipse cx="447" cy="96.1" rx="4" ry="1.6" fill="#e8d090" opacity="0.09"/><ellipse cx="328.7" cy="66.3" rx="4.7" ry="1.1" fill="#e8d090" opacity="0.12"/><ellipse cx="149.4" cy="93.2" rx="2.6" ry="1.1" fill="#e8d090" opacity="0.12"/><ellipse cx="237.5" cy="82.9" rx="3" ry="1.3" fill="#e8d090" opacity="0.06"/><ellipse cx="366.2" cy="63.5" rx="3" ry="0.9" fill="#e8d090" opacity="0.08"/><ellipse cx="186" cy="102.9" rx="2.5" ry="1.5" fill="#1c2c10" opacity="0.18"/><ellipse cx="141.5" cy="75.1" rx="4.7" ry="1.1" fill="#1c2c10" opacity="0.17"/><ellipse cx="260" cy="72.5" rx="3" ry="1.4" fill="#e8d090" opacity="0.09"/><ellipse cx="396.8" cy="102.4" rx="6.3" ry="0.9" fill="#e8d090" opacity="0.11"/><ellipse cx="418.6" cy="82.8" rx="3.6" ry="1.7" fill="#1c2c10" opacity="0.26"/><ellipse cx="412.2" cy="70.8" rx="3.2" ry="1.5" fill="#1c2c10" opacity="0.12"/><ellipse cx="388.7" cy="89.8" rx="5.9" ry="0.8" fill="#1c2c10" opacity="0.21"/><ellipse cx="42.5" cy="75.3" rx="5.4" ry="1.7" fill="#e8d090" opacity="0.06"/><ellipse cx="249.9" cy="112" rx="4.5" ry="1.4" fill="#1c2c10" opacity="0.11"/><ellipse cx="80.1" cy="64.5" rx="4.8" ry="1.2" fill="#e8d090" opacity="0.06"/><ellipse cx="113.4" cy="75.5" rx="6.2" ry="1.8" fill="#e8d090" opacity="0.06"/><ellipse cx="61.3" cy="124.8" rx="4.3" ry="1.5" fill="#1c2c10" opacity="0.17"/><ellipse cx="254" cy="90.4" rx="5" ry="0.6" fill="#e8d090" opacity="0.12"/><ellipse cx="112" cy="92" rx="5.7" ry="1.1" fill="#1c2c10" opacity="0.13"/><ellipse cx="252.8" cy="63" rx="6.5" ry="1.6" fill="#e8d090" opacity="0.12"/><ellipse cx="302.5" cy="88.7" rx="5" ry="1.2" fill="#e8d090" opacity="0.11"/><ellipse cx="144.8" cy="122.1" rx="5.7" ry="1.5" fill="#e8d090" opacity="0.08"/><ellipse cx="416" cy="120.1" rx="5.5" ry="1.5" fill="#e8d090" opacity="0.08"/><ellipse cx="342.1" cy="66.7" rx="3.7" ry="1.2" fill="#1c2c10" opacity="0.16"/><ellipse cx="306.5" cy="103.2" rx="3.2" ry="1.7" fill="#e8d090" opacity="0.08"/><ellipse cx="315.4" cy="99.6" rx="4.7" ry="1.1" fill="#e8d090" opacity="0.10"/><ellipse cx="333" cy="112.3" rx="6.9" ry="0.6" fill="#e8d090" opacity="0.11"/><ellipse cx="144.1" cy="88.5" rx="2.3" ry="0.8" fill="#1c2c10" opacity="0.12"/><ellipse cx="141.6" cy="121.8" rx="4.8" ry="1.2" fill="#e8d090" opacity="0.10"/><ellipse cx="457.9" cy="104.1" rx="6" ry="0.7" fill="#e8d090" opacity="0.11"/><ellipse cx="54.2" cy="123.4" rx="2.8" ry="1.2" fill="#1c2c10" opacity="0.18"/><ellipse cx="294.7" cy="65.9" rx="6.7" ry="1.1" fill="#1c2c10" opacity="0.20"/><ellipse cx="190.4" cy="80.9" rx="5.3" ry="1.3" fill="#1c2c10" opacity="0.21"/><ellipse cx="160.8" cy="62.9" rx="3.2" ry="0.7" fill="#1c2c10" opacity="0.22"/><ellipse cx="200.7" cy="121.2" rx="5.7" ry="0.7" fill="#e8d090" opacity="0.13"/><ellipse cx="66.2" cy="121.8" rx="4.1" ry="1.2" fill="#e8d090" opacity="0.07"/><ellipse cx="257.4" cy="123.9" rx="5.6" ry="1.2" fill="#e8d090" opacity="0.12"/><ellipse cx="291.5" cy="69.6" rx="5.1" ry="1.1" fill="#1c2c10" opacity="0.11"/><ellipse cx="259.4" cy="70.2" rx="4.2" ry="1.4" fill="#1c2c10" opacity="0.14"/><ellipse cx="282.5" cy="89.7" rx="5.9" ry="1.2" fill="#e8d090" opacity="0.13"/><ellipse cx="347.1" cy="77.7" rx="2.6" ry="1.7" fill="#e8d090" opacity="0.10"/><ellipse cx="187.7" cy="79.9" rx="5.4" ry="1.3" fill="#e8d090" opacity="0.10"/><ellipse cx="355.2" cy="74.5" rx="3.2" ry="1.8" fill="#e8d090" opacity="0.12"/><ellipse cx="51.8" cy="66" rx="3.4" ry="1.1" fill="#e8d090" opacity="0.06"/><ellipse cx="265.2" cy="66.8" rx="2.4" ry="1.4" fill="#e8d090" opacity="0.10"/><ellipse cx="193.6" cy="93.6" rx="3.1" ry="1" fill="#e8d090" opacity="0.12"/><ellipse cx="66.6" cy="69.9" rx="6" ry="1.3" fill="#e8d090" opacity="0.07"/><ellipse cx="215.4" cy="79" rx="6" ry="1" fill="#e8d090" opacity="0.13"/><ellipse cx="173.3" cy="98.2" rx="5.7" ry="1.7" fill="#1c2c10" opacity="0.16"/><ellipse cx="76.2" cy="119.8" rx="2.4" ry="0.7" fill="#e8d090" opacity="0.09"/><ellipse cx="326.3" cy="81.7" rx="5.9" ry="0.7" fill="#1c2c10" opacity="0.21"/><ellipse cx="69.7" cy="82.1" rx="5.6" ry="1.4" fill="#1c2c10" opacity="0.12"/><ellipse cx="187.1" cy="109.9" rx="3.8" ry="0.7" fill="#e8d090" opacity="0.10"/><ellipse cx="425.4" cy="124" rx="6.6" ry="1.1" fill="#e8d090" opacity="0.07"/><ellipse cx="170" cy="88.4" rx="6.7" ry="1.7" fill="#1c2c10" opacity="0.16"/><ellipse cx="190.4" cy="86" rx="4" ry="1.1" fill="#1c2c10" opacity="0.19"/><ellipse cx="373.8" cy="97.7" rx="6.2" ry="1.3" fill="#1c2c10" opacity="0.22"/><ellipse cx="409.4" cy="80.6" rx="2.1" ry="1.2" fill="#1c2c10" opacity="0.19"/><ellipse cx="445.7" cy="105" rx="6" ry="0.7" fill="#1c2c10" opacity="0.23"/><ellipse cx="70.7" cy="67.4" rx="5.7" ry="1.7" fill="#1c2c10" opacity="0.20"/><ellipse cx="96.1" cy="111.2" rx="5.2" ry="0.9" fill="#1c2c10" opacity="0.22"/><ellipse cx="256.7" cy="112.5" rx="4" ry="1" fill="#e8d090" opacity="0.10"/><ellipse cx="244.8" cy="97.5" rx="5.6" ry="1.4" fill="#e8d090" opacity="0.08"/><ellipse cx="386.1" cy="106" rx="6.3" ry="1.6" fill="#e8d090" opacity="0.12"/><ellipse cx="442.1" cy="104.3" rx="4.6" ry="1.5" fill="#e8d090" opacity="0.08"/><ellipse cx="213.7" cy="71.6" rx="5.7" ry="1.8" fill="#1c2c10" opacity="0.13"/><ellipse cx="121.9" cy="90" rx="3.5" ry="1.8" fill="#1c2c10" opacity="0.15"/><ellipse cx="83.8" cy="104.8" rx="5.9" ry="0.8" fill="#1c2c10" opacity="0.17"/><ellipse cx="283.2" cy="122" rx="2.2" ry="0.7" fill="#1c2c10" opacity="0.13"/><ellipse cx="135" cy="109.3" rx="5" ry="0.9" fill="#1c2c10" opacity="0.14"/><ellipse cx="108.3" cy="112" rx="3.6" ry="1.3" fill="#e8d090" opacity="0.09"/><ellipse cx="145.7" cy="120.6" rx="6.6" ry="1" fill="#1c2c10" opacity="0.25"/><ellipse cx="240.1" cy="76.6" rx="2.2" ry="1.7" fill="#e8d090" opacity="0.08"/><ellipse cx="259.2" cy="96" rx="3.4" ry="1.8" fill="#e8d090" opacity="0.07"/><ellipse cx="39.6" cy="93.2" rx="3.9" ry="1.6" fill="#e8d090" opacity="0.10"/><ellipse cx="101.8" cy="72.4" rx="3.6" ry="0.9" fill="#e8d090" opacity="0.09"/><ellipse cx="305.7" cy="127.5" rx="3.3" ry="1.2" fill="#1c2c10" opacity="0.22"/><ellipse cx="35.6" cy="116.2" rx="6.2" ry="1.6" fill="#1c2c10" opacity="0.14"/><ellipse cx="339.5" cy="68.4" rx="4.4" ry="1.2" fill="#e8d090" opacity="0.10"/><ellipse cx="399.4" cy="82" rx="5.9" ry="1.1" fill="#e8d090" opacity="0.06"/><ellipse cx="386.2" cy="75.8" rx="4.7" ry="1.2" fill="#1c2c10" opacity="0.23"/><ellipse cx="167.3" cy="82.5" rx="2.4" ry="1" fill="#1c2c10" opacity="0.21"/><ellipse cx="187.9" cy="107.3" rx="2.5" ry="1.1" fill="#1c2c10" opacity="0.25"/><ellipse cx="387.6" cy="105.2" rx="2.1" ry="1.1" fill="#e8d090" opacity="0.07"/><ellipse cx="274.7" cy="92.2" rx="2.1" ry="1.8" fill="#e8d090" opacity="0.07"/><ellipse cx="296.8" cy="81.2" rx="3.9" ry="1.2" fill="#1c2c10" opacity="0.15"/><ellipse cx="201.7" cy="106" rx="3.3" ry="0.8" fill="#e8d090" opacity="0.08"/><ellipse cx="436.6" cy="99.1" rx="5.6" ry="1" fill="#e8d090" opacity="0.06"/><ellipse cx="94.8" cy="68.2" rx="5.4" ry="1.4" fill="#1c2c10" opacity="0.16"/><ellipse cx="390.7" cy="101.1" rx="2.5" ry="0.9" fill="#1c2c10" opacity="0.12"/><ellipse cx="207.9" cy="66.8" rx="6.6" ry="1.1" fill="#1c2c10" opacity="0.20"/></g>
</g>
</g>
<g><rect x="82.8" y="12.6" width="0.2" height="51" fill="url(#c0)"/><rect x="83" y="12.7" width="1" height="51" fill="url(#c1)"/><rect x="84" y="12.9" width="1" height="51.1" fill="url(#c2)"/><rect x="85" y="13.1" width="1" height="51.1" fill="url(#c3)"/><rect x="86" y="13.3" width="1" height="51.2" fill="url(#c4)"/><rect x="87" y="13.5" width="1" height="51.2" fill="url(#c5)"/><rect x="88" y="13.7" width="1" height="51.3" fill="url(#c6)"/><rect x="89" y="13.9" width="1" height="51.3" fill="url(#c7)"/><rect x="90" y="14.1" width="1" height="51.4" fill="url(#c8)"/><rect x="91" y="14.3" width="1" height="51.4" fill="url(#c9)"/><rect x="92" y="14.5" width="1" height="51.5" fill="url(#c10)"/><rect x="93" y="14.7" width="1" height="51.5" fill="url(#c11)"/><rect x="94" y="14.9" width="1" height="51.6" fill="url(#c12)"/><rect x="95" y="15.1" width="1" height="51.6" fill="url(#c13)"/><rect x="96" y="15.3" width="1" height="51.7" fill="url(#c14)"/><rect x="99" y="15.8" width="1" height="51.8" fill="url(#c15)"/><rect x="100" y="16" width="1" height="51.9" fill="url(#c16)"/><rect x="101" y="16.2" width="1" height="51.9" fill="url(#c17)"/><rect x="102" y="16.4" width="1" height="52" fill="url(#c18)"/><rect x="103" y="16.6" width="1" height="52" fill="url(#c19)"/><rect x="104" y="16.8" width="1" height="52.1" fill="url(#c20)"/><rect x="105" y="17" width="1" height="52.2" fill="url(#c21)"/><rect x="106" y="17.2" width="1" height="52.2" fill="url(#c22)"/><rect x="107" y="17.4" width="1" height="52.3" fill="url(#c23)"/><rect x="108" y="17.6" width="1" height="52.3" fill="url(#c24)"/><rect x="109" y="17.8" width="1" height="52.4" fill="url(#c25)"/><rect x="110" y="18" width="1" height="52.4" fill="url(#c26)"/><rect x="111" y="18.2" width="1" height="52.5" fill="url(#c27)"/><rect x="112" y="18.4" width="1" height="52.5" fill="url(#c28)"/><rect x="113" y="18.5" width="1" height="52.6" fill="url(#c29)"/><rect x="114" y="18.7" width="1" height="52.6" fill="url(#c30)"/><rect x="115" y="18.9" width="1" height="52.7" fill="url(#c31)"/><rect x="116" y="19.1" width="1" height="52.7" fill="url(#c32)"/><rect x="117" y="19.3" width="1" height="52.8" fill="url(#c33)"/><rect x="118" y="19.5" width="1" height="52.9" fill="url(#c34)"/><rect x="119" y="19.7" width="1" height="52.9" fill="url(#c35)"/><rect x="120" y="19.9" width="1" height="53" fill="url(#c36)"/><rect x="121" y="20.1" width="1" height="53" fill="url(#c37)"/><rect x="122" y="20.3" width="1" height="53.1" fill="url(#c38)"/><rect x="123" y="20.5" width="1" height="53.1" fill="url(#c39)"/><rect x="124" y="20.7" width="1" height="53.2" fill="url(#c40)"/><rect x="125" y="20.9" width="1" height="53.3" fill="url(#c41)"/><rect x="126" y="21.1" width="1" height="53.3" fill="url(#c42)"/><rect x="127" y="21.3" width="1" height="53.4" fill="url(#c43)"/><rect x="128" y="21.5" width="1" height="53.4" fill="url(#c44)"/><rect x="130" y="21.8" width="1" height="53.5" fill="url(#c45)"/><rect x="131" y="22" width="1" height="53.6" fill="url(#c46)"/><rect x="132" y="22.2" width="1" height="53.6" fill="url(#c47)"/><rect x="133" y="22.4" width="1" height="53.7" fill="url(#c48)"/><rect x="134" y="22.6" width="1" height="53.7" fill="url(#c49)"/><rect x="135" y="22.8" width="1" height="53.8" fill="url(#c50)"/><rect x="136" y="23" width="1" height="53.8" fill="url(#c51)"/><rect x="137" y="23.2" width="1" height="53.9" fill="url(#c52)"/><rect x="138" y="23.4" width="1" height="53.9" fill="url(#c53)"/><rect x="139" y="23.6" width="1" height="54" fill="url(#c54)"/><rect x="140" y="23.8" width="1" height="54" fill="url(#c55)"/><rect x="141" y="24" width="1" height="54.1" fill="url(#c56)"/><rect x="142" y="24.2" width="1" height="54.1" fill="url(#c57)"/><rect x="143" y="24.3" width="0.7" height="54.2" fill="url(#c58)"/><rect x="145.6" y="35.3" width="0.4" height="52.4" fill="url(#c59)"/><rect x="146" y="35.5" width="1" height="52.3" fill="url(#c60)"/><rect x="147" y="35.9" width="1" height="52.2" fill="url(#c61)"/><rect x="148" y="36.3" width="1" height="52.2" fill="url(#c62)"/><rect x="149" y="36.6" width="1" height="52.1" fill="url(#c63)"/><rect x="150" y="37" width="1" height="52" fill="url(#c64)"/><rect x="151" y="37.4" width="1" height="51.9" fill="url(#c65)"/><rect x="152" y="37.7" width="1" height="51.8" fill="url(#c66)"/><rect x="153" y="38.1" width="1" height="51.7" fill="url(#c67)"/><rect x="154" y="38.4" width="1" height="51.6" fill="url(#c68)"/><rect x="155" y="38.8" width="1" height="51.5" fill="url(#c69)"/><rect x="156" y="39.2" width="1" height="51.5" fill="url(#c70)"/><rect x="157" y="39.5" width="1" height="51.4" fill="url(#c71)"/><rect x="158" y="39.9" width="1" height="51.3" fill="url(#c72)"/><rect x="159" y="40.3" width="1" height="51.2" fill="url(#c73)"/><rect x="160" y="40.7" width="1" height="51.1" fill="url(#c74)"/><rect x="161" y="41" width="1" height="51" fill="url(#c75)"/><rect x="162" y="41.4" width="1" height="51" fill="url(#c76)"/><rect x="163" y="41.8" width="1" height="50.9" fill="url(#c77)"/><rect x="164" y="42.2" width="1" height="50.9" fill="url(#c78)"/><rect x="165" y="42.5" width="1" height="50.8" fill="url(#c79)"/><rect x="166" y="42.9" width="1" height="50.8" fill="url(#c80)"/><rect x="167" y="43.3" width="1" height="50.8" fill="url(#c81)"/><rect x="168" y="43.6" width="1" height="50.8" fill="url(#c82)"/><rect x="169" y="43.9" width="1" height="50.8" fill="url(#c83)"/><rect x="170" y="44.2" width="1" height="50.8" fill="url(#c84)"/><rect x="171" y="44.5" width="1" height="50.8" fill="url(#c85)"/><rect x="172" y="44.8" width="1" height="50.8" fill="url(#c86)"/><rect x="173" y="45.1" width="1" height="50.8" fill="url(#c87)"/><rect x="174" y="45.5" width="1" height="50.9" fill="url(#c88)"/><rect x="175" y="45.8" width="1" height="50.9" fill="url(#c89)"/><rect x="176" y="46.1" width="1" height="50.9" fill="url(#c90)"/><rect x="177" y="46.4" width="1" height="50.9" fill="url(#c91)"/><rect x="178" y="46.7" width="1" height="50.9" fill="url(#c92)"/><rect x="179" y="46.9" width="1" height="51" fill="url(#c93)"/><rect x="180" y="47.2" width="1" height="51" fill="url(#c94)"/><rect x="181" y="47.4" width="1" height="51" fill="url(#c95)"/><rect x="182" y="47.7" width="1" height="51.1" fill="url(#c96)"/><rect x="183" y="47.9" width="1" height="51.1" fill="url(#c97)"/><rect x="184" y="48.2" width="1" height="51.1" fill="url(#c98)"/><rect x="185" y="48.4" width="1" height="51.2" fill="url(#c99)"/><rect x="186" y="48.7" width="1" height="51.2" fill="url(#c100)"/><rect x="187" y="48.9" width="1" height="51.2" fill="url(#c101)"/><rect x="188" y="49.2" width="1" height="51.3" fill="url(#c102)"/><rect x="189" y="49.4" width="1" height="51.3" fill="url(#c103)"/><rect x="190" y="49.7" width="1" height="51.3" fill="url(#c104)"/><rect x="191" y="49.9" width="1" height="51.4" fill="url(#c105)"/><rect x="192" y="50.2" width="1" height="51.4" fill="url(#c106)"/><rect x="193" y="50.3" width="1" height="51.5" fill="url(#c107)"/><rect x="194" y="50.4" width="1" height="51.5" fill="url(#c108)"/><rect x="195" y="50.4" width="1" height="51.6" fill="url(#c109)"/><rect x="196" y="50.5" width="1" height="51.6" fill="url(#c110)"/><rect x="197" y="50.6" width="1" height="51.7" fill="url(#c111)"/><rect x="198" y="50.7" width="1" height="51.7" fill="url(#c112)"/><rect x="199" y="50.8" width="1" height="51.8" fill="url(#c113)"/><rect x="200" y="50.8" width="1" height="51.8" fill="url(#c114)"/><rect x="201" y="50.9" width="1" height="51.9" fill="url(#c115)"/><rect x="202" y="51" width="1" height="51.9" fill="url(#c116)"/><rect x="203" y="51.1" width="1" height="52" fill="url(#c117)"/><rect x="204" y="51.2" width="1" height="52" fill="url(#c118)"/><rect x="205" y="51.3" width="1" height="52" fill="url(#c119)"/><rect x="206" y="51.4" width="1" height="52" fill="url(#c120)"/><rect x="207" y="51.5" width="1" height="52" fill="url(#c121)"/><rect x="208" y="51.6" width="1" height="52" fill="url(#c122)"/><rect x="209" y="51.7" width="1" height="52" fill="url(#c123)"/><rect x="210" y="51.9" width="1" height="52" fill="url(#c124)"/><rect x="211" y="52.1" width="1" height="52" fill="url(#c125)"/><rect x="212" y="52.4" width="1" height="51.9" fill="url(#c126)"/><rect x="213" y="52.6" width="1" height="51.9" fill="url(#c127)"/><rect x="214" y="52.8" width="1" height="51.9" fill="url(#c128)"/><rect x="215" y="53.1" width="1" height="51.9" fill="url(#c129)"/><rect x="216" y="53.3" width="1" height="51.8" fill="url(#c130)"/><rect x="217" y="53.5" width="1" height="51.8" fill="url(#c131)"/><rect x="218" y="53.7" width="1" height="51.8" fill="url(#c132)"/><rect x="219" y="54" width="1" height="51.8" fill="url(#c133)"/><rect x="220" y="54.2" width="1" height="51.7" fill="url(#c134)"/><rect x="221" y="54.4" width="1" height="51.7" fill="url(#c135)"/><rect x="222" y="54.7" width="1" height="51.7" fill="url(#c136)"/><rect x="223" y="54.9" width="1" height="51.7" fill="url(#c137)"/><rect x="224" y="55.1" width="1" height="51.6" fill="url(#c138)"/><rect x="225" y="55.3" width="1" height="51.6" fill="url(#c139)"/><rect x="226" y="55.6" width="1" height="51.6" fill="url(#c140)"/><rect x="227" y="55.8" width="1" height="51.6" fill="url(#c141)"/><rect x="228" y="56" width="1" height="51.5" fill="url(#c142)"/><rect x="229" y="56.3" width="1" height="51.5" fill="url(#c143)"/><rect x="230" y="56.5" width="1" height="51.5" fill="url(#c144)"/><rect x="231" y="56.7" width="1" height="51.5" fill="url(#c145)"/><rect x="232" y="56.9" width="1" height="51.5" fill="url(#c146)"/><rect x="233" y="57.1" width="1" height="51.5" fill="url(#c147)"/><rect x="234" y="57.4" width="1" height="51.4" fill="url(#c148)"/><rect x="235" y="57.6" width="1" height="51.4" fill="url(#c149)"/><rect x="236" y="57.8" width="1" height="51.4" fill="url(#c150)"/><rect x="237" y="58" width="1" height="51.4" fill="url(#c151)"/><rect x="238" y="58.3" width="1" height="51.4" fill="url(#c152)"/><rect x="239" y="58.5" width="1" height="51.3" fill="url(#c153)"/><rect x="240" y="58.7" width="1" height="51.3" fill="url(#c154)"/><rect x="241" y="58.9" width="1" height="51.3" fill="url(#c155)"/><rect x="242" y="59.1" width="1" height="51.3" fill="url(#c156)"/><rect x="243" y="59.2" width="1" height="51.3" fill="url(#c157)"/><rect x="244" y="59.4" width="1" height="51.3" fill="url(#c158)"/><rect x="245" y="59.6" width="1" height="51.3" fill="url(#c159)"/><rect x="246" y="59.7" width="1" height="51.4" fill="url(#c160)"/><rect x="247" y="59.9" width="1" height="51.4" fill="url(#c161)"/><rect x="248" y="60.1" width="1" height="51.4" fill="url(#c162)"/><rect x="249" y="60.2" width="1" height="51.4" fill="url(#c163)"/><rect x="250" y="60.4" width="1" height="51.4" fill="url(#c164)"/><rect x="251" y="60.5" width="1" height="51.5" fill="url(#c165)"/><rect x="252" y="60.6" width="1" height="51.5" fill="url(#c166)"/><rect x="253" y="60.8" width="1" height="51.6" fill="url(#c167)"/><rect x="254" y="60.9" width="1" height="51.6" fill="url(#c168)"/><rect x="255" y="61" width="1" height="51.7" fill="url(#c169)"/><rect x="256" y="61.1" width="1" height="51.7" fill="url(#c170)"/><rect x="257" y="61.3" width="1" height="51.8" fill="url(#c171)"/><rect x="258" y="61.4" width="1" height="51.8" fill="url(#c172)"/><rect x="259" y="61.5" width="1" height="51.8" fill="url(#c173)"/><rect x="260" y="61.6" width="1" height="51.9" fill="url(#c174)"/><rect x="261" y="61.8" width="1" height="51.9" fill="url(#c175)"/><rect x="262" y="61.9" width="1" height="52" fill="url(#c176)"/><rect x="263" y="62" width="1" height="52" fill="url(#c177)"/><rect x="264" y="62.2" width="1" height="52.1" fill="url(#c178)"/><rect x="265" y="62.3" width="1" height="52.1" fill="url(#c179)"/><rect x="266" y="62.4" width="1" height="52.2" fill="url(#c180)"/><rect x="267" y="62.5" width="1" height="52.2" fill="url(#c181)"/><rect x="268" y="62.7" width="1" height="52.3" fill="url(#c182)"/><rect x="269" y="62.8" width="1" height="52.3" fill="url(#c183)"/><rect x="270" y="62.9" width="1" height="52.4" fill="url(#c184)"/><rect x="271" y="63" width="1" height="52.4" fill="url(#c185)"/><rect x="272" y="63.2" width="1" height="52.4" fill="url(#c186)"/><rect x="273" y="63.3" width="0.6" height="52.5" fill="url(#c187)"/><rect x="336.8" y="66.9" width="0.2" height="52.5" fill="url(#c188)"/><rect x="337" y="66.9" width="1" height="52.5" fill="url(#c189)"/><rect x="338" y="66.8" width="1" height="52.5" fill="url(#c190)"/><rect x="339" y="66.8" width="1" height="52.5" fill="url(#c191)"/><rect x="340" y="66.7" width="1" height="52.5" fill="url(#c192)"/><rect x="341" y="66.7" width="1" height="52.5" fill="url(#c193)"/><rect x="342" y="66.6" width="1" height="52.4" fill="url(#c194)"/><rect x="343" y="66.6" width="1" height="52.4" fill="url(#c195)"/><rect x="344" y="66.5" width="1" height="52.4" fill="url(#c196)"/><rect x="345" y="66.5" width="1" height="52.4" fill="url(#c197)"/><rect x="346" y="66.4" width="1" height="52.4" fill="url(#c198)"/><rect x="347" y="66.4" width="1" height="52.4" fill="url(#c199)"/><rect x="348" y="66.3" width="1" height="52.4" fill="url(#c200)"/><rect x="349" y="66.3" width="1" height="52.4" fill="url(#c201)"/><rect x="350" y="66.2" width="1" height="52.4" fill="url(#c202)"/><rect x="351" y="66.2" width="1" height="52.3" fill="url(#c203)"/><rect x="352" y="66.1" width="1" height="52.3" fill="url(#c204)"/><rect x="353" y="66.1" width="1" height="52.3" fill="url(#c205)"/><rect x="354" y="66" width="1" height="52.3" fill="url(#c206)"/><rect x="355" y="66" width="1" height="52.3" fill="url(#c207)"/><rect x="356" y="65.9" width="1" height="52.3" fill="url(#c208)"/><rect x="357" y="65.9" width="1" height="52.2" fill="url(#c209)"/><rect x="358" y="65.8" width="1" height="52.2" fill="url(#c210)"/><rect x="359" y="65.8" width="1" height="52.2" fill="url(#c211)"/><rect x="360" y="65.7" width="1" height="52.2" fill="url(#c212)"/><rect x="361" y="65.7" width="1" height="52.2" fill="url(#c213)"/><rect x="362" y="65.6" width="1" height="52.2" fill="url(#c214)"/><rect x="363" y="65.6" width="1" height="52.1" fill="url(#c215)"/><rect x="364" y="65.5" width="1" height="52.1" fill="url(#c216)"/><rect x="365" y="65.5" width="1" height="52.1" fill="url(#c217)"/><rect x="366" y="65.4" width="1" height="52.1" fill="url(#c218)"/><rect x="367" y="65.4" width="1" height="52.1" fill="url(#c219)"/><rect x="368" y="65.3" width="1" height="52" fill="url(#c220)"/><rect x="369" y="65.3" width="1" height="52" fill="url(#c221)"/><rect x="370" y="65.2" width="1" height="52" fill="url(#c222)"/><rect x="371" y="65.2" width="1" height="52" fill="url(#c223)"/><rect x="372" y="65.1" width="1" height="51.9" fill="url(#c224)"/><rect x="373" y="65.1" width="1" height="51.9" fill="url(#c225)"/><rect x="374" y="65" width="1" height="51.9" fill="url(#c226)"/><rect x="375" y="65" width="1" height="51.9" fill="url(#c227)"/><rect x="376" y="64.9" width="1" height="51.9" fill="url(#c228)"/><rect x="377" y="64.9" width="1" height="51.8" fill="url(#c229)"/><rect x="378" y="64.8" width="0.8" height="51.8" fill="url(#c230)"/><rect x="399" y="62.8" width="1" height="52.2" fill="url(#c231)"/><rect x="400" y="62.7" width="1" height="52.2" fill="url(#c232)"/><rect x="401" y="62.5" width="1" height="52.2" fill="url(#c233)"/><rect x="402" y="62.4" width="1" height="52.2" fill="url(#c234)"/><rect x="403" y="62.2" width="1" height="52.3" fill="url(#c235)"/><rect x="404" y="62" width="1" height="52.3" fill="url(#c236)"/><rect x="405" y="61.9" width="1" height="52.3" fill="url(#c237)"/><rect x="406" y="61.7" width="1" height="52.3" fill="url(#c238)"/><rect x="407" y="61.6" width="1" height="52.3" fill="url(#c239)"/><rect x="408" y="61.4" width="1" height="52.3" fill="url(#c240)"/><rect x="409" y="61.3" width="1" height="52.3" fill="url(#c241)"/><rect x="410" y="61.1" width="1" height="52.3" fill="url(#c242)"/><rect x="411" y="60.9" width="1" height="52.3" fill="url(#c243)"/><rect x="412" y="60.8" width="1" height="52.3" fill="url(#c244)"/><rect x="413" y="60.6" width="1" height="52.2" fill="url(#c245)"/><rect x="414" y="60.5" width="1" height="52.2" fill="url(#c246)"/><rect x="415" y="60.3" width="1" height="52.2" fill="url(#c247)"/><rect x="416" y="60.2" width="0.9" height="52.2" fill="url(#c248)"/></g>
<line x1="91.2" y1="15.2" x2="91.2" y2="65.6" stroke="#fff" stroke-width="1.1" stroke-dasharray="1.6 1.2"/>
<line x1="139.5" y1="24.6" x2="139.5" y2="77.6" stroke="#fff" stroke-width="1.1" stroke-dasharray="1.6 1.2"/>
<line x1="145.9" y1="36.3" x2="145.9" y2="87.7" stroke="#fff" stroke-width="1.1" stroke-dasharray="1.6 1.2"/>
<line x1="167.3" y1="44.2" x2="167.3" y2="94" stroke="#fff" stroke-width="1.1" stroke-dasharray="1.6 1.2"/>
<line x1="200.2" y1="51.8" x2="200.2" y2="102.6" stroke="#fff" stroke-width="1.1" stroke-dasharray="1.6 1.2"/>
<line x1="246.6" y1="60.8" x2="246.6" y2="111.1" stroke="#fff" stroke-width="1.1" stroke-dasharray="1.6 1.2"/>
<line x1="371.8" y1="66.2" x2="371.8" y2="117.1" stroke="#fff" stroke-width="1.1" stroke-dasharray="1.6 1.2"/>
<line x1="417.3" y1="61.1" x2="417.3" y2="112.3" stroke="#fff" stroke-width="1.1" stroke-dasharray="1.6 1.2"/>
<path d="M222.8 93.2L226 92.4L229 92.8L232.6 93M241.8 96.6L245 97.6L248 97.2L250.7 98.8M254.7 100.6L259 101.6L263 101L267 102.2L270.6 101.8M193 78L193.4 84L194.2 90L195 96M196.2 70L196.4 80M113.9 19L113.9 60M343.4 75L343.2 88L343.8 100M345.4 80L345.6 96M402.4 70L402.6 84L402.2 96M408.2 66L408 80L408.6 92M414.4 64L414.8 70" stroke="#e8f0ff" stroke-width="0.7" stroke-opacity="0.75" fill="none" stroke-dasharray="2.2 1.1"/>
<path d="M32.5 55.6L32.5 108.4M23.2 107.6L32.5 108.3M23.2 98.8L32.5 99.5M23.2 90L32.5 90.7M23.2 81.2L32.5 81.9M23.2 72.4L32.5 73.1M23.2 63.6L32.5 64.3M23.2 54.8L32.5 55.5M33 108.4L26 116M48.9 109.3L41.9 116.9M64.9 110.2L57.9 117.8M80.8 111.1L73.8 118.7M96.8 112L89.8 119.6M112.7 112.9L105.7 120.5M128.6 113.8L121.6 121.3M144.6 114.6L137.6 122.2M160.5 115.5L153.5 123.1M176.4 116.4L169.4 124M192.4 117.3L185.4 124.9M208.3 118.2L201.3 125.8M224.2 119.1L217.2 126.7M240.2 120L233.2 127.6M256.1 120.9L249.1 128.5M272.1 121.8L265.1 129.4M288 122.7L281 130.3M303.9 123.6L296.9 131.2M319.9 124.5L312.9 132.1M335.8 125.3L328.8 132.9M351.8 126.2L344.8 133.8M367.7 127.1L360.7 134.7M383.6 128L376.6 135.6M399.6 128.9L392.6 136.5M415.5 129.8L408.5 137.4M416.3 129L424.3 129.4M420.2 125L428.2 125.5M424.2 121L432.2 121.5M428.1 117L436.1 117.5M432 113L440 113.5M436 109L444 109.5M439.9 105L447.9 105.5M443.8 101L451.8 101.5M447.8 97L455.8 97.5M451.7 93L459.7 93.5M455.6 89L463.6 89.5M459.6 85L467.6 85.5M463.5 81L471.5 81.5M33 108.4L415.5 129.8L463.5 81" stroke="#5a5a5a" stroke-width="0.55" fill="none"/>
<text x="18.7" y="110.6" font-size="6.6" fill="#3a3a3a" text-anchor="middle">0</text>
<text x="18.7" y="101.8" font-size="6.6" fill="#3a3a3a" text-anchor="middle">1</text>
<text x="18.7" y="93" font-size="6.6" fill="#3a3a3a" text-anchor="middle">2</text>
<text x="18.7" y="84.2" font-size="6.6" fill="#3a3a3a" text-anchor="middle">3</text>
<text x="18.7" y="75.4" font-size="6.6" fill="#3a3a3a" text-anchor="middle">4</text>
<text x="18.7" y="66.6" font-size="6.6" fill="#3a3a3a" text-anchor="middle">5</text>
<text x="18.7" y="57.8" font-size="6.6" fill="#3a3a3a" text-anchor="middle">6</text>
<text x="13.4" y="82" font-size="7.2" fill="#3a3a3a" text-anchor="middle" textLength="51" lengthAdjust="spacingAndGlyphs" transform="rotate(-90 13.4 82)">altitude asl [km]</text>
<text x="23.9" y="124.4" font-size="6.6" fill="#3a3a3a" text-anchor="end">-60</text>
<text x="39.9" y="125.3" font-size="6.6" fill="#3a3a3a" text-anchor="end">-55</text>
<text x="55.8" y="126.2" font-size="6.6" fill="#3a3a3a" text-anchor="end">-50</text>
<text x="71.8" y="127.2" font-size="6.6" fill="#3a3a3a" text-anchor="end">-45</text>
<text x="87.7" y="128.1" font-size="6.6" fill="#3a3a3a" text-anchor="end">-40</text>
<text x="103.7" y="129" font-size="6.6" fill="#3a3a3a" text-anchor="end">-35</text>
<text x="119.6" y="129.9" font-size="6.6" fill="#3a3a3a" text-anchor="end">-30</text>
<text x="135.5" y="130.9" font-size="6.6" fill="#3a3a3a" text-anchor="end">-25</text>
<text x="151.5" y="131.8" font-size="6.6" fill="#3a3a3a" text-anchor="end">-20</text>
<text x="167.5" y="132.7" font-size="6.6" fill="#3a3a3a" text-anchor="end">-15</text>
<text x="183.4" y="133.7" font-size="6.6" fill="#3a3a3a" text-anchor="end">-10</text>
<text x="199.3" y="134.6" font-size="6.6" fill="#3a3a3a" text-anchor="end">-5</text>
<text x="215.3" y="135.5" font-size="6.6" fill="#3a3a3a" text-anchor="end">0</text>
<text x="231.2" y="136.4" font-size="6.6" fill="#3a3a3a" text-anchor="end">5</text>
<text x="247.2" y="137.3" font-size="6.6" fill="#3a3a3a" text-anchor="end">10</text>
<text x="263.1" y="138.3" font-size="6.6" fill="#3a3a3a" text-anchor="end">15</text>
<text x="279.1" y="139.2" font-size="6.6" fill="#3a3a3a" text-anchor="end">20</text>
<text x="295" y="140.1" font-size="6.6" fill="#3a3a3a" text-anchor="end">25</text>
<text x="311" y="141.1" font-size="6.6" fill="#3a3a3a" text-anchor="end">30</text>
<text x="326.9" y="142" font-size="6.6" fill="#3a3a3a" text-anchor="end">35</text>
<text x="342.9" y="142.9" font-size="6.6" fill="#3a3a3a" text-anchor="end">40</text>
<text x="358.8" y="143.8" font-size="6.6" fill="#3a3a3a" text-anchor="end">45</text>
<text x="374.8" y="144.8" font-size="6.6" fill="#3a3a3a" text-anchor="end">50</text>
<text x="390.7" y="145.7" font-size="6.6" fill="#3a3a3a" text-anchor="end">55</text>
<text x="406.7" y="146.6" font-size="6.6" fill="#3a3a3a" text-anchor="end">60</text>
<text x="213" y="145.3" font-size="7.6" fill="#3a3a3a" text-anchor="middle" textLength="41" lengthAdjust="spacingAndGlyphs">Longitude[°]</text>
<text x="470.3" y="94.7" font-size="6.6" fill="#3a3a3a" text-anchor="middle" transform="rotate(40 470.3 92.4)">10</text>
<text x="462.2" y="102.5" font-size="6.6" fill="#3a3a3a" text-anchor="middle" transform="rotate(40 462.2 100.2)">0</text>
<text x="455.6" y="111.5" font-size="6.6" fill="#3a3a3a" text-anchor="middle" transform="rotate(40 455.6 109.2)">-10</text>
<text x="448" y="119.9" font-size="6.6" fill="#3a3a3a" text-anchor="middle" transform="rotate(40 448 117.6)">-20</text>
<text x="439.6" y="128.1" font-size="6.6" fill="#3a3a3a" text-anchor="middle" transform="rotate(40 439.6 125.8)">-30</text>
<text x="457" y="124.8" font-size="7.6" fill="#3a3a3a" textLength="38" lengthAdjust="spacingAndGlyphs">Latitude [°]</text>
<text x="31" y="28.5" font-size="12" fill="#000" font-weight="bold" textLength="14.8" lengthAdjust="spacingAndGlyphs" stroke="#000" stroke-width="0.25">(a)</text>
<text x="91.6" y="14.5" font-size="5.4" fill="#111" textLength="27" lengthAdjust="spacingAndGlyphs" stroke="#111" stroke-width="0.1">2023-05-15</text>
<text x="139.8" y="23.1" font-size="5.4" fill="#111" textLength="27" lengthAdjust="spacingAndGlyphs" stroke="#111" stroke-width="0.1">2023-05-12</text>
<text x="147.2" y="34.8" font-size="5.4" fill="#111" textLength="41.2" lengthAdjust="spacingAndGlyphs" stroke="#111" stroke-width="0.1">2023-05-08 08:51</text>
<text x="168" y="42.4" font-size="5.4" fill="#111" textLength="26" lengthAdjust="spacingAndGlyphs" stroke="#111" stroke-width="0.1">2023-05-06</text>
<text x="201.6" y="49.4" font-size="5.4" fill="#111" textLength="26.2" lengthAdjust="spacingAndGlyphs" stroke="#111" stroke-width="0.1">2023-05-03</text>
<text x="247.7" y="57.9" font-size="5.4" fill="#111" textLength="26" lengthAdjust="spacingAndGlyphs" stroke="#111" stroke-width="0.1">2023-04-30</text>
<text x="273" y="64.1" font-size="5.4" fill="#111" textLength="40.6" lengthAdjust="spacingAndGlyphs" stroke="#111" stroke-width="0.1">2023-04-28 10:00</text>
<text x="323.9" y="64.9" font-size="5.4" fill="#111" textLength="42" lengthAdjust="spacingAndGlyphs" stroke="#111" stroke-width="0.1">2023-04-25 13:00</text>
<text x="372.4" y="62.5" font-size="5.4" fill="#111" textLength="26" lengthAdjust="spacingAndGlyphs" stroke="#111" stroke-width="0.1">2023-04-24</text>
<path d="M82 65C81.2 62.8 79.3 61.7 79.3 59.9A2.7 2.7 0 1 1 84.7 59.9C84.7 61.7 82.8 62.8 82 65Z" fill="#e8131c"/>
<circle cx="82" cy="59.9" r="1.3" fill="#3a4fb0"/>
<path d="M140.5 83.6C139.7 81.4 137.8 80.3 137.8 78.5A2.7 2.7 0 1 1 143.2 78.5C143.2 80.3 141.3 81.4 140.5 83.6Z" fill="#e8131c"/>
<circle cx="140.5" cy="78.5" r="1.3" fill="#2a5a78"/>
<path d="M417.8 113C417 110.8 415.2 109.8 415.2 108A2.6 2.6 0 1 1 420.4 108C420.4 109.8 418.6 110.8 417.8 113Z" fill="#e8131c"/>
<circle cx="417.8" cy="108" r="1.2" fill="#f4f4f4"/>
<text x="41.3" y="62" font-size="8.6" fill="#e3141c" textLength="37" lengthAdjust="spacingAndGlyphs" stroke="#e3141c" stroke-width="0.3">Barbados</text>
<text x="114" y="86.8" font-size="9.4" fill="#f2f2f2" textLength="23.5" lengthAdjust="spacingAndGlyphs">Recife</text>
<text x="378.4" y="122.4" font-size="9.6" fill="#f2f2f2" textLength="42" lengthAdjust="spacingAndGlyphs">La Réunion</text>
<path d="M420.6 107.6L434.8 107.6L433.6 111.4L421.8 111.4Z" fill="#fff"/><path d="M421.4 106.9L421.4 105.4L424.2 105.4L424.6 103.2L430.6 103.2L431 105.4L434 105.4L434 106.9Z" fill="#fff"/><rect x="426.4" y="100.6" width="1.6" height="2.8" fill="#fff"/><path d="M422.6 109.3H433" stroke="#15506a" stroke-width="0.7" stroke-dasharray="0.9 0.8"/><path d="M424.6 98.1H434" stroke="#fff" stroke-width="1.5"/><path d="M421 98.1L425.2 95.6L425.2 100.6Z" fill="#fff"/>
<rect x="338.4" y="22.4" width="6.5" height="9.8" fill="#000"/><rect x="344.7" y="22.4" width="6.5" height="9.8" fill="#0000cc"/><rect x="351.1" y="22.4" width="6.5" height="9.8" fill="#0000ff"/><rect x="357.4" y="22.4" width="6.5" height="9.8" fill="#0033ff"/><rect x="363.7" y="22.4" width="6.5" height="9.8" fill="#0066ff"/><rect x="370" y="22.4" width="6.5" height="9.8" fill="#0099ff"/><rect x="376.4" y="22.4" width="6.5" height="9.8" fill="#00ccff"/><rect x="382.7" y="22.4" width="6.5" height="9.8" fill="#00ffff"/><rect x="389" y="22.4" width="6.5" height="9.8" fill="#33ffcc"/><rect x="395.4" y="22.4" width="6.5" height="9.8" fill="#66ff99"/><rect x="401.7" y="22.4" width="6.5" height="9.8" fill="#99ff66"/><rect x="408" y="22.4" width="6.5" height="9.8" fill="#ccff33"/><rect x="414.4" y="22.4" width="6.5" height="9.8" fill="#ffff00"/><rect x="420.7" y="22.4" width="6.5" height="9.8" fill="#ffcc00"/><rect x="427" y="22.4" width="6.5" height="9.8" fill="#ff9900"/><rect x="433.4" y="22.4" width="6.5" height="9.8" fill="#ff6600"/><rect x="439.7" y="22.4" width="6.5" height="9.8" fill="#ff3300"/><rect x="446" y="22.4" width="6.5" height="9.8" fill="#ff0000"/><rect x="452.3" y="22.4" width="6.5" height="9.8" fill="#cc0000"/><rect x="458.7" y="22.4" width="6.5" height="9.8" fill="#fff"/>
<rect x="338.4" y="22.4" width="126.6" height="9.8" fill="none" stroke="#444" stroke-width="0.5"/>
<text x="338.5" y="18.6" font-size="6.6" fill="#3a3a3a" text-anchor="middle">0</text>
<path d="M338.5 22.4v1.2" stroke="#333" stroke-width="0.4"/>
<text x="366.5" y="18.6" font-size="6.6" fill="#3a3a3a" text-anchor="middle">2</text>
<path d="M366.5 22.4v1.2" stroke="#333" stroke-width="0.4"/>
<text x="394.5" y="18.6" font-size="6.6" fill="#3a3a3a" text-anchor="middle">4</text>
<path d="M394.5 22.4v1.2" stroke="#333" stroke-width="0.4"/>
<text x="422.5" y="18.6" font-size="6.6" fill="#3a3a3a" text-anchor="middle">6</text>
<path d="M422.5 22.4v1.2" stroke="#333" stroke-width="0.4"/>
<text x="450.5" y="18.6" font-size="6.6" fill="#3a3a3a" text-anchor="middle">8</text>
<path d="M450.5 22.4v1.2" stroke="#333" stroke-width="0.4"/>
<text x="401.5" y="12.2" font-size="6.4" fill="#3a3a3a" text-anchor="middle" textLength="23" lengthAdjust="spacingAndGlyphs">NRB [au]</text>
<text x="451.5" y="11.2" font-size="6" fill="#3a3a3a">×10<tspan dy="-2.6" font-size="4.6">-3</tspan></text>
<g clip-path="url(#cpb)">
<rect x="20.6" y="152" width="199.8" height="129" fill="#b6e0f7"/>
<ellipse cx="72" cy="170.9" rx="22" ry="16" fill="#a7d7f3" opacity="0.55" filter="url(#bl2)"/>
<ellipse cx="91.2" cy="242.9" rx="28" ry="20" fill="#a7d7f3" opacity="0.6" filter="url(#bl2)"/>
<ellipse cx="59.2" cy="255.9" rx="18" ry="12" fill="#a7d7f3" opacity="0.5" filter="url(#bl2)"/>
<ellipse cx="128" cy="267.8" rx="40" ry="10" fill="#a7d7f3" opacity="0.5" filter="url(#bl2)"/>
<ellipse cx="208" cy="213.8" rx="16" ry="22" fill="#a7d7f3" opacity="0.55" filter="url(#bl2)"/>
<ellipse cx="203.2" cy="267.8" rx="22" ry="10" fill="#a7d7f3" opacity="0.5" filter="url(#bl2)"/>
<ellipse cx="104" cy="208.9" rx="14" ry="10" fill="#a7d7f3" opacity="0.35" filter="url(#bl2)"/>
<ellipse cx="124.8" cy="220.5" rx="8" ry="14" fill="#a7d7f3" opacity="0.3" filter="url(#bl2)"/>
<path d="M24 152V281M48 152V281M72 152V281M96 152V281M120 152V281M144 152V281M168 152V281M192 152V281M216 152V281M20.6 176H220.4M20.6 200.8H220.4M20.6 225.5H220.4M20.6 252.1H220.4" stroke="#8fbfdd" stroke-width="0.3" stroke-opacity="0.7" fill="none"/>
<g filter="url(#bl1)" opacity="0.8" fill="none" stroke="#d6f0fc" stroke-width="3.2"><polygon points="8,181 14.4,183.4 17.6,183.5 20,183.2 22.4,183.9 24,186.8 26.4,189.3 28.8,191 32,191 35.2,191.8 37.3,193.4 38.4,195.9 40,197.8 39.2,200.8 42.4,201.7 44,201.7 46.4,202.4 48.8,204.3 50.4,204.7 52.8,205.3 56,205.3 58.4,206.8 60.8,208.6 63.5,209.2 64.3,212.2 64.2,214 63.2,216.3 60.8,218.8 58.4,222.1 57.6,225.5 57.6,229.7 56.5,233.2 55.5,234.6 54.4,237.5 52.8,239.3 50.9,239.3 48.5,239.8 45.9,241.1 43.2,243.4 42.2,245.6 42.2,248.9 40.3,251.1 38.4,253.9 36.5,256.2 34.4,259.7 32.2,261.5 30.1,261.5 27.5,260.5 26.6,259.7 28.5,262.7 29.3,264.7 28,267.8 25.6,269.3 21.6,269.9 20.5,270.9 20.3,274.1 18.4,274.6 16,274.1 16,278.5 17.6,277.4 15.5,283.1 12.8,285.4 8,285.4 8,295.1 0,295.1 0,181"/><polygon points="104.3,147.6 104,151.3 101.6,153.2 99.2,153.7 96.8,156.8 94.4,160.4 92.8,164.9 93.9,169.2 93.6,174.3 92,176.5 93.3,180.2 96,182.7 98.1,185.2 99.2,187.2 101.6,189.6 105.6,192.6 108,193.6 112,192.4 115.2,192.4 116.8,192.9 120,191.4 121.9,190.8 125.4,190.3 128,191.3 129.6,193.7 132,193.4 133.6,193.2 135.2,194.6 135.7,196.7 135.2,199.1 134.9,200.8 134.1,201.9 135.2,204 137.6,207.3 139.2,209.7 139.7,210.7 141.1,215.2 142.1,218.3 141.4,221.3 139.7,223.8 138.9,228 138.9,230.6 140.5,232.3 143.2,238.4 144,242.9 144.3,246.5 146.4,249.4 147.7,253 149.1,255.9 149.4,259.5 150.4,260.5 152,261.3 155.2,259.9 157.6,259.7 161.1,259.7 163.2,258.8 164.8,257.4 168,253.9 169.6,251.9 171.7,249.6 172.6,245.6 172.2,244.5 173.6,242.9 176.5,241.1 176.8,237.5 175.7,234 178.4,231.4 180.8,229.2 184,227.2 185.1,224.6 184.8,221.3 184.6,218 183.5,215.5 182.9,212.2 182.1,210.5 182.7,208.4 184.3,204.8 186.4,203.2 188.8,199.9 191.2,198.3 193.6,196.7 196.8,193.4 199.2,189.3 200.8,186 201.9,183.5 202.1,181.4 200,181.7 196.8,182.4 193.6,183.2 191.2,183.7 189.3,181.9 188.8,179.9 187.2,177.7 184.8,176 183.2,174.3 182.1,170.9 179.7,166.6 179.2,164 177.1,160.4 175.2,155.9 173.6,153.2 172,149.6 172,147.6 175.8,147.6 175.8,150.4"/><polygon points="175.8,147.6 175.8,150.4 176,153.2 179.2,157.7 181.6,161.3 182.7,164.9 184.8,168.3 187.2,172.6 188.5,176 189.3,179.4 189.6,179.9 192,179.7 195.2,178.5 198.4,176.9 203.2,174.3 206.4,172.6 208.5,171.8 210.4,170.1 212.3,168.3 214.1,165.7 215.7,163.1 213.6,161 211.2,159.5 210.2,156.3 209.6,156.8 208,158.1 204.8,160.1 202.6,159.9 202.4,157.2 201.3,157.7 200.3,155.9 198.4,153.5 196.8,150.4 197.6,148.5 200,149.4 201.6,153.2 204.8,155.4 208,155 210.4,154.6 212,157.4 216,158.1 220.5,158.3 225.6,157.9 225.6,147.6"/><polygon points="198.9,220.5 200.3,225.5 200.8,226.3 199.7,228.9 199,230.6 198.1,234.9 196.8,238.4 195.5,242.7 192.8,243.9 190.4,242.9 189.3,238.4 189.6,236.6 190.9,234 190.7,229.7 191.2,227.5 194.4,226.3 196.5,224.6 198.1,222.1"/></g>
<g stroke="#c9cfcf" stroke-width="0.35" fill="#f5f4ee"><polygon points="8,181 14.4,183.4 17.6,183.5 20,183.2 22.4,183.9 24,186.8 26.4,189.3 28.8,191 32,191 35.2,191.8 37.3,193.4 38.4,195.9 40,197.8 39.2,200.8 42.4,201.7 44,201.7 46.4,202.4 48.8,204.3 50.4,204.7 52.8,205.3 56,205.3 58.4,206.8 60.8,208.6 63.5,209.2 64.3,212.2 64.2,214 63.2,216.3 60.8,218.8 58.4,222.1 57.6,225.5 57.6,229.7 56.5,233.2 55.5,234.6 54.4,237.5 52.8,239.3 50.9,239.3 48.5,239.8 45.9,241.1 43.2,243.4 42.2,245.6 42.2,248.9 40.3,251.1 38.4,253.9 36.5,256.2 34.4,259.7 32.2,261.5 30.1,261.5 27.5,260.5 26.6,259.7 28.5,262.7 29.3,264.7 28,267.8 25.6,269.3 21.6,269.9 20.5,270.9 20.3,274.1 18.4,274.6 16,274.1 16,278.5 17.6,277.4 15.5,283.1 12.8,285.4 8,285.4 8,295.1 0,295.1 0,181"/><polygon points="104.3,147.6 104,151.3 101.6,153.2 99.2,153.7 96.8,156.8 94.4,160.4 92.8,164.9 93.9,169.2 93.6,174.3 92,176.5 93.3,180.2 96,182.7 98.1,185.2 99.2,187.2 101.6,189.6 105.6,192.6 108,193.6 112,192.4 115.2,192.4 116.8,192.9 120,191.4 121.9,190.8 125.4,190.3 128,191.3 129.6,193.7 132,193.4 133.6,193.2 135.2,194.6 135.7,196.7 135.2,199.1 134.9,200.8 134.1,201.9 135.2,204 137.6,207.3 139.2,209.7 139.7,210.7 141.1,215.2 142.1,218.3 141.4,221.3 139.7,223.8 138.9,228 138.9,230.6 140.5,232.3 143.2,238.4 144,242.9 144.3,246.5 146.4,249.4 147.7,253 149.1,255.9 149.4,259.5 150.4,260.5 152,261.3 155.2,259.9 157.6,259.7 161.1,259.7 163.2,258.8 164.8,257.4 168,253.9 169.6,251.9 171.7,249.6 172.6,245.6 172.2,244.5 173.6,242.9 176.5,241.1 176.8,237.5 175.7,234 178.4,231.4 180.8,229.2 184,227.2 185.1,224.6 184.8,221.3 184.6,218 183.5,215.5 182.9,212.2 182.1,210.5 182.7,208.4 184.3,204.8 186.4,203.2 188.8,199.9 191.2,198.3 193.6,196.7 196.8,193.4 199.2,189.3 200.8,186 201.9,183.5 202.1,181.4 200,181.7 196.8,182.4 193.6,183.2 191.2,183.7 189.3,181.9 188.8,179.9 187.2,177.7 184.8,176 183.2,174.3 182.1,170.9 179.7,166.6 179.2,164 177.1,160.4 175.2,155.9 173.6,153.2 172,149.6 172,147.6 175.8,147.6 175.8,150.4"/><polygon points="175.8,147.6 175.8,150.4 176,153.2 179.2,157.7 181.6,161.3 182.7,164.9 184.8,168.3 187.2,172.6 188.5,176 189.3,179.4 189.6,179.9 192,179.7 195.2,178.5 198.4,176.9 203.2,174.3 206.4,172.6 208.5,171.8 210.4,170.1 212.3,168.3 214.1,165.7 215.7,163.1 213.6,161 211.2,159.5 210.2,156.3 209.6,156.8 208,158.1 204.8,160.1 202.6,159.9 202.4,157.2 201.3,157.7 200.3,155.9 198.4,153.5 196.8,150.4 197.6,148.5 200,149.4 201.6,153.2 204.8,155.4 208,155 210.4,154.6 212,157.4 216,158.1 220.5,158.3 225.6,157.9 225.6,147.6"/><polygon points="198.9,220.5 200.3,225.5 200.8,226.3 199.7,228.9 199,230.6 198.1,234.9 196.8,238.4 195.5,242.7 192.8,243.9 190.4,242.9 189.3,238.4 189.6,236.6 190.9,234 190.7,229.7 191.2,227.5 194.4,226.3 196.5,224.6 198.1,222.1"/></g>
<g clip-path="url(#landb)">
<ellipse cx="152" cy="200.8" rx="24" ry="14" fill="#dfead2" opacity="0.7" filter="url(#bl2)"/>
<ellipse cx="116.8" cy="189.3" rx="14" ry="5" fill="#dfead2" opacity="0.6" filter="url(#bl2)"/>
<ellipse cx="30.4" cy="204" rx="14" ry="16" fill="#dfead2" opacity="0.6" filter="url(#bl2)"/>
<ellipse cx="172.8" cy="222.1" rx="10" ry="12" fill="#dfead2" opacity="0.5" filter="url(#bl2)"/>
<ellipse cx="43.2" cy="237.5" rx="8" ry="10" fill="#dfead2" opacity="0.4" filter="url(#bl2)"/>
<ellipse cx="195.2" cy="232.3" rx="4" ry="10" fill="#dfead2" opacity="0.5" filter="url(#bl2)"/>
<path d="M92.8 165.2L99.2 165.2L99.2 161.3L100.8 156.8L106.1 154.1L106.1 151.3M106.1 154.5L112.3 158.6L121.6 165.7L125.6 169.2L126.7 173.5L124.8 175.2L120.8 176L115.2 177.7L111.5 181L111.2 183.7M126.7 168.9L139.2 161.3L144 162.2L158.4 168.3L158.4 151.3M144 162.2L145.6 167.5L144.8 173.5L141.6 178.5L144 184.4L142.4 189.3L145.6 196.7L149.6 195L155.2 193.4L163.2 192.6L168.8 194.6L169.6 197.5M158.4 168.3L158.4 175.2L156 179.4L156 183.5L158.4 186.8L163.2 192.6M158.4 164L179.2 164M173.6 164L178.4 176.9L174.4 186L174.4 193.4L169.6 194.9M174.4 193.4L185.6 194.2L187.2 202.4L185.3 204M174.4 193.4L174.4 202.4L180 205.6L182.7 208.4M167.2 202.7L168.8 204.8L166.9 208.1L169.1 214.2L172.8 216.3L175.2 219.6L184.6 218M139.7 210.5L146.4 210.5L147.2 213.8L152 212.2L155.2 218.8L158.4 218.8L158.4 222.1L155.2 222.1L155.2 229.7L160.5 230.2M138.9 229.4L142.4 229.6L149.6 229.6L156.8 230.2L160.5 230.2L166.4 227.2L168.6 226.7L172.8 223.8L175.2 219.6M152 237.5L152 249.2L147.2 249.2L146.4 249.4M152 237.5L153.6 230.6L160.5 230.2L164 235.8L167 237.9L170.1 238.2L171.2 244.7L172.6 246.1M152 242.5L156 243.8L160.8 243.9L163.2 240.2L167 237.9M170.1 238.2L172.8 233.2L172.8 228.4L168.6 226.7M28.5 191L27.2 194.2L29.6 197.5L32.8 197L33.6 191.4M32.8 197L36 197.2L37.4 193.9M24 192.3L23.2 195.9L25.6 198.6L29.6 197.5M27.8 252.4L30.4 253.6L34.6 259.2M26.9 234L27.2 237.5L30.9 238.1L33.1 241.1L32.6 243.9L33.9 246.9L27.8 252.4L26.4 247L27.8 243.9L26.9 234M32.6 243.9L26.4 247M23.2 223.3L26.9 227.7L26.9 234M20.8 237.5L19.8 238.1M190.4 180L192 172.6L196.8 170.1L203.2 169.2L208 167.5L209 164L208.3 162.7L204.2 162.4L201.6 159.4M203.2 169.2L204.8 173.3M208 167.5L211.2 158.8M185.6 194.2L192 192.6L196.8 187.7L195.2 187.7L188.8 185.5L188 182.4" stroke="#c4c4c0" stroke-width="0.35" fill="none"/>
</g>
<ellipse cx="172.8" cy="202.4" rx="1.6" ry="2" fill="#bfe5f9"/>
<rect x="21.6" y="268.8" width="29.5" height="5.6" fill="#eef7fc" fill-opacity="0.75" stroke="#9aa7ae" stroke-width="0.4"/>
<rect x="21.6" y="275.0" width="23.5" height="5.3" fill="#eef7fc" fill-opacity="0.75" stroke="#9aa7ae" stroke-width="0.4"/>
<text x="23" y="273.2" font-size="3.6" fill="#333">2000 km</text>
<text x="23" y="279.2" font-size="3.6" fill="#333">1000 mi</text>
<rect x="175.9" y="277.6" width="44.5" height="3.4" fill="#fff" fill-opacity="0.7"/>
<text x="176.9" y="280.3" font-size="2.3" fill="#444">Esri, TomTom, Garmin, FAO, NOAA, USGS</text>
<polyline points="27.2,180.2 29.5,181.8 33.4,183.6 38,185.4 43,187.6 49,190 55,193 58,194.4 62,196.4 62.6,198.5 62.4,201.5 63.5,205 65,209.5 66,212 67,214 68.5,216.5 74.4,221 80,225 85,228.6 90,232 95,236.4 100,240 106,242.4 113,244.5 120,247.6 127,251 130,253 135,255.2 138,256.6 145,259 152,261 157.4,261.1 163,259.6 168,258.4 174,256.7 180,254.2 185.6,251.6 189.4,250 195,246.4 199,243.8 204,240.4 209,235.6" fill="none" stroke="#222" stroke-width="0.5"/>
<rect x="26.4" y="179.4" width="3.2" height="3.2" fill="#a80000"/>
<rect x="28.3" y="180.5" width="2.6" height="2.6" fill="#a80000"/>
<rect x="29.7" y="181.1" width="2.6" height="2.6" fill="#a80000"/>
<rect x="33.5" y="183" width="2.2" height="2.2" fill="#ff5400"/>
<rect x="34.9" y="183.6" width="2.2" height="2.2" fill="#ff5400"/>
<rect x="36.3" y="184.1" width="2.2" height="2.2" fill="#ffa900"/>
<rect x="37.7" y="184.7" width="2.2" height="2.2" fill="#ffa900"/>
<rect x="39.1" y="185.2" width="2.2" height="2.2" fill="#ffff00"/>
<rect x="33.9" y="183.1" width="2.2" height="2.2" fill="#ffa900"/>
<rect x="35.5" y="183.7" width="2.2" height="2.2" fill="#ffff00"/>
<rect x="37.1" y="184.3" width="2.2" height="2.2" fill="#fe0000"/>
<rect x="38.9" y="185.1" width="2.2" height="2.2" fill="#ffa900"/>
<rect x="44.6" y="187.2" width="2.8" height="2.8" fill="#ffff00"/>
<rect x="46.2" y="188" width="2.2" height="2.2" fill="#fe0000"/>
<circle cx="49.4" cy="190" r="1" fill="#00ffff"/>
<circle cx="51.5" cy="191.2" r="0.9" fill="#00a9ff"/>
<circle cx="55" cy="193" r="2.6" fill="#0054ff"/>
<circle cx="58" cy="194.4" r="1.7" fill="#0054ff"/>
<circle cx="60.2" cy="195.4" r="1.2" fill="#0000fe"/>
<rect x="60.5" y="199.6" width="3.8" height="3.8" fill="#a80000"/>
<rect x="66.3" y="214.3" width="4.6" height="4.6" fill="#55ffaa"/>
<rect x="67.6" y="215.3" width="4.6" height="4.6" fill="#55ffaa"/>
<rect x="69" y="216.3" width="4.6" height="4.6" fill="#55ffaa"/>
<rect x="70.4" y="217.3" width="4.6" height="4.6" fill="#55ffaa"/>
<rect x="71.7" y="218.3" width="4.6" height="4.6" fill="#aaff55"/>
<rect x="71.7" y="218.3" width="4.6" height="4.6" fill="#aaff55"/>
<rect x="72.9" y="219.2" width="4.6" height="4.6" fill="#55ffaa"/>
<rect x="74.1" y="220.1" width="4.6" height="4.6" fill="#55ffaa"/>
<rect x="75.3" y="220.9" width="4.6" height="4.6" fill="#55ffaa"/>
<rect x="76.5" y="221.8" width="4.6" height="4.6" fill="#55ffaa"/>
<rect x="77.7" y="222.7" width="4.6" height="4.6" fill="#55ffaa"/>
<rect x="72.9" y="220.1" width="3" height="3" fill="#ff5400"/>
<rect x="77.7" y="222.7" width="4.6" height="4.6" fill="#55ffaa"/>
<rect x="79" y="223.6" width="4.6" height="4.6" fill="#00ffff"/>
<rect x="80.2" y="224.4" width="4.6" height="4.6" fill="#00ffff"/>
<rect x="81.5" y="225.3" width="4.6" height="4.6" fill="#00ffff"/>
<rect x="82.7" y="226.2" width="4.6" height="4.6" fill="#00ffff"/>
<rect x="84" y="227.1" width="4.6" height="4.6" fill="#00ffff"/>
<rect x="85.2" y="227.9" width="4.6" height="4.6" fill="#00ffff"/>
<rect x="86.5" y="228.8" width="4.6" height="4.6" fill="#00ffff"/>
<rect x="87.7" y="229.7" width="4.6" height="4.6" fill="#00ffff"/>
<rect x="88.7" y="230.7" width="4.6" height="4.6" fill="#00a9ff"/>
<rect x="89.9" y="231.7" width="4.6" height="4.6" fill="#00a9ff"/>
<rect x="91.1" y="232.7" width="4.6" height="4.6" fill="#00a9ff"/>
<rect x="92.3" y="233.7" width="4.6" height="4.6" fill="#0054ff"/>
<rect x="93.5" y="234.7" width="4.6" height="4.6" fill="#0054ff"/>
<rect x="94.7" y="235.7" width="4.6" height="4.6" fill="#0054ff"/>
<rect x="94.8" y="235.8" width="4.4" height="4.4" fill="#0054ff"/>
<rect x="96.1" y="236.3" width="4.4" height="4.4" fill="#0054ff"/>
<rect x="97.5" y="236.9" width="4.4" height="4.4" fill="#0054ff"/>
<rect x="98.8" y="237.4" width="4.4" height="4.4" fill="#0054ff"/>
<rect x="100.1" y="238" width="4.4" height="4.4" fill="#0054ff"/>
<rect x="101.5" y="238.5" width="4.4" height="4.4" fill="#0054ff"/>
<rect x="102.8" y="239.1" width="4.4" height="4.4" fill="#0054ff"/>
<rect x="104.1" y="239.6" width="4.4" height="4.4" fill="#0054ff"/>
<rect x="105.5" y="240.1" width="4.4" height="4.4" fill="#0054ff"/>
<rect x="106.8" y="240.7" width="4.4" height="4.4" fill="#0054ff"/>
<rect x="108.1" y="241.2" width="4.4" height="4.4" fill="#0054ff"/>
<rect x="109.5" y="241.8" width="4.4" height="4.4" fill="#0054ff"/>
<rect x="110.8" y="242.3" width="4.4" height="4.4" fill="#0054ff"/>
<rect x="100.1" y="239.4" width="2.4" height="2.4" fill="#0054ff"/>
<rect x="109.1" y="242.2" width="2.4" height="2.4" fill="#0054ff"/>
<rect x="113.3" y="244" width="2" height="2" fill="#a80000"/>
<rect x="113.3" y="243.8" width="4.4" height="4.4" fill="#0054ff"/>
<rect x="115.8" y="244.8" width="4.4" height="4.4" fill="#0054ff"/>
<rect x="115.8" y="244.8" width="4.4" height="4.4" fill="#0054ff"/>
<rect x="117.1" y="245.4" width="4.4" height="4.4" fill="#0054ff"/>
<rect x="118.4" y="245.9" width="4.4" height="4.4" fill="#0054ff"/>
<rect x="119.7" y="246.5" width="4.4" height="4.4" fill="#0054ff"/>
<rect x="120.9" y="247.1" width="4.4" height="4.4" fill="#0054ff"/>
<rect x="122.2" y="247.7" width="4.4" height="4.4" fill="#0054ff"/>
<rect x="123.5" y="248.2" width="4.4" height="4.4" fill="#0054ff"/>
<rect x="124.8" y="248.8" width="4.4" height="4.4" fill="#0054ff"/>
<rect x="121.5" y="247.7" width="3" height="3" fill="#0054ff"/>
<circle cx="130" cy="253" r="1.2" fill="#00ffff"/>
<circle cx="132.6" cy="254.3" r="1.2" fill="#00ffff"/>
<rect x="133" y="253.2" width="4" height="4" fill="#00ffff"/>
<rect x="134.5" y="253.9" width="4" height="4" fill="#00ffff"/>
<rect x="136" y="254.6" width="4" height="4" fill="#00ffff"/>
<rect x="136" y="254.6" width="4" height="4" fill="#00a9ff"/>
<rect x="137.4" y="255.1" width="4" height="4" fill="#00a9ff"/>
<rect x="138.8" y="255.6" width="4" height="4" fill="#00a9ff"/>
<rect x="140.2" y="256" width="4" height="4" fill="#00a9ff"/>
<rect x="141.6" y="256.5" width="4" height="4" fill="#00a9ff"/>
<rect x="143" y="257" width="4" height="4" fill="#00a9ff"/>
<rect x="138.5" y="255.9" width="3" height="3" fill="#00a9ff"/>
<rect x="144.1" y="257" width="4.8" height="4.8" fill="#00ffff"/>
<rect x="145.8" y="257.5" width="4.8" height="4.8" fill="#00ffff"/>
<rect x="147.4" y="258" width="4.8" height="4.8" fill="#00ffff"/>
<rect x="149.1" y="258.5" width="4.8" height="4.8" fill="#00ffff"/>
<rect x="150.4" y="260" width="2.4" height="2.4" fill="#ffff00"/>
<rect x="152" y="260.2" width="2.4" height="2.4" fill="#a80000"/>
<circle cx="161" cy="260.2" r="1" fill="#00ffff"/>
<rect x="161.8" y="258.3" width="2.4" height="2.4" fill="#ffff00"/>
<circle cx="165" cy="259" r="1" fill="#55ffaa"/>
<circle cx="172" cy="257.3" r="1" fill="#00ffff"/>
<rect x="172.8" y="255.4" width="2.4" height="2.4" fill="#00a9ff"/>
<circle cx="176" cy="256" r="1" fill="#00ffff"/>
<circle cx="183.5" cy="252.6" r="1" fill="#00ffff"/>
<circle cx="185.6" cy="251.5" r="1.1" fill="#ffff00"/>
<circle cx="195" cy="246.4" r="1.3" fill="#a80000"/>
<circle cx="197" cy="245.3" r="1" fill="#aaff55"/>
<circle cx="200.5" cy="242.8" r="0.9" fill="#00ffff"/>
<circle cx="204" cy="240.4" r="1.2" fill="#a80000"/>
<circle cx="209" cy="235.5" r="2.5" fill="#ffa900"/>
<path d="M31.9 182.1l3 3m0 -3l-3 3" stroke="#111" stroke-width="0.55" fill="none"/>
<path d="M60.5 194.9l3 3m0 -3l-3 3" stroke="#111" stroke-width="0.55" fill="none"/>
<path d="M65.5 212.5l3 3m0 -3l-3 3" stroke="#111" stroke-width="0.55" fill="none"/>
<path d="M126.5 249.9l3 3m0 -3l-3 3" stroke="#111" stroke-width="0.55" fill="none"/>
<path d="M155.9 259.6l3 3m0 -3l-3 3" stroke="#111" stroke-width="0.55" fill="none"/>
<path d="M188.1 248.3l3 3m0 -3l-3 3" stroke="#111" stroke-width="0.55" fill="none"/>
<text x="36.8" y="182" font-size="5.2" fill="#1a1a1a" textLength="26.2" lengthAdjust="spacingAndGlyphs">2023-05-15</text>
<text x="33.2" y="200.4" font-size="5.2" fill="#1a1a1a" textLength="26.2" lengthAdjust="spacingAndGlyphs">2023-05-12</text>
<text x="40" y="216.8" font-size="5.2" fill="#1a1a1a" textLength="26.2" lengthAdjust="spacingAndGlyphs">2023-05-09</text>
<text x="54" y="233.8" font-size="5.2" fill="#1a1a1a" textLength="26.2" lengthAdjust="spacingAndGlyphs">2023-05-06</text>
<text x="77" y="245.8" font-size="5.2" fill="#1a1a1a" textLength="26.2" lengthAdjust="spacingAndGlyphs">2023-05-03</text>
<text x="101" y="257.2" font-size="5.2" fill="#1a1a1a" textLength="26.2" lengthAdjust="spacingAndGlyphs">2023-04-30</text>
<text x="131" y="267.8" font-size="5.2" fill="#1a1a1a" textLength="26.2" lengthAdjust="spacingAndGlyphs">2023-04-27</text>
<text x="162" y="248.6" font-size="5.2" fill="#1a1a1a" textLength="26.2" lengthAdjust="spacingAndGlyphs">2023-04-24</text>
<text x="180" y="236.8" font-size="5.2" fill="#1a1a1a" textLength="26.2" lengthAdjust="spacingAndGlyphs">2023-04-21</text>
<path d="M51.6 232.6h2.2" stroke="#222" stroke-width="0.5"/>
</g>
<rect x="20.6" y="152" width="199.8" height="129" fill="none" stroke="#8a8a8a" stroke-width="0.5"/>
<text x="24" y="287.8" font-size="4.6" fill="#444" text-anchor="middle">-60°</text>
<text x="48" y="287.8" font-size="4.6" fill="#444" text-anchor="middle">-45°</text>
<text x="72" y="287.8" font-size="4.6" fill="#444" text-anchor="middle">-30°</text>
<text x="96" y="287.8" font-size="4.6" fill="#444" text-anchor="middle">-15°</text>
<text x="120" y="287.8" font-size="4.6" fill="#444" text-anchor="middle">0°</text>
<text x="144" y="287.8" font-size="4.6" fill="#444" text-anchor="middle">15°</text>
<text x="168" y="287.8" font-size="4.6" fill="#444" text-anchor="middle">30°</text>
<text x="192" y="287.8" font-size="4.6" fill="#444" text-anchor="middle">45°</text>
<text x="216" y="287.8" font-size="4.6" fill="#444" text-anchor="middle">60°</text>
<text x="18.6" y="177.8" font-size="4.6" fill="#444" text-anchor="end">15°</text>
<text x="18.6" y="202.6" font-size="4.6" fill="#444" text-anchor="end">0°</text>
<text x="18.6" y="227.3" font-size="4.6" fill="#444" text-anchor="end">-15°</text>
<text x="18.6" y="253.9" font-size="4.6" fill="#444" text-anchor="end">-30°</text>
<text x="120.5" y="294.6" font-size="5.2" fill="#444" text-anchor="middle">Longitude</text>
<text x="9.6" y="217" font-size="5.0" fill="#444" text-anchor="middle" transform="rotate(-90 9.6 217)">Latitude</text>
<path d="M27 179.2C26.3 177 24.4 175.9 24.4 174A2.6 2.6 0 1 1 29.6 174C29.6 175.9 27.7 177 27 179.2Z" fill="#e3141c"/>
<circle cx="27" cy="174" r="1.25" fill="#fff"/>
<path d="M66 212.2C65.3 210 63.4 208.9 63.4 207A2.6 2.6 0 1 1 68.6 207C68.6 208.9 66.7 210 66 212.2Z" fill="#e3141c"/>
<circle cx="66" cy="207" r="1.25" fill="#fff"/>
<path d="M210 233.4C209.3 231.2 207.4 230.1 207.4 228.2A2.6 2.6 0 1 1 212.6 228.2C212.6 230.1 210.7 231.2 210 233.4Z" fill="#e3141c"/>
<circle cx="210" cy="228.2" r="1.25" fill="#fff"/>
<text x="27.2" y="163.6" font-size="11.6" fill="#000" font-weight="bold" textLength="14.4" lengthAdjust="spacingAndGlyphs" stroke="#000" stroke-width="0.25">(b)</text>
<text x="30" y="173.3" font-size="8.4" fill="#e3141c" textLength="36" lengthAdjust="spacingAndGlyphs" stroke="#e3141c" stroke-width="0.3">Barbados</text>
<text x="70" y="208.4" font-size="8.4" fill="#e3141c" textLength="22.6" lengthAdjust="spacingAndGlyphs" stroke="#e3141c" stroke-width="0.3">Recife</text>
<text x="172" y="223.8" font-size="8.4" fill="#e3141c" textLength="43" lengthAdjust="spacingAndGlyphs" stroke="#e3141c" stroke-width="0.3">La Réunion</text>
<rect x="160.4" y="156.4" width="53.6" height="51.5" fill="#fff" stroke="#6b2fa0" stroke-width="1.35"/>
<text x="165" y="166.4" font-size="8.2" fill="#6b2fa0" font-weight="bold" textLength="41.6" lengthAdjust="spacingAndGlyphs" stroke="#6b2fa0" stroke-width="0.15">Photometer</text>
<circle cx="211.9" cy="163.9" r="5.1" fill="#6b2fa0"/>
<text x="211.9" y="166.8" font-size="8.2" fill="#fff" text-anchor="middle" font-weight="bold">B</text>
<circle cx="166.6" cy="173.2" r="1.3" fill="#fff" stroke="#3a4a7a" stroke-width="0.6"/>
<circle cx="166.6" cy="182.2" r="2.4" fill="#fff" stroke="#3a4a7a" stroke-width="0.6"/>
<rect x="165.6" y="190.5" width="2.6" height="2.6" fill="#fff" stroke="#222" stroke-width="0.6"/>
<rect x="164.3" y="198.5" width="5" height="5" fill="#fff" stroke="#222" stroke-width="0.6"/>
<text x="171.2" y="176" font-size="7.5" fill="#111" textLength="19.2" lengthAdjust="spacingAndGlyphs" stroke="#111" stroke-width="0.1">Sun L1</text>
<text x="171.2" y="184.6" font-size="7.5" fill="#111" textLength="25" lengthAdjust="spacingAndGlyphs" stroke="#111" stroke-width="0.1">Sun L1.5</text>
<text x="171.2" y="194" font-size="7.5" fill="#111" textLength="25.8" lengthAdjust="spacingAndGlyphs" stroke="#111" stroke-width="0.1">Moon L1</text>
<text x="171.2" y="203.4" font-size="7.5" fill="#111" textLength="31.8" lengthAdjust="spacingAndGlyphs" stroke="#111" stroke-width="0.1">Moon L1.5</text>
<rect x="222.4" y="270.2" width="6.2" height="10.9" fill="#0000a8"/>
<rect x="222.4" y="259.5" width="6.2" height="10.9" fill="#0000fe"/>
<rect x="222.4" y="248.8" width="6.2" height="10.9" fill="#0054ff"/>
<rect x="222.4" y="238" width="6.2" height="10.9" fill="#00a9ff"/>
<rect x="222.4" y="227.2" width="6.2" height="10.9" fill="#00ffff"/>
<rect x="222.4" y="216.5" width="6.2" height="10.9" fill="#55ffaa"/>
<rect x="222.4" y="205.8" width="6.2" height="10.9" fill="#aaff55"/>
<rect x="222.4" y="195" width="6.2" height="10.9" fill="#ffff00"/>
<rect x="222.4" y="184.2" width="6.2" height="10.9" fill="#ffa900"/>
<rect x="222.4" y="173.5" width="6.2" height="10.9" fill="#ff5400"/>
<rect x="222.4" y="162.8" width="6.2" height="10.9" fill="#fe0000"/>
<rect x="222.4" y="152" width="6.2" height="10.9" fill="#a80000"/>
<rect x="222.4" y="152" width="6.2" height="129" fill="none" stroke="#555" stroke-width="0.4"/>
<text x="231.2" y="283.5" font-size="7.0" fill="#333">0</text>
<path d="M228.6 281h-1.2" stroke="#333" stroke-width="0.4"/>
<text x="231.2" y="262" font-size="7.0" fill="#333">0.04</text>
<path d="M228.6 259.5h-1.2" stroke="#333" stroke-width="0.4"/>
<text x="231.2" y="240.5" font-size="7.0" fill="#333">0.08</text>
<path d="M228.6 238h-1.2" stroke="#333" stroke-width="0.4"/>
<text x="231.2" y="219" font-size="7.0" fill="#333">0.12</text>
<path d="M228.6 216.5h-1.2" stroke="#333" stroke-width="0.4"/>
<text x="231.2" y="197.5" font-size="7.0" fill="#333">0.16</text>
<path d="M228.6 195h-1.2" stroke="#333" stroke-width="0.4"/>
<text x="231.2" y="176" font-size="7.0" fill="#333">0.2</text>
<path d="M228.6 173.5h-1.2" stroke="#333" stroke-width="0.4"/>
<text x="231.2" y="154.5" font-size="7.0" fill="#333">0.24</text>
<path d="M228.6 152h-1.2" stroke="#333" stroke-width="0.4"/>
<text x="251.6" y="216.5" font-size="7.0" fill="#333" text-anchor="middle" transform="rotate(-90 251.6 216.5)">AOD(440)</text>
<g clip-path="url(#cpc)">
<rect x="263" y="152" width="201.5" height="129" fill="#b6e0f7"/>
<ellipse cx="315.6" cy="170.9" rx="22" ry="16" fill="#a7d7f3" opacity="0.55" filter="url(#bl2)"/>
<ellipse cx="334.9" cy="242.9" rx="28" ry="20" fill="#a7d7f3" opacity="0.6" filter="url(#bl2)"/>
<ellipse cx="302.8" cy="255.9" rx="18" ry="12" fill="#a7d7f3" opacity="0.5" filter="url(#bl2)"/>
<ellipse cx="371.8" cy="267.8" rx="40" ry="10" fill="#a7d7f3" opacity="0.5" filter="url(#bl2)"/>
<ellipse cx="452" cy="213.8" rx="16" ry="22" fill="#a7d7f3" opacity="0.55" filter="url(#bl2)"/>
<ellipse cx="447.2" cy="267.8" rx="22" ry="10" fill="#a7d7f3" opacity="0.5" filter="url(#bl2)"/>
<ellipse cx="347.7" cy="208.9" rx="14" ry="10" fill="#a7d7f3" opacity="0.35" filter="url(#bl2)"/>
<ellipse cx="368.6" cy="220.5" rx="8" ry="14" fill="#a7d7f3" opacity="0.3" filter="url(#bl2)"/>
<path d="M267.5 152V281M291.6 152V281M315.6 152V281M339.7 152V281M363.8 152V281M387.8 152V281M411.9 152V281M435.9 152V281M460 152V281M263 176H464.5M263 200.8H464.5M263 225.5H464.5M263 252.1H464.5" stroke="#8fbfdd" stroke-width="0.3" stroke-opacity="0.7" fill="none"/>
<g filter="url(#bl1)" opacity="0.8" fill="none" stroke="#d6f0fc" stroke-width="3.2"><polygon points="251.5,181 257.9,183.4 261.1,183.5 263.5,183.2 265.9,183.9 267.5,186.8 269.9,189.3 272.3,191 275.5,191 278.7,191.8 280.8,193.4 281.9,195.9 283.6,197.8 282.7,200.8 286,201.7 287.6,201.7 290,202.4 292.4,204.3 294,204.7 296.4,205.3 299.6,205.3 302,206.8 304.4,208.6 307.1,209.2 307.9,212.2 307.8,214 306.8,216.3 304.4,218.8 302,222.1 301.2,225.5 301.2,229.7 300.1,233.2 299.1,234.6 298,237.5 296.4,239.3 294.5,239.3 292.1,239.8 289.5,241.1 286.8,243.4 285.8,245.6 285.8,248.9 283.9,251.1 281.9,253.9 280,256.2 277.9,259.7 275.7,261.5 273.6,261.5 271,260.5 270.1,259.7 272,262.7 272.8,264.7 271.5,267.8 269.1,269.3 265.1,269.9 264,270.9 263.8,274.1 261.9,274.6 259.5,274.1 259.5,278.5 261.1,277.4 259,283.1 256.3,285.4 251.5,285.4 251.5,295.1 243.4,295.1 243.4,181"/><polygon points="348,147.6 347.7,151.3 345.3,153.2 342.9,153.7 340.5,156.8 338.1,160.4 336.5,164.9 337.6,169.2 337.3,174.3 335.7,176.5 337,180.2 339.7,182.7 341.8,185.2 342.9,187.2 345.3,189.6 349.3,192.6 351.7,193.6 355.7,192.4 358.9,192.4 360.5,192.9 363.8,191.4 365.7,190.8 369.2,190.3 371.8,191.3 373.4,193.7 375.8,193.4 377.4,193.2 379,194.6 379.5,196.7 379,199.1 378.7,200.8 377.9,201.9 379,204 381.4,207.3 383,209.7 383.5,210.7 384.9,215.2 385.9,218.3 385.2,221.3 383.5,223.8 382.7,228 382.7,230.6 384.3,232.3 387,238.4 387.8,242.9 388.1,246.5 390.2,249.4 391.5,253 392.9,255.9 393.3,259.5 394.2,260.5 395.8,261.3 399,259.9 401.4,259.7 405,259.7 407.1,258.8 408.7,257.4 411.9,253.9 413.5,251.9 415.6,249.6 416.5,245.6 416,244.5 417.5,242.9 420.4,241.1 420.7,237.5 419.6,234 422.3,231.4 424.7,229.2 427.9,227.2 429,224.6 428.7,221.3 428.6,218 427.4,215.5 426.8,212.2 426,210.5 426.6,208.4 428.2,204.8 430.3,203.2 432.7,199.9 435.1,198.3 437.5,196.7 440.7,193.4 443.1,189.3 444.8,186 445.9,183.5 446,181.4 443.9,181.7 440.7,182.4 437.5,183.2 435.1,183.7 433.2,181.9 432.7,179.9 431.1,177.7 428.7,176 427.1,174.3 426,170.9 423.6,166.6 423.1,164 421,160.4 419.1,155.9 417.5,153.2 415.9,149.6 415.9,147.6 419.7,147.6 419.7,150.4"/><polygon points="419.7,147.6 419.7,150.4 419.9,153.2 423.1,157.7 425.5,161.3 426.6,164.9 428.7,168.3 431.1,172.6 432.4,176 433.2,179.4 433.5,179.9 435.9,179.7 439.1,178.5 442.3,176.9 447.2,174.3 450.4,172.6 452.5,171.8 454.4,170.1 456.3,168.3 458.1,165.7 459.7,163.1 457.6,161 455.2,159.5 454.2,156.3 453.6,156.8 452,158.1 448.8,160.1 446.5,159.9 446.4,157.2 445.2,157.7 444.3,155.9 442.3,153.5 440.7,150.4 441.5,148.5 443.9,149.4 445.6,153.2 448.8,155.4 452,155 454.4,154.6 456,157.4 460,158.1 464.5,158.3 469.6,157.9 469.6,147.6"/><polygon points="442.8,220.5 444.3,225.5 444.8,226.3 443.6,228.9 443,230.6 442,234.9 440.7,238.4 439.5,242.7 436.7,243.9 434.3,242.9 433.2,238.4 433.5,236.6 434.8,234 434.6,229.7 435.1,227.5 438.3,226.3 440.4,224.6 442,222.1"/></g>
<g stroke="#c9cfcf" stroke-width="0.35" fill="#f5f4ee"><polygon points="251.5,181 257.9,183.4 261.1,183.5 263.5,183.2 265.9,183.9 267.5,186.8 269.9,189.3 272.3,191 275.5,191 278.7,191.8 280.8,193.4 281.9,195.9 283.6,197.8 282.7,200.8 286,201.7 287.6,201.7 290,202.4 292.4,204.3 294,204.7 296.4,205.3 299.6,205.3 302,206.8 304.4,208.6 307.1,209.2 307.9,212.2 307.8,214 306.8,216.3 304.4,218.8 302,222.1 301.2,225.5 301.2,229.7 300.1,233.2 299.1,234.6 298,237.5 296.4,239.3 294.5,239.3 292.1,239.8 289.5,241.1 286.8,243.4 285.8,245.6 285.8,248.9 283.9,251.1 281.9,253.9 280,256.2 277.9,259.7 275.7,261.5 273.6,261.5 271,260.5 270.1,259.7 272,262.7 272.8,264.7 271.5,267.8 269.1,269.3 265.1,269.9 264,270.9 263.8,274.1 261.9,274.6 259.5,274.1 259.5,278.5 261.1,277.4 259,283.1 256.3,285.4 251.5,285.4 251.5,295.1 243.4,295.1 243.4,181"/><polygon points="348,147.6 347.7,151.3 345.3,153.2 342.9,153.7 340.5,156.8 338.1,160.4 336.5,164.9 337.6,169.2 337.3,174.3 335.7,176.5 337,180.2 339.7,182.7 341.8,185.2 342.9,187.2 345.3,189.6 349.3,192.6 351.7,193.6 355.7,192.4 358.9,192.4 360.5,192.9 363.8,191.4 365.7,190.8 369.2,190.3 371.8,191.3 373.4,193.7 375.8,193.4 377.4,193.2 379,194.6 379.5,196.7 379,199.1 378.7,200.8 377.9,201.9 379,204 381.4,207.3 383,209.7 383.5,210.7 384.9,215.2 385.9,218.3 385.2,221.3 383.5,223.8 382.7,228 382.7,230.6 384.3,232.3 387,238.4 387.8,242.9 388.1,246.5 390.2,249.4 391.5,253 392.9,255.9 393.3,259.5 394.2,260.5 395.8,261.3 399,259.9 401.4,259.7 405,259.7 407.1,258.8 408.7,257.4 411.9,253.9 413.5,251.9 415.6,249.6 416.5,245.6 416,244.5 417.5,242.9 420.4,241.1 420.7,237.5 419.6,234 422.3,231.4 424.7,229.2 427.9,227.2 429,224.6 428.7,221.3 428.6,218 427.4,215.5 426.8,212.2 426,210.5 426.6,208.4 428.2,204.8 430.3,203.2 432.7,199.9 435.1,198.3 437.5,196.7 440.7,193.4 443.1,189.3 444.8,186 445.9,183.5 446,181.4 443.9,181.7 440.7,182.4 437.5,183.2 435.1,183.7 433.2,181.9 432.7,179.9 431.1,177.7 428.7,176 427.1,174.3 426,170.9 423.6,166.6 423.1,164 421,160.4 419.1,155.9 417.5,153.2 415.9,149.6 415.9,147.6 419.7,147.6 419.7,150.4"/><polygon points="419.7,147.6 419.7,150.4 419.9,153.2 423.1,157.7 425.5,161.3 426.6,164.9 428.7,168.3 431.1,172.6 432.4,176 433.2,179.4 433.5,179.9 435.9,179.7 439.1,178.5 442.3,176.9 447.2,174.3 450.4,172.6 452.5,171.8 454.4,170.1 456.3,168.3 458.1,165.7 459.7,163.1 457.6,161 455.2,159.5 454.2,156.3 453.6,156.8 452,158.1 448.8,160.1 446.5,159.9 446.4,157.2 445.2,157.7 444.3,155.9 442.3,153.5 440.7,150.4 441.5,148.5 443.9,149.4 445.6,153.2 448.8,155.4 452,155 454.4,154.6 456,157.4 460,158.1 464.5,158.3 469.6,157.9 469.6,147.6"/><polygon points="442.8,220.5 444.3,225.5 444.8,226.3 443.6,228.9 443,230.6 442,234.9 440.7,238.4 439.5,242.7 436.7,243.9 434.3,242.9 433.2,238.4 433.5,236.6 434.8,234 434.6,229.7 435.1,227.5 438.3,226.3 440.4,224.6 442,222.1"/></g>
<g clip-path="url(#landc)">
<ellipse cx="395.8" cy="200.8" rx="24" ry="14" fill="#dfead2" opacity="0.7" filter="url(#bl2)"/>
<ellipse cx="360.5" cy="189.3" rx="14" ry="5" fill="#dfead2" opacity="0.6" filter="url(#bl2)"/>
<ellipse cx="273.9" cy="204" rx="14" ry="16" fill="#dfead2" opacity="0.6" filter="url(#bl2)"/>
<ellipse cx="416.7" cy="222.1" rx="10" ry="12" fill="#dfead2" opacity="0.5" filter="url(#bl2)"/>
<ellipse cx="286.8" cy="237.5" rx="8" ry="10" fill="#dfead2" opacity="0.4" filter="url(#bl2)"/>
<ellipse cx="439.1" cy="232.3" rx="4" ry="10" fill="#dfead2" opacity="0.5" filter="url(#bl2)"/>
<path d="M336.5 165.2L342.9 165.2L342.9 161.3L344.5 156.8L349.8 154.1L349.8 151.3M349.8 154.5L356.1 158.6L365.4 165.7L369.4 169.2L370.5 173.5L368.6 175.2L364.6 176L358.9 177.7L355.2 181L354.9 183.7M370.5 168.9L383 161.3L387.8 162.2L402.2 168.3L402.2 151.3M387.8 162.2L389.4 167.5L388.6 173.5L385.4 178.5L387.8 184.4L386.2 189.3L389.4 196.7L393.4 195L399 193.4L407.1 192.6L412.7 194.6L413.5 197.5M402.2 168.3L402.2 175.2L399.8 179.4L399.8 183.5L402.2 186.8L407.1 192.6M402.2 164L423.1 164M417.5 164L422.3 176.9L418.3 186L418.3 193.4L413.5 194.9M418.3 193.4L429.5 194.2L431.1 202.4L429.2 204M418.3 193.4L418.3 202.4L423.9 205.6L426.6 208.4M411.1 202.7L412.7 204.8L410.7 208.1L413 214.2L416.7 216.3L419.1 219.6L428.6 218M383.5 210.5L390.2 210.5L391 213.8L395.8 212.2L399 218.8L402.2 218.8L402.2 222.1L399 222.1L399 229.7L404.3 230.2M382.7 229.4L386.2 229.6L393.4 229.6L400.6 230.2L404.3 230.2L410.3 227.2L412.5 226.7L416.7 223.8L419.1 219.6M395.8 237.5L395.8 249.2L391 249.2L390.2 249.4M395.8 237.5L397.4 230.6L404.3 230.2L407.9 235.8L410.9 237.9L414 238.2L415.1 244.7L416.5 246.1M395.8 242.5L399.8 243.8L404.7 243.9L407.1 240.2L410.9 237.9M414 238.2L416.7 233.2L416.7 228.4L412.5 226.7M272 191L270.7 194.2L273.1 197.5L276.3 197L277.1 191.4M276.3 197L279.5 197.2L281 193.9M267.5 192.3L266.7 195.9L269.1 198.6L273.1 197.5M271.4 252.4L273.9 253.6L278.1 259.2M270.4 234L270.7 237.5L274.4 238.1L276.7 241.1L276.2 243.9L277.5 246.9L271.4 252.4L269.9 247L271.4 243.9L270.4 234M276.2 243.9L269.9 247M266.7 223.3L270.4 227.7L270.4 234M264.3 237.5L263.3 238.1M434.3 180L435.9 172.6L440.7 170.1L447.2 169.2L452 167.5L452.9 164L452.3 162.7L448.1 162.4L445.6 159.4M447.2 169.2L448.8 173.3M452 167.5L455.2 158.8M429.5 194.2L435.9 192.6L440.7 187.7L439.1 187.7L432.7 185.5L431.9 182.4" stroke="#c4c4c0" stroke-width="0.35" fill="none"/>
</g>
<ellipse cx="416.7" cy="202.4" rx="1.6" ry="2" fill="#bfe5f9"/>
<rect x="264" y="268.8" width="29.5" height="5.6" fill="#eef7fc" fill-opacity="0.75" stroke="#9aa7ae" stroke-width="0.4"/>
<rect x="264" y="275.0" width="23.5" height="5.3" fill="#eef7fc" fill-opacity="0.75" stroke="#9aa7ae" stroke-width="0.4"/>
<text x="265.4" y="273.2" font-size="3.6" fill="#333">2000 km</text>
<text x="265.4" y="279.2" font-size="3.6" fill="#333">1000 mi</text>
<rect x="420" y="277.6" width="44.5" height="3.4" fill="#fff" fill-opacity="0.7"/>
<text x="421" y="280.3" font-size="2.3" fill="#444">Esri, TomTom, Garmin, FAO, NOAA, USGS</text>
<polyline points="270.7,180.2 273,181.8 276.9,183.6 281.5,185.4 286.6,187.6 292.6,190 298.6,193 301.6,194.4 305.6,196.4 306.2,198.5 306,201.5 307.1,205 308.6,209.5 309.6,212 310.6,214 312.1,216.5 318,221 323.6,225 328.7,228.6 333.7,232 338.7,236.4 343.7,240 349.7,242.4 356.7,244.5 363.8,247.6 370.8,251 373.8,253 378.8,255.2 381.8,256.6 388.8,259 395.8,261 401.2,261.1 406.9,259.6 411.9,258.4 417.9,256.7 423.9,254.2 429.5,251.6 433.3,250 438.9,246.4 442.9,243.8 448,240.4 453,235.6" fill="none" stroke="#222" stroke-width="0.5"/>
<rect x="269.9" y="179.4" width="3.2" height="3.2" fill="#0bf4ff"/>
<rect x="271.8" y="180.5" width="2.6" height="2.6" fill="#11eeff"/>
<rect x="273.2" y="181.1" width="2.6" height="2.6" fill="#15eaff"/>
<rect x="277" y="183" width="2.2" height="2.2" fill="#20dfff"/>
<rect x="278.4" y="183.6" width="2.2" height="2.2" fill="#23dcff"/>
<rect x="279.8" y="184.1" width="2.2" height="2.2" fill="#25daff"/>
<rect x="281.2" y="184.7" width="2.2" height="2.2" fill="#28d7ff"/>
<rect x="282.7" y="185.2" width="2.2" height="2.2" fill="#2bd4ff"/>
<rect x="277.4" y="183.1" width="2.2" height="2.2" fill="#15eaff"/>
<rect x="279" y="183.7" width="2.2" height="2.2" fill="#1ae6ff"/>
<rect x="280.6" y="184.3" width="2.2" height="2.2" fill="#20dfff"/>
<rect x="282.4" y="185.1" width="2.2" height="2.2" fill="#2bd4ff"/>
<rect x="288.2" y="187.2" width="2.8" height="2.8" fill="#609fff"/>
<rect x="289.8" y="188" width="2.2" height="2.2" fill="#6a95ff"/>
<circle cx="293" cy="190" r="1" fill="#758aff"/>
<circle cx="295.1" cy="191.2" r="0.9" fill="#8080ff"/>
<circle cx="298.6" cy="193" r="2.6" fill="#f40bff"/>
<circle cx="301.6" cy="194.4" r="1.7" fill="#956aff"/>
<circle cx="303.8" cy="195.4" r="1.2" fill="#8080ff"/>
<rect x="304.1" y="199.6" width="3.8" height="3.8" fill="#ff00ff"/>
<rect x="309.9" y="214.3" width="4.6" height="4.6" fill="#51aeff"/>
<rect x="311.3" y="215.3" width="4.6" height="4.6" fill="#53acff"/>
<rect x="312.6" y="216.3" width="4.6" height="4.6" fill="#55aaff"/>
<rect x="314" y="217.3" width="4.6" height="4.6" fill="#57a8ff"/>
<rect x="315.3" y="218.3" width="4.6" height="4.6" fill="#59a6ff"/>
<rect x="315.3" y="218.3" width="4.6" height="4.6" fill="#59a6ff"/>
<rect x="316.5" y="219.2" width="4.6" height="4.6" fill="#5da2ff"/>
<rect x="317.7" y="220.1" width="4.6" height="4.6" fill="#609fff"/>
<rect x="318.9" y="220.9" width="4.6" height="4.6" fill="#639cff"/>
<rect x="320.1" y="221.8" width="4.6" height="4.6" fill="#6798ff"/>
<rect x="321.3" y="222.7" width="4.6" height="4.6" fill="#6a95ff"/>
<rect x="316.5" y="220.1" width="3" height="3" fill="#ea15ff"/>
<rect x="321.3" y="222.7" width="4.6" height="4.6" fill="#847bff"/>
<rect x="322.6" y="223.6" width="4.6" height="4.6" fill="#857aff"/>
<rect x="323.9" y="224.4" width="4.6" height="4.6" fill="#8778ff"/>
<rect x="325.1" y="225.3" width="4.6" height="4.6" fill="#8976ff"/>
<rect x="326.4" y="226.2" width="4.6" height="4.6" fill="#8a75ff"/>
<rect x="327.6" y="227.1" width="4.6" height="4.6" fill="#8c73ff"/>
<rect x="328.9" y="227.9" width="4.6" height="4.6" fill="#8d72ff"/>
<rect x="330.1" y="228.8" width="4.6" height="4.6" fill="#8f70ff"/>
<rect x="331.4" y="229.7" width="4.6" height="4.6" fill="#916eff"/>
<rect x="332.4" y="230.7" width="4.6" height="4.6" fill="#847bff"/>
<rect x="333.6" y="231.7" width="4.6" height="4.6" fill="#7f80ff"/>
<rect x="334.8" y="232.7" width="4.6" height="4.6" fill="#7a85ff"/>
<rect x="336" y="233.7" width="4.6" height="4.6" fill="#748bff"/>
<rect x="337.2" y="234.7" width="4.6" height="4.6" fill="#6f90ff"/>
<rect x="338.4" y="235.7" width="4.6" height="4.6" fill="#6a95ff"/>
<rect x="338.5" y="235.8" width="4.4" height="4.4" fill="#59a6ff"/>
<rect x="339.8" y="236.3" width="4.4" height="4.4" fill="#57a8ff"/>
<rect x="341.2" y="236.9" width="4.4" height="4.4" fill="#55aaff"/>
<rect x="342.5" y="237.4" width="4.4" height="4.4" fill="#53acff"/>
<rect x="343.8" y="238" width="4.4" height="4.4" fill="#51aeff"/>
<rect x="345.2" y="238.5" width="4.4" height="4.4" fill="#4fb0ff"/>
<rect x="346.5" y="239.1" width="4.4" height="4.4" fill="#4cb2ff"/>
<rect x="347.8" y="239.6" width="4.4" height="4.4" fill="#4ab5ff"/>
<rect x="349.2" y="240.1" width="4.4" height="4.4" fill="#48b7ff"/>
<rect x="350.5" y="240.7" width="4.4" height="4.4" fill="#46b9ff"/>
<rect x="351.9" y="241.2" width="4.4" height="4.4" fill="#44bbff"/>
<rect x="353.2" y="241.8" width="4.4" height="4.4" fill="#42bdff"/>
<rect x="354.5" y="242.3" width="4.4" height="4.4" fill="#40bfff"/>
<rect x="342.8" y="238.4" width="4.4" height="4.4" fill="#f40bff"/>
<rect x="352" y="241.4" width="4" height="4" fill="#ea15ff"/>
<rect x="357" y="244" width="2" height="2" fill="#9f60ff"/>
<rect x="357" y="243.8" width="4.4" height="4.4" fill="#1ae6ff"/>
<rect x="359.5" y="244.8" width="4.4" height="4.4" fill="#20dfff"/>
<rect x="359.5" y="244.8" width="4.4" height="4.4" fill="#6a95ff"/>
<rect x="360.8" y="245.4" width="4.4" height="4.4" fill="#6e91ff"/>
<rect x="362.1" y="245.9" width="4.4" height="4.4" fill="#728dff"/>
<rect x="363.4" y="246.5" width="4.4" height="4.4" fill="#758aff"/>
<rect x="364.7" y="247.1" width="4.4" height="4.4" fill="#7986ff"/>
<rect x="366" y="247.7" width="4.4" height="4.4" fill="#7c83ff"/>
<rect x="367.3" y="248.2" width="4.4" height="4.4" fill="#807fff"/>
<rect x="368.6" y="248.8" width="4.4" height="4.4" fill="#847bff"/>
<rect x="365.3" y="247.7" width="3" height="3" fill="#aa55ff"/>
<circle cx="373.8" cy="253" r="1.2" fill="#15eaff"/>
<circle cx="376.4" cy="254.3" r="1.2" fill="#1ae6ff"/>
<rect x="376.8" y="253.2" width="4" height="4" fill="#15eaff"/>
<rect x="378.3" y="253.9" width="4" height="4" fill="#15eaff"/>
<rect x="379.8" y="254.6" width="4" height="4" fill="#15eaff"/>
<rect x="379.8" y="254.6" width="4" height="4" fill="#15eaff"/>
<rect x="381.2" y="255.1" width="4" height="4" fill="#24dbff"/>
<rect x="382.6" y="255.6" width="4" height="4" fill="#33ccff"/>
<rect x="384" y="256" width="4" height="4" fill="#42bdff"/>
<rect x="385.4" y="256.5" width="4" height="4" fill="#51aeff"/>
<rect x="386.8" y="257" width="4" height="4" fill="#609fff"/>
<rect x="382.3" y="255.9" width="3" height="3" fill="#956aff"/>
<rect x="387.9" y="257" width="4.8" height="4.8" fill="#15eaff"/>
<rect x="389.6" y="257.5" width="4.8" height="4.8" fill="#17e8ff"/>
<rect x="391.3" y="258" width="4.8" height="4.8" fill="#18e7ff"/>
<rect x="392.9" y="258.5" width="4.8" height="4.8" fill="#1ae6ff"/>
<rect x="394.2" y="260" width="2.4" height="2.4" fill="#8080ff"/>
<rect x="395.8" y="260.2" width="2.4" height="2.4" fill="#20dfff"/>
<circle cx="404.9" cy="260.2" r="1" fill="#1ae6ff"/>
<rect x="405.7" y="258.3" width="2.4" height="2.4" fill="#1ae6ff"/>
<circle cx="408.9" cy="259" r="1" fill="#1ee1ff"/>
<circle cx="415.9" cy="257.3" r="1" fill="#55aaff"/>
<rect x="416.7" y="255.4" width="2.4" height="2.4" fill="#609fff"/>
<circle cx="419.9" cy="256" r="1" fill="#2bd4ff"/>
<circle cx="427.4" cy="252.6" r="1" fill="#20dfff"/>
<circle cx="429.5" cy="251.5" r="1.1" fill="#1ae6ff"/>
<circle cx="438.9" cy="246.4" r="1.3" fill="#758aff"/>
<circle cx="440.9" cy="245.3" r="1" fill="#6a95ff"/>
<circle cx="444.5" cy="242.8" r="0.9" fill="#1ae6ff"/>
<circle cx="448" cy="240.4" r="1.2" fill="#1ae6ff"/>
<circle cx="453" cy="235.5" r="2.5" fill="#916eff"/>
<path d="M275.4 182.1l3 3m0 -3l-3 3" stroke="#111" stroke-width="0.55" fill="none"/>
<path d="M304.1 194.9l3 3m0 -3l-3 3" stroke="#111" stroke-width="0.55" fill="none"/>
<path d="M309.1 212.5l3 3m0 -3l-3 3" stroke="#111" stroke-width="0.55" fill="none"/>
<path d="M370.3 249.9l3 3m0 -3l-3 3" stroke="#111" stroke-width="0.55" fill="none"/>
<path d="M399.7 259.6l3 3m0 -3l-3 3" stroke="#111" stroke-width="0.55" fill="none"/>
<path d="M432 248.3l3 3m0 -3l-3 3" stroke="#111" stroke-width="0.55" fill="none"/>
<text x="278" y="182.2" font-size="5.2" fill="#1a1a1a" textLength="26.2" lengthAdjust="spacingAndGlyphs">2023-05-15</text>
<text x="277" y="200.4" font-size="5.2" fill="#1a1a1a" textLength="26.2" lengthAdjust="spacingAndGlyphs">2023-05-12</text>
<text x="283" y="216.8" font-size="5.2" fill="#1a1a1a" textLength="26.2" lengthAdjust="spacingAndGlyphs">2023-05-09</text>
<text x="296.2" y="233.4" font-size="5.2" fill="#1a1a1a" textLength="26.2" lengthAdjust="spacingAndGlyphs">2023-05-06</text>
<text x="315" y="245.4" font-size="5.2" fill="#1a1a1a" textLength="26.2" lengthAdjust="spacingAndGlyphs">2023-05-03</text>
<text x="343.2" y="257.8" font-size="5.2" fill="#1a1a1a" textLength="26.2" lengthAdjust="spacingAndGlyphs">2023-04-30</text>
<text x="374.4" y="268.4" font-size="5.2" fill="#1a1a1a" textLength="26.2" lengthAdjust="spacingAndGlyphs">2023-04-27</text>
<text x="405" y="248.4" font-size="5.2" fill="#1a1a1a" textLength="26.2" lengthAdjust="spacingAndGlyphs">2023-04-24</text>
<text x="423" y="237.8" font-size="5.2" fill="#1a1a1a" textLength="26.2" lengthAdjust="spacingAndGlyphs">2023-04-21</text>
<path d="M294.6 233.2h2.2" stroke="#222" stroke-width="0.5"/>
</g>
<rect x="263" y="152" width="201.5" height="129" fill="none" stroke="#8a8a8a" stroke-width="0.5"/>
<text x="267.5" y="287.8" font-size="4.6" fill="#444" text-anchor="middle">-60°</text>
<text x="291.6" y="287.8" font-size="4.6" fill="#444" text-anchor="middle">-45°</text>
<text x="315.6" y="287.8" font-size="4.6" fill="#444" text-anchor="middle">-30°</text>
<text x="339.7" y="287.8" font-size="4.6" fill="#444" text-anchor="middle">-15°</text>
<text x="363.8" y="287.8" font-size="4.6" fill="#444" text-anchor="middle">0°</text>
<text x="387.8" y="287.8" font-size="4.6" fill="#444" text-anchor="middle">15°</text>
<text x="411.9" y="287.8" font-size="4.6" fill="#444" text-anchor="middle">30°</text>
<text x="435.9" y="287.8" font-size="4.6" fill="#444" text-anchor="middle">45°</text>
<text x="460" y="287.8" font-size="4.6" fill="#444" text-anchor="middle">60°</text>
<text x="261" y="177.8" font-size="4.6" fill="#444" text-anchor="end">15°</text>
<text x="261" y="202.6" font-size="4.6" fill="#444" text-anchor="end">0°</text>
<text x="261" y="227.3" font-size="4.6" fill="#444" text-anchor="end">-15°</text>
<text x="261" y="253.9" font-size="4.6" fill="#444" text-anchor="end">-30°</text>
<text x="363.8" y="294.6" font-size="5.2" fill="#444" text-anchor="middle">Longitude</text>
<path d="M268.8 179.2C268.1 177 266.2 175.9 266.2 174A2.6 2.6 0 1 1 271.4 174C271.4 175.9 269.5 177 268.8 179.2Z" fill="#e3141c"/>
<circle cx="268.8" cy="174" r="1.25" fill="#fff"/>
<path d="M309.6 212.2C308.9 210 307 208.9 307 207A2.6 2.6 0 1 1 312.2 207C312.2 208.9 310.3 210 309.6 212.2Z" fill="#e3141c"/>
<circle cx="309.6" cy="207" r="1.25" fill="#fff"/>
<path d="M454 233.2C453.3 231 451.4 229.9 451.4 228A2.6 2.6 0 1 1 456.6 228C456.6 229.9 454.7 231 454 233.2Z" fill="#e3141c"/>
<circle cx="454" cy="228" r="1.25" fill="#fff"/>
<text x="272.3" y="163.6" font-size="11.6" fill="#000" font-weight="bold" textLength="12.8" lengthAdjust="spacingAndGlyphs" stroke="#000" stroke-width="0.25">(c)</text>
<text x="272.6" y="173.5" font-size="8.4" fill="#e3141c" textLength="36" lengthAdjust="spacingAndGlyphs" stroke="#e3141c" stroke-width="0.3">Barbados</text>
<text x="312" y="206.2" font-size="8.4" fill="#e3141c" textLength="23" lengthAdjust="spacingAndGlyphs" stroke="#e3141c" stroke-width="0.3">Recife</text>
<text x="408" y="229.8" font-size="8.4" fill="#e3141c" textLength="42" lengthAdjust="spacingAndGlyphs" stroke="#e3141c" stroke-width="0.3">La Réunion</text>
<rect x="354.9" y="156.5" width="107" height="46.6" fill="#fff" stroke="#6b2fa0" stroke-width="1.35"/>
<text x="367.4" y="167" font-size="8.5" fill="#111" textLength="33.6" lengthAdjust="spacingAndGlyphs" stroke="#111" stroke-width="0.12">AOD(440)</text>
<text x="403.3" y="167" font-size="8.5" fill="#111" textLength="3.8" lengthAdjust="spacingAndGlyphs" stroke="#111" stroke-width="0.12">=</text>
<text x="409.8" y="167" font-size="8.5" fill="#111" textLength="14.2" lengthAdjust="spacingAndGlyphs" stroke="#111" stroke-width="0.12">0.08</text>
<text x="427.2" y="167" font-size="8.5" fill="#111" textLength="4.4" lengthAdjust="spacingAndGlyphs" stroke="#111" stroke-width="0.12">±</text>
<text x="435" y="167" font-size="8.5" fill="#111" textLength="14.6" lengthAdjust="spacingAndGlyphs" stroke="#111" stroke-width="0.12">0.04</text>
<text x="367.4" y="177.2" font-size="8.5" fill="#111" textLength="33.6" lengthAdjust="spacingAndGlyphs" stroke="#111" stroke-width="0.12">AOD(532)</text>
<text x="403.3" y="177.2" font-size="8.5" fill="#111" textLength="3.8" lengthAdjust="spacingAndGlyphs" stroke="#111" stroke-width="0.12">=</text>
<text x="409.8" y="177.2" font-size="8.5" fill="#111" textLength="14.2" lengthAdjust="spacingAndGlyphs" stroke="#111" stroke-width="0.12">0.07</text>
<text x="427.2" y="177.2" font-size="8.5" fill="#111" textLength="4.4" lengthAdjust="spacingAndGlyphs" stroke="#111" stroke-width="0.12">±</text>
<text x="435" y="177.2" font-size="8.5" fill="#111" textLength="14.6" lengthAdjust="spacingAndGlyphs" stroke="#111" stroke-width="0.12">0.03</text>
<text x="367.4" y="187.5" font-size="8.5" fill="#111" textLength="33.6" lengthAdjust="spacingAndGlyphs" stroke="#111" stroke-width="0.12">AOD(870)</text>
<text x="403.3" y="187.5" font-size="8.5" fill="#111" textLength="3.8" lengthAdjust="spacingAndGlyphs" stroke="#111" stroke-width="0.12">=</text>
<text x="409.8" y="187.5" font-size="8.5" fill="#111" textLength="14.2" lengthAdjust="spacingAndGlyphs" stroke="#111" stroke-width="0.12">0.05</text>
<text x="427.2" y="187.5" font-size="8.5" fill="#111" textLength="4.4" lengthAdjust="spacingAndGlyphs" stroke="#111" stroke-width="0.12">±</text>
<text x="435" y="187.5" font-size="8.5" fill="#111" textLength="14.6" lengthAdjust="spacingAndGlyphs" stroke="#111" stroke-width="0.12">0.03</text>
<text x="361.5" y="198" font-size="8.5" fill="#111" textLength="46.8" lengthAdjust="spacingAndGlyphs" stroke="#111" stroke-width="0.12">EAE(440/870)</text>
<text x="411.1" y="198" font-size="8.5" fill="#111" textLength="3.8" lengthAdjust="spacingAndGlyphs" stroke="#111" stroke-width="0.12">=</text>
<text x="419.6" y="198" font-size="8.5" fill="#111" textLength="14.4" lengthAdjust="spacingAndGlyphs" stroke="#111" stroke-width="0.12">0.53</text>
<text x="436.9" y="198" font-size="8.5" fill="#111" textLength="4.6" lengthAdjust="spacingAndGlyphs" stroke="#111" stroke-width="0.12">±</text>
<text x="444.8" y="198" font-size="8.5" fill="#111" textLength="10.8" lengthAdjust="spacingAndGlyphs" stroke="#111" stroke-width="0.12">0.2</text>
<rect x="468.2" y="270.2" width="5.9" height="10.9" fill="#00ffff"/>
<rect x="468.2" y="259.5" width="5.9" height="10.9" fill="#17e8ff"/>
<rect x="468.2" y="248.8" width="5.9" height="10.9" fill="#2ed1ff"/>
<rect x="468.2" y="238" width="5.9" height="10.9" fill="#46b9ff"/>
<rect x="468.2" y="227.2" width="5.9" height="10.9" fill="#5da2ff"/>
<rect x="468.2" y="216.5" width="5.9" height="10.9" fill="#748bff"/>
<rect x="468.2" y="205.8" width="5.9" height="10.9" fill="#8b74ff"/>
<rect x="468.2" y="195" width="5.9" height="10.9" fill="#a25dff"/>
<rect x="468.2" y="184.2" width="5.9" height="10.9" fill="#b946ff"/>
<rect x="468.2" y="173.5" width="5.9" height="10.9" fill="#d12eff"/>
<rect x="468.2" y="162.8" width="5.9" height="10.9" fill="#e817ff"/>
<rect x="468.2" y="152" width="5.9" height="10.9" fill="#ff00ff"/>
<text x="476.6" y="283.8" font-size="7.0" fill="#333">0</text>
<text x="476.6" y="262.3" font-size="7.0" fill="#333">0.2</text>
<text x="476.6" y="240.8" font-size="7.0" fill="#333">0.4</text>
<text x="476.6" y="219.3" font-size="7.0" fill="#333">0.6</text>
<text x="476.6" y="197.8" font-size="7.0" fill="#333">0.8</text>
<text x="476.6" y="176.3" font-size="7.0" fill="#333">1</text>
<text x="476.6" y="154.8" font-size="7.0" fill="#333">1.2</text>
<text x="493.5" y="216.5" font-size="7.0" fill="#333" text-anchor="middle" transform="rotate(-90 493.5 216.5)">EAE(440/870)</text></svg></body></html>
